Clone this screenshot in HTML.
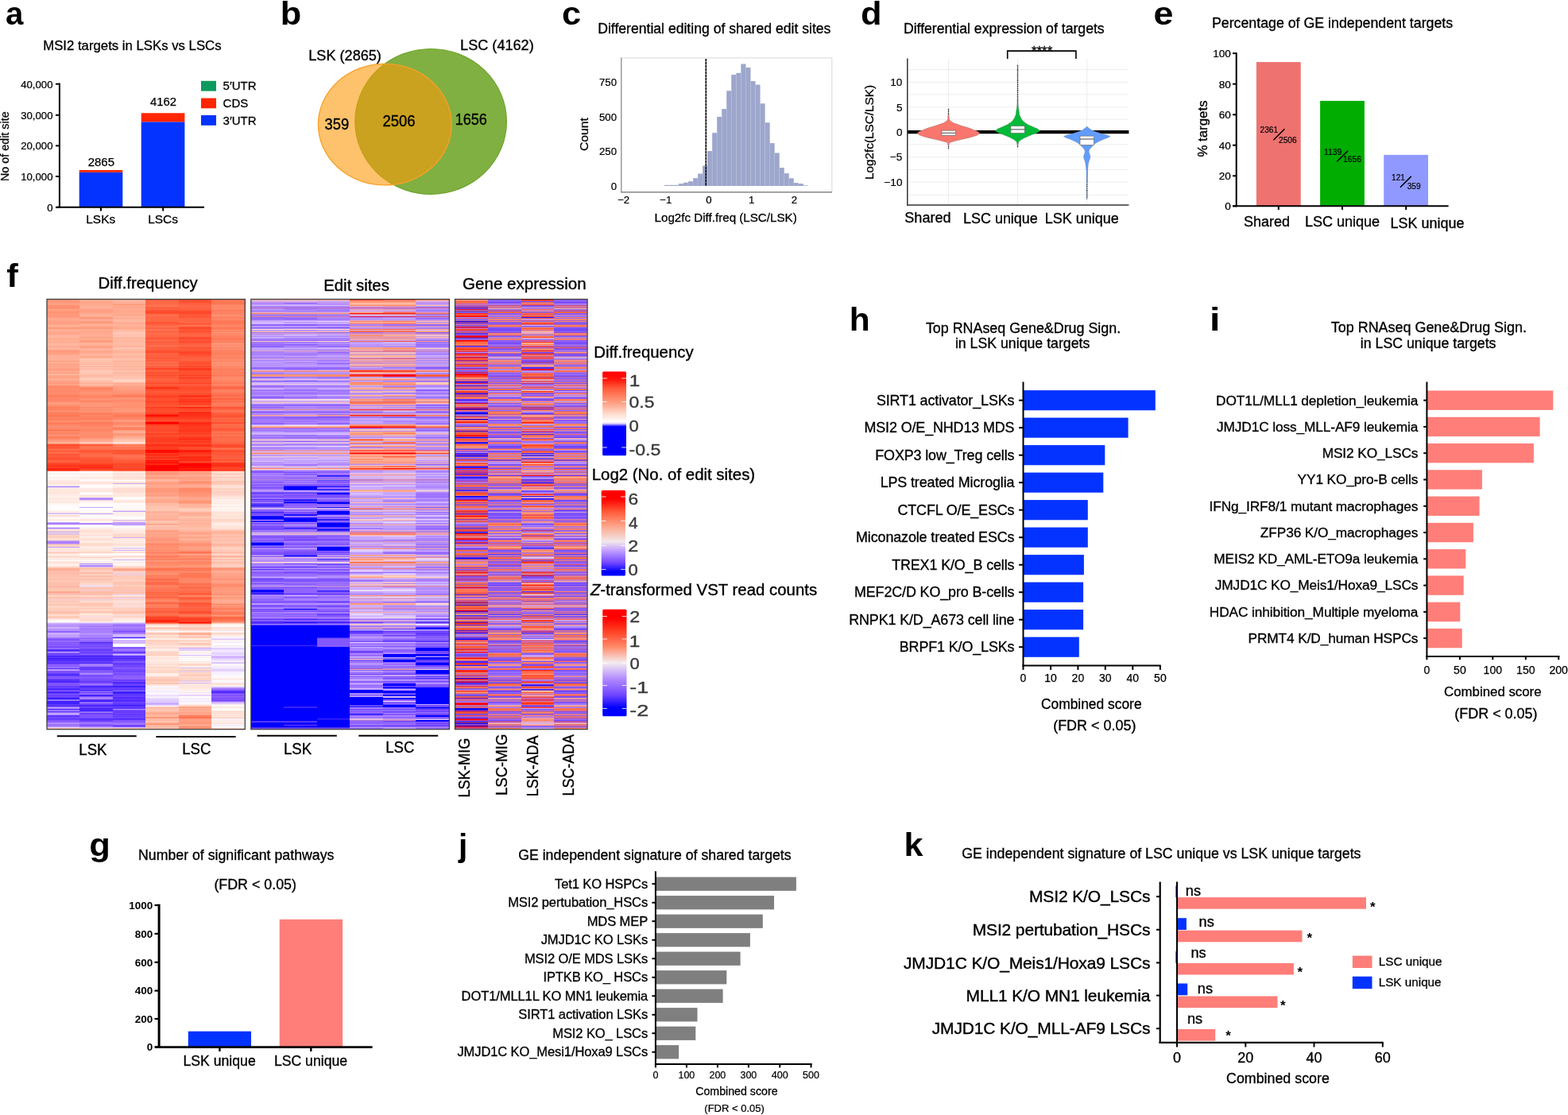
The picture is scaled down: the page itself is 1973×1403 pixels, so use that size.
<!DOCTYPE html>
<html lang="en"><head><meta charset="utf-8"><title>Figure</title>
<style>
html,body{margin:0;padding:0;background:#fff;}
body{width:1973px;height:1403px;position:relative;overflow:hidden;font-family:"Liberation Sans", sans-serif;}
svg{position:absolute;left:0;top:0;}
svg text{font-family:"Liberation Sans", sans-serif;}
.hm{position:absolute;top:377px;height:540px;}
.hm i{position:absolute;top:0;height:540px;display:block;}
#a0{left:58.90px;width:41.75px;background:linear-gradient(#ff987c 0 1px,#ff9c80 0 2px,#ff9474 0 3px,#ff9c80 0 5px,#ffa488 0 6px,#ff9c80 0 7px,#ff9474 0 8px,#ff9074 0 9px,#ff9070 0 10px,#ff8c70 0 11px,#ff9474 0 12px,#ffa488 0 13px,#ff9c7c 0 15px,#ff9474 0 17px,#ff9478 0 18px,#ff9878 0 19px,#ff9c80 0 20px,#ff9478 0 21px,#ff987c 0 22px,#ffa084 0 23px,#ffa488 0 24px,#ffa88c 0 26px,#ffa488 0 27px,#ffa084 0 29px,#ffa088 0 30px,#ffa084 0 31px,#ffa88c 0 32px,#ffac94 0 33px,#ffb49c 0 34px,#ffa488 0 35px,#ff9c7c 0 36px,#ff9c80 0 37px,#ffa488 0 38px,#ffbca4 0 39px,#ffa890 0 40px,#ffac90 0 41px,#ffa890 0 42px,#ffa488 0 43px,#ffa890 0 44px,#ffb098 0 45px,#ffb49c 0 48px,#ffb094 0 49px,#ffac94 0 50px,#ffb094 0 51px,#ffb098 0 54px,#ffac90 0 55px,#ffb8a4 0 56px,#ffb8a0 0 57px,#ffb098 0 59px,#ffac94 0 60px,#ffb098 0 61px,#ffb8a0 0 63px,#ffa084 0 64px,#ff9c80 0 67px,#ffa084 0 69px,#ffa890 0 70px,#ffb098 0 71px,#ffac94 0 72px,#ffb098 0 74px,#ffac94 0 75px,#ffb498 0 76px,#ffa890 0 77px,#ffa88c 0 79px,#ffb49c 0 80px,#ffac94 0 81px,#ff9c80 0 82px,#ffa88c 0 83px,#ffac90 0 84px,#ff9c80 0 85px,#ffb098 0 86px,#ffa488 0 87px,#ff9c7c 0 88px,#ff9c80 0 89px,#ffa890 0 91px,#ffa88c 0 92px,#ffa488 0 93px,#ffa88c 0 94px,#ffc0ac 0 95px,#ffa488 0 98px,#ffa084 0 99px,#ffac90 0 100px,#ffb094 0 101px,#ffac94 0 102px,#ff9c80 0 103px,#ffa488 0 104px,#ffa088 0 105px,#ff9474 0 106px,#ffa890 0 107px,#ff9c80 0 108px,#ff9074 0 109px,#ff8c6c 0 110px,#ff8868 0 112px,#ff9070 0 113px,#ff8c70 0 114px,#ff8868 0 115px,#ff886c 0 116px,#ff8c70 0 117px,#ff8c6c 0 120px,#ff7c5c 0 122px,#ff8060 0 123px,#ff8868 0 124px,#ff886c 0 125px,#ff8464 0 127px,#ff8868 0 128px,#ff9074 0 129px,#ff9478 0 130px,#ffa488 0 131px,#ff9878 0 132px,#ff9070 0 134px,#ff8868 0 135px,#ff8060 0 136px,#ff7c58 0 137px,#ff8464 0 139px,#ff8864 0 140px,#ff9474 0 141px,#ff8c6c 0 142px,#ff7858 0 143px,#ff8464 0 144px,#ff8060 0 145px,#ff7854 0 146px,#ff7450 0 147px,#ff8060 0 148px,#ff8464 0 149px,#ff805c 0 152px,#ff8864 0 153px,#ff9878 0 154px,#ff8060 0 155px,#ff7858 0 156px,#ff8060 0 157px,#ff8864 0 158px,#ff8868 0 159px,#ff9074 0 160px,#ff8c70 0 161px,#ff886c 0 162px,#ff8c70 0 163px,#ff7c5c 0 164px,#ff7858 0 165px,#ff7c5c 0 166px,#ff9474 0 167px,#ff8060 0 168px,#ff8464 0 169px,#ff886c 0 170px,#ff9474 0 171px,#ff8c70 0 172px,#ff8464 0 173px,#ff7858 0 174px,#ff8464 0 176px,#ff9c80 0 177px,#ff987c 0 178px,#ffa084 0 179px,#ffac90 0 180px,#ffb8a0 0 181px,#ff8468 0 182px,#ff5434 0 183px,#ff482c 0 184px,#ff5838 0 187px,#ff5c3c 0 188px,#ff7450 0 189px,#ff6040 0 192px,#ff6c48 0 193px,#ff6c4c 0 194px,#ff5838 0 195px,#ff5434 0 196px,#ff5c3c 0 198px,#ff5434 0 199px,#ff5030 0 201px,#ff5434 0 202px,#ff5c3c 0 203px,#ff6444 0 204px,#ff5c3c 0 205px,#ff4c30 0 206px,#ff4428 0 207px,#ff4024 0 208px,#ff3820 0 209px,#ff3418 0 210px,#ff381c 0 211px,#ff4424 0 212px,#ff2410 0 215px,#ff5c48 0 216px,#fff8f8 0 217px,#fff8f4 0 219px,#ffece4 0 220px,#fff8f4 0 221px,#fffcfc 0 223px,#fff0e8 0 225px,#fff8f4 0 226px,#fff4f4 0 227px,#ffece4 0 228px,#ffe8e0 0 230px,#ffe4dc 0 232px,#ffe8dc 0 233px,#fff4ec 0 234px,#e8dcf8 0 235px,#ac80ff 0 236px,#e8d8f4 0 237px,#ffece4 0 238px,#ffe8e0 0 242px,#ffe4dc 0 243px,#ffe4d8 0 244px,#ffe8e0 0 245px,#ffece4 0 246px,#ffece8 0 247px,#fff0e8 0 249px,#ffece8 0 250px,#ffe4dc 0 251px,#ffe8e0 0 252px,#fff0ec 0 253px,#ffece4 0 254px,#ffe4d8 0 255px,#ffece4 0 256px,#fff4f0 0 258px,#fffcfc 0 259px,#fff8f8 0 260px,#fffcfc 0 263px,#fffcf8 0 266px,#ffece4 0 267px,#ffece8 0 268px,#e8d4f0 0 269px,#d4b8f4 0 270px,#fff4f0 0 271px,#ffe0d4 0 272px,#ffe0d8 0 273px,#ffece8 0 274px,#fffcfc 0 275px,#fff8f4 0 276px,#ffece4 0 278px,#fff4ec 0 279px,#fffcf8 0 280px,#c0a0fc 0 281px,#ac80ff 0 283px,#e8d8f8 0 284px,#fffcf8 0 285px,#fffcfc 0 286px,#e8d8f4 0 287px,#ac80ff 0 288px,#d4b8f4 0 289px,#ffe8e0 0 290px,#ffe0d4 0 291px,#ffd8cc 0 292px,#c09cf8 0 293px,#ffece4 0 294px,#d4b0e8 0 295px,#e8c8dc 0 296px,#ffd4c8 0 297px,#ffd0c0 0 298px,#ffd0bc 0 300px,#ffe0d4 0 302px,#ffdcd0 0 303px,#d4a8e0 0 304px,#ac80ff 0 307px,#d4a4dc 0 308px,#ffccb8 0 309px,#ffd0bc 0 310px,#ffdccc 0 311px,#c098f4 0 312px,#ffe8e0 0 313px,#ffe4dc 0 315px,#ffe4d8 0 316px,#ffece4 0 317px,#ffd4c8 0 318px,#ffccbc 0 319px,#ffd8c8 0 320px,#fff0ec 0 322px,#ffdccc 0 323px,#ffdcd0 0 324px,#ffe0d8 0 325px,#ffece8 0 327px,#ffece4 0 328px,#fffcf8 0 329px,#ffe8e0 0 330px,#ffe0d4 0 331px,#ffe4dc 0 332px,#ffece8 0 333px,#fff0e8 0 335px,#ffe4d8 0 336px,#ffdcd0 0 337px,#ffc0ac 0 338px,#ffb098 0 341px,#ffb4a0 0 342px,#ffc4b4 0 343px,#ffbca8 0 344px,#ffb8a4 0 345px,#ffc0ac 0 349px,#ffc4b0 0 350px,#ffc8b4 0 351px,#ffbca8 0 352px,#ffc0ac 0 353px,#ffc8b4 0 354px,#ffccb8 0 355px,#ffc0ac 0 358px,#ffbca8 0 359px,#ffc8b4 0 360px,#ffb098 0 361px,#f8c0bc 0 362px,#ffbca4 0 363px,#ffc0ac 0 364px,#ffc8b4 0 367px,#ffa88c 0 369px,#f8b4ac 0 370px,#ffc0ac 0 371px,#ffc4b0 0 372px,#ffd0c0 0 373px,#ffd4c8 0 374px,#ffc0ac 0 376px,#ffccb8 0 377px,#f8c8c8 0 378px,#f8cccc 0 379px,#ffc8b4 0 381px,#ffd0c0 0 383px,#ffc4b0 0 384px,#ffc8b4 0 385px,#ffd4c8 0 387px,#ffd4c4 0 388px,#ffd0bc 0 389px,#ffccb8 0 391px,#f8cccc 0 392px,#ffc0ac 0 393px,#ffc0a8 0 395px,#ffccbc 0 396px,#ffd8c8 0 397px,#ffdcd0 0 398px,#ffccb8 0 399px,#ffc8b4 0 400px,#ffc8b8 0 401px,#ffe0d4 0 402px,#ffece4 0 403px,#fff0e8 0 404px,#fffcfc 0 406px,#e8d4fc 0 407px,#ccb0ff 0 408px,#c0a0ff 0 409px,#b894ff 0 412px,#ccacff 0 413px,#d0b4ff 0 414px,#b490ff 0 415px,#bc98ff 0 416px,#b48cff 0 417px,#9064ff 0 418px,#986cff 0 419px,#c0a0ff 0 420px,#d0b0ff 0 421px,#ccacff 0 422px,#b894ff 0 423px,#c4a4ff 0 424px,#c09cff 0 425px,#a478ff 0 426px,#9064ff 0 427px,#8054ff 0 428px,#7c50ff 0 429px,#9c70ff 0 430px,#9468ff 0 431px,#8058ff 0 432px,#8c5cff 0 433px,#8858ff 0 434px,#8458ff 0 435px,#8c60ff 0 436px,#7448ff 0 437px,#8858ff 0 438px,#7c50ff 0 439px,#a884ff 0 440px,#4824ff 0 441px,#502cff 0 442px,#6038ff 0 443px,#c4a4ff 0 444px,#906cff 0 445px,#7044ff 0 446px,#6c44ff 0 447px,#7448ff 0 448px,#3c20ff 0 449px,#542cff 0 450px,#5c34ff 0 451px,#4424ff 0 452px,#3c20ff 0 453px,#5c34ff 0 454px,#4c28ff 0 455px,#6c40ff 0 456px,#5c34ff 0 458px,#6c40ff 0 459px,#9064ff 0 460px,#8c60ff 0 461px,#7c50ff 0 462px,#b490ff 0 463px,#7448ff 0 465px,#b08cff 0 466px,#c4a4ff 0 467px,#8050ff 0 469px,#784cff 0 470px,#643cff 0 471px,#6038ff 0 472px,#3c20ff 0 473px,#7448ff 0 474px,#784cff 0 475px,#8458ff 0 477px,#7044ff 0 478px,#542cff 0 479px,#5c34ff 0 480px,#4424ff 0 481px,#4c28ff 0 482px,#7c50ff 0 483px,#8454ff 0 484px,#8054ff 0 486px,#6840ff 0 487px,#6038ff 0 488px,#7048ff 0 489px,#502cff 0 490px,#3c20ff 0 491px,#7448ff 0 492px,#8458ff 0 493px,#502cff 0 494px,#3c20ff 0 495px,#6438ff 0 496px,#8054ff 0 497px,#6c40ff 0 498px,#6c44ff 0 499px,#7448ff 0 500px,#6038ff 0 501px,#3c20ff 0 503px,#8868ff 0 504px,#a480ff 0 505px,#3c20ff 0 507px,#4424ff 0 508px,#3c20ff 0 509px,#6038ff 0 510px,#5c34ff 0 511px,#4c28ff 0 512px,#8c68ff 0 513px,#c4a4ff 0 514px,#9c74ff 0 515px,#7044ff 0 517px,#c4a4ff 0 518px,#4424ff 0 519px,#9470ff 0 520px,#c4a4ff 0 522px,#ac88ff 0 523px,#6034ff 0 524px,#6038ff 0 525px,#6c44ff 0 526px,#7448ff 0 527px,#6038ff 0 528px,#6c40ff 0 529px,#8054ff 0 530px,#8858ff 0 531px,#9060ff 0 532px,#ac88ff 0 533px,#b48cff 0 534px,#a47cff 0 535px,#986cff 0 536px,#a880ff 0 537px,#b48cff 0 538px,#e4d0fc 0 539px,#ffbca8 0)}
#a1{left:100.35px;width:41.75px;background:linear-gradient(#ffb094 0 1px,#ffac90 0 2px,#ffa88c 0 3px,#ffa488 0 4px,#ffa890 0 5px,#ffa488 0 6px,#ffac90 0 7px,#ffac94 0 9px,#ffb098 0 11px,#ffa890 0 12px,#ffa084 0 13px,#ff9c7c 0 14px,#ffa488 0 15px,#ff9c80 0 16px,#ffa88c 0 17px,#ffa890 0 18px,#ffac90 0 19px,#ffb098 0 20px,#ffb49c 0 21px,#ffa48c 0 22px,#ff9c7c 0 23px,#ff9c80 0 25px,#ffb49c 0 26px,#ffa88c 0 27px,#ffa084 0 28px,#ff987c 0 29px,#ff9478 0 30px,#ffb094 0 32px,#ffac94 0 33px,#ffa88c 0 34px,#ffa084 0 35px,#ff9c80 0 37px,#ffa488 0 38px,#ffb8a0 0 39px,#ffa488 0 40px,#ffa48c 0 41px,#ffac90 0 43px,#ffa88c 0 44px,#ffb098 0 45px,#ffac90 0 47px,#ffa488 0 49px,#ffb094 0 50px,#ffac94 0 51px,#ff9c7c 0 52px,#ff9c80 0 53px,#ffa084 0 54px,#ffa88c 0 55px,#ffb8a0 0 56px,#ffb098 0 58px,#ffa88c 0 59px,#ffa084 0 61px,#ffac94 0 62px,#ffbca4 0 63px,#ffb098 0 64px,#ffa88c 0 66px,#ffa890 0 67px,#ffac94 0 68px,#ffb094 0 69px,#ffb8a4 0 70px,#ffb49c 0 71px,#ffa88c 0 72px,#ffac90 0 73px,#ffb49c 0 74px,#ffc0a8 0 75px,#ffccb8 0 76px,#ffc4ac 0 77px,#ffc0ac 0 78px,#ffc0a8 0 79px,#ffc0ac 0 80px,#ffbca4 0 81px,#ffb49c 0 82px,#ffc4b4 0 83px,#ffc4b0 0 84px,#ffac94 0 85px,#ffc8b4 0 86px,#ffbca4 0 87px,#ffb8a4 0 88px,#ffc4b4 0 89px,#ffc8b8 0 91px,#ffccb8 0 92px,#ffc8b4 0 93px,#ffc0ac 0 94px,#ffc4b0 0 95px,#ffb49c 0 96px,#ffbca4 0 97px,#ffbca8 0 98px,#ffc8b4 0 99px,#ffccbc 0 100px,#ffd0c0 0 101px,#ffc4ac 0 102px,#ffbca8 0 103px,#ffc0ac 0 104px,#ffbca8 0 105px,#ffac94 0 106px,#ffb8a4 0 107px,#ffbca4 0 108px,#ffb094 0 109px,#ff9c80 0 110px,#ff9070 0 111px,#ff8060 0 112px,#ff8464 0 113px,#ff8868 0 114px,#ff8c6c 0 116px,#ff9474 0 119px,#ff9074 0 120px,#ff886c 0 121px,#ff8464 0 122px,#ff8868 0 124px,#ff886c 0 125px,#ff9878 0 126px,#ff8c70 0 127px,#ff8c6c 0 128px,#ff8060 0 129px,#ff8c70 0 130px,#ffa488 0 131px,#ff8c6c 0 132px,#ff9c7c 0 133px,#ff9c80 0 134px,#ff9878 0 135px,#ff886c 0 136px,#ff9070 0 137px,#ff9474 0 138px,#ff9070 0 139px,#ff8c6c 0 140px,#ff9878 0 141px,#ff9070 0 142px,#ff8868 0 143px,#ff7c5c 0 145px,#ff8864 0 147px,#ff8060 0 148px,#ff8464 0 149px,#ff8060 0 150px,#ff7854 0 151px,#ff8c6c 0 152px,#ff9070 0 153px,#ff8c6c 0 154px,#ff7858 0 155px,#ff7c58 0 156px,#ff8060 0 159px,#ff8868 0 160px,#ff9070 0 161px,#ff8868 0 164px,#ff8464 0 165px,#ff8868 0 166px,#ff9070 0 168px,#ff8c70 0 169px,#ff8c6c 0 170px,#ff9070 0 171px,#ff8868 0 172px,#ff9070 0 173px,#ff8c6c 0 174px,#ff9474 0 175px,#ffa080 0 176px,#ffa890 0 177px,#ffa88c 0 178px,#ffb098 0 179px,#ffc0ac 0 180px,#ffd0c4 0 181px,#ffa088 0 182px,#ff6444 0 183px,#ff5838 0 184px,#ff7050 0 185px,#ff7454 0 187px,#ff7050 0 189px,#ff5838 0 191px,#ff5434 0 192px,#ff6040 0 193px,#ff6844 0 195px,#ff6848 0 196px,#ff7050 0 197px,#ff6848 0 198px,#ff5c3c 0 199px,#ff5838 0 202px,#ff5030 0 203px,#ff5434 0 205px,#ff5030 0 206px,#ff4828 0 207px,#ff3c20 0 208px,#ff341c 0 209px,#ff2c14 0 210px,#ff3018 0 211px,#ff2c14 0 212px,#ff341c 0 213px,#ff3c20 0 214px,#ff5030 0 215px,#ff8068 0 216px,#fffcfc 0 217px,#fffcf8 0 218px,#fff4f0 0 219px,#fff0ec 0 220px,#fff4ec 0 221px,#fff4f0 0 222px,#fff8f8 0 223px,#ffe4d8 0 224px,#ffece8 0 226px,#fff8f4 0 227px,#fffcfc 0 228px,#fff0ec 0 229px,#ffe8e0 0 230px,#ffe4dc 0 232px,#ffece8 0 233px,#fff8f4 0 234px,#fff 0 235px,#fff8f8 0 236px,#fffcfc 0 237px,#ffece8 0 239px,#ffece4 0 240px,#ffe8e0 0 241px,#ffe4dc 0 242px,#fff4f0 0 243px,#fffffc 0 244px,#fffcfc 0 245px,#fff4f0 0 246px,#ffe4dc 0 247px,#ffe0d4 0 248px,#fff0e8 0 249px,#c4a0f8 0 250px,#b088ff 0 252px,#eccce4 0 253px,#fff0e8 0 254px,#fff4f0 0 256px,#fffcfc 0 258px,#fffcf8 0 260px,#fffcfc 0 261px,#c4a4ff 0 262px,#fffcfc 0 263px,#fffffc 0 265px,#fff8f4 0 266px,#fffcfc 0 268px,#ffece4 0 269px,#c4a0f8 0 270px,#fff0ec 0 271px,#fff 0 272px,#fffcfc 0 273px,#fff8f8 0 274px,#fff8f4 0 275px,#fff4f0 0 276px,#ffe8e0 0 278px,#ffece4 0 279px,#fff8f4 0 280px,#fffcfc 0 281px,#b088ff 0 283px,#ece0ff 0 284px,#fffcfc 0 286px,#fff4f4 0 287px,#ffece8 0 288px,#ffece4 0 289px,#ffe8e0 0 290px,#ffe4d8 0 291px,#ffd8cc 0 292px,#ffe4dc 0 293px,#ffe4d8 0 294px,#ffe8e0 0 295px,#ffece4 0 296px,#ffe0d8 0 298px,#fff4f0 0 299px,#ffe8e4 0 300px,#ffe8e0 0 301px,#ffdccc 0 302px,#ffe0d4 0 303px,#ffe8e0 0 304px,#ffece4 0 306px,#ffe4d8 0 307px,#ffd0c0 0 308px,#ffe0d4 0 309px,#ffdcd0 0 310px,#ffe8dc 0 311px,#fff0ec 0 312px,#ffece4 0 313px,#ffe8e0 0 315px,#ffe0d4 0 316px,#ffe8dc 0 317px,#ffd4c4 0 318px,#ffd4c8 0 319px,#fff0e8 0 320px,#fffffc 0 321px,#fff0e8 0 322px,#fff0ec 0 323px,#ffe4dc 0 324px,#ffd0c0 0 325px,#ffece4 0 328px,#fffcfc 0 329px,#fff0ec 0 330px,#ffe8e0 0 331px,#fff0ec 0 332px,#b088ff 0 333px,#ecdcf8 0 334px,#b088ff 0 336px,#d8b8ec 0 337px,#ffccb8 0 338px,#ffbca4 0 339px,#ffc8b4 0 340px,#ffccb8 0 341px,#ffd0c0 0 342px,#ffd8cc 0 343px,#ffb49c 0 344px,#ffc4b0 0 345px,#ffc8b8 0 346px,#ffd4c8 0 347px,#ffc0ac 0 348px,#ffbca8 0 349px,#ffc8b4 0 350px,#ffccb8 0 351px,#ffc0a8 0 352px,#f8c4c0 0 353px,#ffc4b0 0 354px,#ffd0c0 0 355px,#ffccb8 0 356px,#ffd0bc 0 357px,#ffd8cc 0 358px,#ffdccc 0 359px,#f0d8ec 0 360px,#f8e0e4 0 361px,#f8d4d4 0 362px,#f8c0bc 0 363px,#ffc4ac 0 364px,#ffc8b4 0 365px,#f8c8c8 0 366px,#f8c8c4 0 367px,#ffbca8 0 370px,#ffc0ac 0 371px,#ffc4b0 0 372px,#ffd4c4 0 373px,#ffd8cc 0 374px,#ffc8b4 0 375px,#ffc0ac 0 376px,#f8cccc 0 378px,#f8d4d8 0 379px,#ffdccc 0 380px,#ffdcd0 0 381px,#ffd0c0 0 382px,#ffc8b4 0 383px,#ffc0a8 0 384px,#ffc8b8 0 386px,#ffd0bc 0 387px,#ffd8c8 0 388px,#ffc8b8 0 389px,#ffccb8 0 390px,#ffdccc 0 391px,#ffd4c4 0 392px,#ffc4b4 0 393px,#ffc4b0 0 394px,#ffd4c4 0 395px,#ffe4dc 0 396px,#ffece4 0 397px,#ffdccc 0 398px,#f8e0e4 0 399px,#f8d8dc 0 400px,#ffdcd0 0 401px,#ffe0d4 0 402px,#ffd4c4 0 403px,#ffd8cc 0 404px,#ffe0d4 0 405px,#fff0ec 0 406px,#e8d4fc 0 407px,#ccacff 0 408px,#b890ff 0 409px,#b088ff 0 410px,#ac84ff 0 411px,#a074ff 0 412px,#b490ff 0 413px,#ac80ff 0 414px,#a074ff 0 415px,#a880ff 0 419px,#ac84ff 0 420px,#b894ff 0 421px,#b490ff 0 422px,#a880ff 0 426px,#8458ff 0 427px,#a880ff 0 428px,#986cff 0 430px,#885cff 0 431px,#5430ff 0 432px,#683cff 0 433px,#784cff 0 434px,#7448ff 0 435px,#8054ff 0 436px,#7044ff 0 437px,#8458ff 0 438px,#8054ff 0 439px,#784cff 0 440px,#643cff 0 441px,#683cff 0 442px,#744cff 0 443px,#7044ff 0 444px,#6840ff 0 445px,#7850ff 0 446px,#8860ff 0 447px,#6c40ff 0 448px,#4020ff 0 449px,#5430ff 0 450px,#5830ff 0 451px,#4c28ff 0 452px,#502cff 0 455px,#6c44ff 0 456px,#643cff 0 457px,#4828ff 0 458px,#9870ff 0 459px,#a880ff 0 461px,#9c70ff 0 462px,#6840ff 0 463px,#643cff 0 465px,#683cff 0 466px,#7448ff 0 467px,#9870ff 0 468px,#6c40ff 0 469px,#a078ff 0 470px,#a880ff 0 472px,#845cff 0 473px,#6c40ff 0 474px,#8458ff 0 475px,#885cff 0 476px,#8054ff 0 477px,#7c50ff 0 478px,#784cff 0 479px,#7448ff 0 480px,#6840ff 0 481px,#683cff 0 482px,#7448ff 0 483px,#9c70ff 0 485px,#8058ff 0 486px,#4c28ff 0 487px,#4424ff 0 488px,#643cff 0 489px,#6038ff 0 490px,#6840ff 0 491px,#5c34ff 0 492px,#5834ff 0 493px,#a880ff 0 494px,#5838ff 0 495px,#9068ff 0 496px,#9c74ff 0 497px,#4424ff 0 498px,#4420ff 0 499px,#744cff 0 500px,#a880ff 0 503px,#5c38ff 0 504px,#4824ff 0 505px,#4020ff 0 506px,#7c54ff 0 507px,#a880ff 0 508px,#7048ff 0 510px,#4824ff 0 511px,#4c28ff 0 512px,#6c44ff 0 513px,#6840ff 0 514px,#4824ff 0 515px,#4828ff 0 516px,#4c28ff 0 517px,#4424ff 0 518px,#7c58ff 0 519px,#a880ff 0 520px,#5c34ff 0 521px,#784cff 0 523px,#8458ff 0 524px,#7c50ff 0 525px,#8054ff 0 526px,#7448ff 0 527px,#5c34ff 0 528px,#5830ff 0 529px,#6038ff 0 530px,#7448ff 0 531px,#8458ff 0 532px,#a880ff 0 533px,#986cff 0 534px,#9468ff 0 535px,#7448ff 0 536px,#9064ff 0 537px,#a078ff 0 538px,#d0b4ff 0 539px,#ffccbc 0)}
#a2{left:141.80px;width:41.75px;background:linear-gradient(#ffb8a0 0 1px,#ffb49c 0 2px,#ffb4a0 0 3px,#ffb098 0 4px,#ffb49c 0 5px,#ff9c7c 0 7px,#ffa88c 0 8px,#ffa890 0 9px,#ffa88c 0 10px,#ffa48c 0 11px,#ffac90 0 12px,#ffac94 0 13px,#ffa88c 0 15px,#ffa890 0 16px,#ffa88c 0 17px,#ffac90 0 18px,#ffa88c 0 19px,#ffa890 0 20px,#ffac90 0 21px,#ffb49c 0 23px,#ffa890 0 24px,#ffb098 0 25px,#ffb8a4 0 27px,#ffb8a0 0 28px,#ffb49c 0 29px,#ffa890 0 30px,#ffb098 0 31px,#ffb094 0 32px,#ffb49c 0 33px,#ffb098 0 34px,#ffac90 0 36px,#ffa88c 0 37px,#ffb094 0 38px,#ffc4b0 0 39px,#ffb49c 0 40px,#ffc4b0 0 41px,#ffc8b4 0 42px,#ffc8b8 0 43px,#ffc4b4 0 44px,#ffc4b0 0 45px,#ffc0ac 0 46px,#ffc8b4 0 47px,#ffb8a4 0 48px,#ffb49c 0 49px,#ffb8a0 0 50px,#ffbca4 0 51px,#ffb8a0 0 54px,#ffb8a4 0 55px,#ffc0a8 0 56px,#ffb8a0 0 57px,#ffbca8 0 58px,#ffb49c 0 59px,#ffb4a0 0 60px,#ffc4b0 0 62px,#ffc0ac 0 63px,#ffb49c 0 64px,#ffbca4 0 65px,#ffb094 0 66px,#ffb49c 0 67px,#ffb8a0 0 68px,#ffbca8 0 69px,#ffc0a8 0 70px,#ffb8a0 0 71px,#ffb098 0 72px,#ffbca8 0 75px,#ffc4b0 0 76px,#ffbca4 0 77px,#ffb8a0 0 78px,#ffb49c 0 79px,#ffbca4 0 81px,#ffb49c 0 82px,#ffbca8 0 83px,#ffbca4 0 84px,#ffac94 0 85px,#ffc0a8 0 86px,#ffb8a0 0 87px,#ffb8a4 0 88px,#ffb4a0 0 89px,#ffc0ac 0 90px,#ffc4b0 0 91px,#ffbca4 0 92px,#ffb49c 0 93px,#ffb8a4 0 94px,#ffc4ac 0 95px,#ffb8a0 0 96px,#ffc4b0 0 97px,#ffc4ac 0 98px,#ffc0ac 0 99px,#ffccbc 0 101px,#ffd0bc 0 102px,#ffd8c8 0 103px,#ffd0c0 0 104px,#ffb8a4 0 105px,#ffa890 0 106px,#ffb094 0 107px,#ffac94 0 108px,#ffa88c 0 109px,#ffa084 0 110px,#ffa488 0 111px,#ff9c80 0 112px,#ffa084 0 113px,#ff9c80 0 115px,#ff9478 0 116px,#ff9474 0 118px,#ff9074 0 119px,#ff8868 0 120px,#ff7c5c 0 121px,#ff7858 0 122px,#ff805c 0 123px,#ff9474 0 125px,#ff9478 0 126px,#ff8868 0 128px,#ff9070 0 129px,#ff8c6c 0 130px,#ff987c 0 131px,#ff9070 0 132px,#ff9474 0 134px,#ff8c70 0 135px,#ff9070 0 136px,#ff9474 0 137px,#ff9878 0 138px,#ff987c 0 139px,#ff9878 0 140px,#ffa084 0 141px,#ff9478 0 142px,#ff8868 0 143px,#ff8464 0 144px,#ff8060 0 145px,#ff7c5c 0 146px,#ff7450 0 147px,#ff8060 0 148px,#ff8464 0 150px,#ff8868 0 151px,#ff9474 0 152px,#ffa084 0 153px,#ff987c 0 154px,#ff8868 0 156px,#ff8c6c 0 158px,#ff9878 0 159px,#ffa088 0 160px,#ff8c70 0 161px,#ff8060 0 163px,#ff805c 0 164px,#ffa084 0 165px,#ffa488 0 166px,#ffac90 0 167px,#ffac94 0 168px,#ff9878 0 169px,#ff9474 0 170px,#ff9c7c 0 171px,#ffa080 0 172px,#ffa890 0 174px,#ffb49c 0 175px,#ffb8a0 0 176px,#ffc4b0 0 178px,#ffccb8 0 179px,#ffd8c8 0 180px,#fff0e8 0 181px,#ffb8a4 0 182px,#ff8464 0 183px,#ff7c58 0 184px,#ff8464 0 185px,#ff7454 0 187px,#ff7858 0 188px,#ff7454 0 189px,#ff5434 0 194px,#ff6040 0 195px,#ff6848 0 196px,#ff7454 0 198px,#ff6c4c 0 199px,#ff6c48 0 200px,#ff6848 0 201px,#ff6444 0 202px,#ff5838 0 203px,#ff603c 0 204px,#ff5838 0 205px,#ff5434 0 206px,#ff482c 0 207px,#ff4428 0 208px,#ff4c2c 0 210px,#ff4c30 0 211px,#ff4c2c 0 212px,#ff4428 0 214px,#ff4424 0 215px,#ff7458 0 216px,#ffe8e0 0 219px,#ffdcd4 0 220px,#ffe4dc 0 221px,#ffe8e0 0 223px,#ffdcd0 0 224px,#ffe0d4 0 225px,#ffe4d8 0 226px,#ffe8e0 0 227px,#fffcfc 0 228px,#fff4f0 0 229px,#ffe8e0 0 230px,#ffdcd0 0 231px,#d0acf4 0 232px,#ffe8dc 0 233px,#fff4f0 0 234px,#fff8f4 0 235px,#ffe8e0 0 236px,#ffece4 0 237px,#ffdcd0 0 240px,#ffe0d4 0 241px,#ffdcd0 0 243px,#ffe8e0 0 244px,#ffece4 0 245px,#ffe8e0 0 247px,#ffe8dc 0 248px,#fff4f0 0 249px,#fffcfc 0 251px,#fff8f8 0 252px,#ffe8e0 0 256px,#fffcf8 0 257px,#fff 0 258px,#fff8f8 0 260px,#fffcfc 0 261px,#fff8f4 0 265px,#f0dcf0 0 266px,#c09cff 0 267px,#ffece4 0 268px,#fff0ec 0 272px,#fff8f4 0 273px,#fffcf8 0 275px,#fffcfc 0 276px,#fff4f0 0 277px,#e0c0ec 0 278px,#f0d0e0 0 279px,#ffece8 0 280px,#c09cff 0 284px,#f0e4fc 0 285px,#fffffc 0 286px,#fffcf8 0 287px,#fff4f4 0 288px,#fff0ec 0 289px,#fff0e8 0 290px,#ffece8 0 291px,#ffe4d8 0 292px,#ffece8 0 293px,#ffe8dc 0 294px,#ffe0d8 0 295px,#ffd8cc 0 298px,#ffd4c8 0 299px,#d0b0f8 0 300px,#ffe4dc 0 301px,#ffe8e0 0 302px,#fff0e8 0 303px,#ffe8dc 0 304px,#ffece4 0 305px,#ffece8 0 306px,#ffe8e0 0 307px,#ffe0d4 0 309px,#ffe4dc 0 310px,#ffece4 0 311px,#fff4f0 0 312px,#e0ccfc 0 313px,#f0dcf4 0 314px,#ffece4 0 315px,#d0b0f8 0 316px,#fff0ec 0 317px,#ffe0d4 0 318px,#ffdcd0 0 319px,#fffcf8 0 320px,#fff8f8 0 321px,#fffcf8 0 322px,#ffdcd0 0 323px,#ffe4dc 0 324px,#ffe0d4 0 325px,#fff8f4 0 326px,#fff0ec 0 327px,#d0b0f8 0 328px,#fff4f0 0 329px,#fff8f4 0 330px,#ffe8e0 0 331px,#fff0ec 0 332px,#fff8f4 0 333px,#fff4f0 0 335px,#ffdcd0 0 336px,#ffd8cc 0 337px,#ffccb8 0 338px,#ffb49c 0 339px,#ff9c80 0 340px,#ffa488 0 341px,#ffc0ac 0 342px,#ffd4c4 0 343px,#f8d0d0 0 344px,#f0ccdc 0 345px,#f8ccc8 0 346px,#f0ccdc 0 347px,#ffc8b4 0 349px,#ffccb8 0 350px,#ffd0bc 0 351px,#ffc4b4 0 352px,#ffd0c0 0 353px,#ffd4c4 0 354px,#ffccbc 0 355px,#ffc4ac 0 356px,#ffc4b0 0 358px,#ffc8b4 0 359px,#ffccb8 0 360px,#ffd0c0 0 361px,#ffc8b4 0 362px,#ffc0ac 0 363px,#ffc8b8 0 364px,#ffc4b0 0 365px,#ffc0a8 0 366px,#f8c4c0 0 367px,#ffc4b4 0 368px,#ffc0ac 0 370px,#f8cccc 0 371px,#f0d4e4 0 372px,#ffe8dc 0 373px,#ffe0d8 0 374px,#f8c8c4 0 375px,#eccce8 0 376px,#f8d4d4 0 377px,#ffd0c0 0 378px,#f8dcdc 0 379px,#ffe0d4 0 381px,#ffe0d8 0 382px,#ffd4c8 0 383px,#f8d8d8 0 384px,#ffe0d4 0 385px,#ffdcd0 0 386px,#f8d8dc 0 387px,#ffd8cc 0 388px,#ffd0c0 0 390px,#ffd0bc 0 391px,#ffccbc 0 392px,#ffc4b0 0 393px,#ffc0ac 0 395px,#ffd0c0 0 396px,#ffe0d4 0 397px,#f8d8dc 0 398px,#ffd0c0 0 399px,#ffd8cc 0 400px,#ffe0d4 0 401px,#ffe8dc 0 402px,#ffece8 0 403px,#ffece4 0 404px,#fff4f0 0 405px,#fff8f8 0 406px,#e0ccff 0 407px,#c8a8ff 0 408px,#ac84ff 0 409px,#9c70ff 0 411px,#a478ff 0 412px,#ac80ff 0 413px,#ac84ff 0 414px,#9468ff 0 415px,#a478ff 0 416px,#8c60ff 0 417px,#7c50ff 0 418px,#8c60ff 0 419px,#a074ff 0 420px,#ac80ff 0 421px,#d4b8ff 0 424px,#b094ff 0 425px,#3c20ff 0 426px,#d0c8ff 0 427px,#fff 0 428px,#d4b8ff 0 433px,#fff 0 437px,#8054ff 0 438px,#885cff 0 439px,#8c60ff 0 440px,#a884ff 0 441px,#9870ff 0 442px,#8c60ff 0 443px,#6840ff 0 444px,#6038ff 0 445px,#9874ff 0 446px,#d4b8ff 0 447px,#b898ff 0 448px,#502cff 0 449px,#6038ff 0 451px,#4824ff 0 452px,#6038ff 0 453px,#643cff 0 454px,#683cff 0 455px,#8458ff 0 457px,#643cff 0 459px,#683cff 0 460px,#784cff 0 461px,#683cff 0 462px,#8454ff 0 463px,#8054ff 0 465px,#744cff 0 466px,#7044ff 0 469px,#8458ff 0 470px,#7c50ff 0 471px,#7c4cff 0 472px,#8054ff 0 473px,#885cff 0 474px,#8c60ff 0 475px,#9060ff 0 478px,#683cff 0 479px,#6c40ff 0 480px,#784cff 0 481px,#542cff 0 482px,#4424ff 0 483px,#643cff 0 484px,#6c40ff 0 486px,#3c20ff 0 488px,#6c40ff 0 489px,#6438ff 0 490px,#6038ff 0 491px,#6c4cff 0 492px,#886cff 0 493px,#3c20ff 0 496px,#643cff 0 497px,#5c34ff 0 498px,#643cff 0 499px,#6c40ff 0 500px,#4c28ff 0 501px,#542cff 0 502px,#5c34ff 0 504px,#4824ff 0 505px,#5c34ff 0 506px,#643cff 0 507px,#7048ff 0 508px,#5834ff 0 509px,#6038ff 0 510px,#4020ff 0 511px,#4828ff 0 512px,#6c44ff 0 513px,#5830ff 0 514px,#5c34ff 0 515px,#b898ff 0 516px,#784cff 0 517px,#6c40ff 0 518px,#643cff 0 519px,#683cff 0 520px,#6c40ff 0 522px,#5c34ff 0 523px,#7448ff 0 524px,#5c34ff 0 525px,#7448ff 0 526px,#6c40ff 0 527px,#502cff 0 528px,#5834ff 0 529px,#8054ff 0 530px,#8458ff 0 531px,#885cff 0 532px,#9468ff 0 533px,#a078ff 0 534px,#a478ff 0 535px,#7448ff 0 536px,#6840ff 0 537px,#7c50ff 0 538px,#d0b8ff 0 539px,#ffbca8 0)}
#a3{left:183.25px;width:41.75px;background:linear-gradient(#ff6040 0 1px,#ff5c3c 0 2px,#ff7454 0 3px,#ff6440 0 4px,#ff6848 0 5px,#ff6c48 0 7px,#ff7454 0 8px,#ff7450 0 9px,#ff6844 0 10px,#ff5838 0 11px,#ff6444 0 13px,#ff5434 0 15px,#ff4428 0 16px,#ff4c2c 0 17px,#ff5434 0 18px,#ff6440 0 19px,#ff6c4c 0 20px,#ff7050 0 21px,#ff6440 0 22px,#ff6848 0 23px,#ff6844 0 25px,#ff6848 0 26px,#ff6844 0 27px,#ff6440 0 28px,#ff6040 0 29px,#ff4c2c 0 30px,#ff5c3c 0 31px,#ff6040 0 32px,#ff6444 0 33px,#ff7050 0 34px,#ff704c 0 35px,#ff6444 0 37px,#ff6c4c 0 38px,#ff805c 0 39px,#ff6440 0 40px,#ff6444 0 41px,#ff6848 0 42px,#ff6c48 0 43px,#ff704c 0 44px,#ff6848 0 45px,#ff6844 0 47px,#ff6040 0 48px,#ff5838 0 49px,#ff5c3c 0 50px,#ff603c 0 51px,#ff6c4c 0 52px,#ff6444 0 53px,#ff5c3c 0 54px,#ff6040 0 55px,#ff6848 0 56px,#ff6040 0 57px,#ff6c4c 0 58px,#ff7050 0 59px,#ff6848 0 60px,#ff5c3c 0 61px,#ff6040 0 62px,#ff6444 0 63px,#ff5838 0 64px,#ff5030 0 66px,#ff4828 0 67px,#ff6444 0 69px,#ff5838 0 70px,#ff6444 0 71px,#ff5c3c 0 72px,#ff6040 0 73px,#ff5c3c 0 74px,#ff5838 0 75px,#ff6440 0 76px,#ff5838 0 77px,#ff6444 0 78px,#ff6848 0 79px,#ff704c 0 80px,#ff6444 0 82px,#ff7050 0 83px,#ff6c4c 0 84px,#ff5838 0 85px,#ff6444 0 86px,#ff4428 0 87px,#ff4828 0 88px,#ff5838 0 89px,#ff6444 0 90px,#ff5c3c 0 91px,#ff5434 0 92px,#ff5030 0 93px,#ff5838 0 94px,#ff5c3c 0 95px,#ff482c 0 96px,#ff5838 0 99px,#ff603c 0 100px,#ff6444 0 101px,#ff6040 0 102px,#ff5c3c 0 103px,#ff5838 0 105px,#ff482c 0 106px,#ff5838 0 107px,#ff5c3c 0 108px,#ff5838 0 109px,#ff4c2c 0 110px,#ff381c 0 111px,#ff2c14 0 112px,#ff4024 0 113px,#ff5030 0 114px,#ff4c30 0 115px,#ff5c38 0 116px,#ff5838 0 117px,#ff5434 0 120px,#ff4428 0 121px,#ff4828 0 122px,#ff3c20 0 123px,#ff482c 0 124px,#ff5030 0 127px,#ff4c2c 0 128px,#ff4024 0 129px,#ff4828 0 130px,#ff5838 0 131px,#ff482c 0 132px,#ff5434 0 133px,#ff5838 0 134px,#ff5434 0 135px,#ff3c20 0 136px,#ff4428 0 137px,#ff4c2c 0 138px,#ff4c30 0 139px,#ff4c2c 0 140px,#ff5838 0 141px,#ff4c2c 0 142px,#ff4428 0 143px,#ff4424 0 144px,#ff3018 0 145px,#ff0c04 0 146px,#ff1408 0 147px,#ff2c14 0 148px,#ff381c 0 149px,#ff4424 0 150px,#ff4828 0 151px,#ff482c 0 152px,#ff5030 0 153px,#ff4024 0 154px,#f00 0 156px,#ff1408 0 157px,#ff4024 0 158px,#ff4428 0 159px,#ff4c2c 0 160px,#ff4828 0 161px,#ff5030 0 162px,#ff4c30 0 163px,#ff482c 0 166px,#ff5434 0 168px,#ff4024 0 170px,#ff5030 0 171px,#ff4c2c 0 172px,#ff5030 0 173px,#ff4024 0 175px,#ff381c 0 176px,#ff4428 0 177px,#ff3c20 0 178px,#ff3820 0 179px,#ff4428 0 180px,#ff4828 0 181px,#ff4024 0 182px,#ff381c 0 183px,#ff2410 0 184px,#ff3c20 0 189px,#ff0c04 0 193px,#ff4024 0 194px,#ff3018 0 195px,#ff2410 0 196px,#ff3c20 0 197px,#ff4024 0 198px,#ff3018 0 199px,#ff2c14 0 200px,#ff4428 0 201px,#ff3c20 0 202px,#ff0c08 0 203px,#ff2c18 0 204px,#ff0c04 0 205px,#ff1408 0 206px,#ff2810 0 207px,#ff2c14 0 208px,#ff0c04 0 209px,#f00 0 215px,#ff3024 0 216px,#ff9c80 0 217px,#ff9878 0 218px,#ff987c 0 219px,#ff9478 0 220px,#ffa084 0 221px,#ffa488 0 222px,#ffa890 0 223px,#ff9c80 0 225px,#ffa084 0 226px,#ffb4a0 0 227px,#ffbca8 0 228px,#ffac94 0 230px,#ff9c80 0 231px,#ffa080 0 232px,#ffa084 0 233px,#ffa890 0 234px,#ffac94 0 235px,#ffa084 0 236px,#ffac90 0 237px,#ff987c 0 238px,#ff9878 0 240px,#ff987c 0 243px,#ffa488 0 245px,#ff9c80 0 246px,#ffa080 0 247px,#ffa084 0 248px,#ffb49c 0 249px,#ffb8a0 0 250px,#ffac90 0 253px,#ffa88c 0 255px,#ffa890 0 256px,#ffbca4 0 259px,#ffc0ac 0 260px,#ffc4b0 0 264px,#ffccb8 0 265px,#ffc4b0 0 266px,#ffb8a0 0 267px,#ffac94 0 268px,#ffb4a0 0 269px,#ffb8a4 0 271px,#ffb8a0 0 272px,#ffb094 0 273px,#ffb49c 0 275px,#ffb4a0 0 276px,#ffac90 0 277px,#ffb49c 0 278px,#ffbca8 0 279px,#ffc8b4 0 280px,#ffc0a8 0 281px,#ffc4b0 0 282px,#ffa084 0 283px,#ffb098 0 284px,#ffc4b4 0 285px,#ffc4b0 0 286px,#ffbca8 0 289px,#ffb8a0 0 290px,#ffa88c 0 291px,#ff9c7c 0 292px,#ffa488 0 293px,#ffa48c 0 294px,#ffa890 0 295px,#ffa084 0 296px,#ffa488 0 297px,#ffa88c 0 298px,#ffa084 0 300px,#ff987c 0 303px,#ff9474 0 304px,#ffa084 0 306px,#ff9474 0 307px,#ff8868 0 309px,#ff9070 0 311px,#ff8c6c 0 312px,#ff9474 0 313px,#ff9074 0 314px,#ff9474 0 315px,#ff8464 0 316px,#ff9878 0 317px,#ff8464 0 320px,#ff9478 0 321px,#ff9070 0 322px,#ff7c5c 0 324px,#ff8060 0 325px,#ff8c6c 0 326px,#ff8460 0 327px,#ff8060 0 328px,#ff987c 0 329px,#ff9878 0 330px,#ff8464 0 332px,#ff8c6c 0 333px,#ff8868 0 334px,#ff9074 0 335px,#ff9474 0 336px,#ff9878 0 337px,#ff8460 0 338px,#ff7450 0 339px,#ff7050 0 340px,#ff7454 0 341px,#ff8464 0 342px,#ff9070 0 343px,#ff8868 0 344px,#ff9474 0 346px,#ff8464 0 347px,#ff805c 0 348px,#ff7c5c 0 349px,#ff8060 0 351px,#ff6c4c 0 352px,#ff6c48 0 353px,#ff7454 0 354px,#ff8060 0 355px,#ff6c4c 0 356px,#ff6848 0 358px,#ff6c4c 0 359px,#ff7858 0 360px,#ff8464 0 362px,#ff7454 0 363px,#ff8060 0 364px,#ff7454 0 365px,#ff7050 0 366px,#ff7858 0 367px,#ff7050 0 368px,#ff6844 0 370px,#ff704c 0 371px,#ff6440 0 372px,#ff7450 0 373px,#ff7454 0 374px,#ff5838 0 375px,#ff704c 0 376px,#ff7c5c 0 378px,#ff8864 0 379px,#ff886c 0 380px,#ff7c5c 0 381px,#ff6444 0 382px,#ff6848 0 383px,#ff7858 0 384px,#ff8060 0 386px,#ff7c5c 0 388px,#ff6444 0 389px,#ff6c48 0 390px,#ff6844 0 391px,#ff6848 0 392px,#ff5c3c 0 393px,#ff6040 0 394px,#ff6844 0 395px,#ff7050 0 396px,#ff704c 0 397px,#ff6848 0 398px,#ff5838 0 399px,#ff4828 0 400px,#ff4024 0 401px,#ff4428 0 402px,#ff4024 0 403px,#ff2814 0 404px,#ff200c 0 405px,#ff341c 0 406px,#ff482c 0 407px,#ff8464 0 408px,#ffc4b0 0 409px,#ffe0d8 0 410px,#ffe8e0 0 411px,#fff4f0 0 412px,#ffd8c8 0 413px,#ffb49c 0 414px,#ffe0d4 0 415px,#ffd8c8 0 416px,#fce8e4 0 417px,#fcfcff 0 418px,#ffece8 0 419px,#ffccbc 0 420px,#ffc0ac 0 421px,#ffccbc 0 422px,#ffe4d8 0 423px,#ffd8cc 0 424px,#ffdccc 0 425px,#ffdcd0 0 426px,#ffece4 0 428px,#ffd8c8 0 429px,#ffc8b4 0 430px,#ffd4c8 0 431px,#ffd8cc 0 432px,#ffd0c0 0 433px,#ffdccc 0 434px,#ffd8cc 0 435px,#ffdcd0 0 436px,#ffe8e0 0 437px,#ffd8cc 0 438px,#ffe0d4 0 439px,#ffe4dc 0 440px,#fff0ec 0 442px,#ffdccc 0 443px,#ffd4c8 0 446px,#ffd8c8 0 447px,#ffccbc 0 448px,#ffe8dc 0 449px,#ffece4 0 450px,#ffe0d8 0 451px,#ffe8e0 0 454px,#fcf0f0 0 455px,#ffe8e0 0 456px,#ffe4d8 0 457px,#ffece4 0 458px,#ffdcd0 0 459px,#ffe0d4 0 460px,#ffe4dc 0 461px,#ffe4d8 0 462px,#ffd4c4 0 463px,#ffd8c8 0 464px,#ffe0d4 0 466px,#ffd4c4 0 468px,#ffd8cc 0 469px,#ffd4c4 0 470px,#fff0e8 0 471px,#fff0ec 0 472px,#ffece8 0 473px,#ffece4 0 474px,#ffd8cc 0 475px,#ffc8b8 0 476px,#ffd4c4 0 477px,#ffc4b0 0 480px,#ffccb8 0 481px,#ffd4c4 0 482px,#ffccb8 0 483px,#ffbca8 0 484px,#ffe8e0 0 485px,#ffe4dc 0 486px,#fff4f0 0 487px,#f8f4ff 0 488px,#f8f0f4 0 489px,#fff0e8 0 490px,#f8f4ff 0 491px,#f8f0ff 0 492px,#f4f0ff 0 493px,#f4ecff 0 494px,#f8f4ff 0 495px,#fcf4fc 0 496px,#fcfcff 0 497px,#ecdcff 0 498px,#ece0ff 0 499px,#f4e8ff 0 500px,#f4f0ff 0 501px,#f0e8ff 0 502px,#e4d0ff 0 503px,#e0ccff 0 504px,#e4d0ff 0 505px,#e0ccff 0 506px,#d8c0ff 0 508px,#bc9cff 0 509px,#d0b8ff 0 510px,#e8d4ff 0 511px,#fcf4f8 0 512px,#ffccb8 0 513px,#ffb8a4 0 514px,#ffc4b4 0 516px,#ffc0a8 0 517px,#ffccb8 0 518px,#ffb8a0 0 519px,#ffb098 0 520px,#ffa890 0 521px,#ffa88c 0 522px,#ffb8a0 0 523px,#ffb49c 0 524px,#ffbca4 0 525px,#ff9478 0 526px,#ff9474 0 527px,#ffc4b4 0 528px,#ffb49c 0 529px,#ffb8a0 0 530px,#ffc8b4 0 531px,#ffc4b0 0 532px,#ffb098 0 533px,#ffa488 0 534px,#ff8c6c 0 535px,#ffb8a4 0 536px,#ffb4a0 0 537px,#ffbca4 0 539px,#ffc0ac 0)}
#a4{left:224.70px;width:41.75px;background:linear-gradient(#ff5434 0 1px,#ff482c 0 2px,#ff5838 0 3px,#ff5030 0 4px,#ff5c3c 0 5px,#ff6040 0 6px,#ff603c 0 7px,#ff6848 0 9px,#ff6444 0 11px,#ff6040 0 12px,#ff6440 0 13px,#ff5838 0 14px,#ff5030 0 15px,#ff482c 0 16px,#ff4828 0 17px,#ff4c2c 0 18px,#ff5030 0 19px,#ff5c3c 0 21px,#ff5030 0 22px,#ff5c3c 0 23px,#ff6444 0 27px,#ff6844 0 28px,#ff6444 0 30px,#ff5434 0 31px,#ff6040 0 32px,#ff7450 0 33px,#ff704c 0 34px,#ff5034 0 35px,#ff4c2c 0 38px,#ff6444 0 39px,#ff4c2c 0 40px,#ff5030 0 41px,#ff5c3c 0 42px,#ff6040 0 44px,#ff6848 0 45px,#ff6444 0 46px,#ff6040 0 47px,#ff5434 0 48px,#ff4024 0 49px,#ff5034 0 51px,#ff5838 0 52px,#ff4c2c 0 53px,#ff5030 0 55px,#ff6444 0 56px,#ff603c 0 57px,#ff6444 0 59px,#ff6040 0 60px,#ff5434 0 61px,#ff5030 0 62px,#ff6440 0 63px,#ff5838 0 64px,#ff5434 0 65px,#ff4c30 0 66px,#ff4428 0 67px,#ff4828 0 69px,#ff5030 0 70px,#ff5838 0 71px,#ff5434 0 72px,#ff6444 0 73px,#ff6040 0 74px,#ff5c3c 0 75px,#ff6844 0 76px,#ff6040 0 78px,#ff4c2c 0 79px,#ff5434 0 80px,#ff4c2c 0 81px,#ff5434 0 82px,#ff5838 0 83px,#ff5030 0 84px,#ff3c20 0 85px,#ff5838 0 86px,#ff3c20 0 87px,#ff3418 0 88px,#ff3c20 0 89px,#ff5030 0 95px,#ff381c 0 96px,#ff5838 0 97px,#ff4428 0 98px,#ff4024 0 99px,#ff4828 0 100px,#ff5030 0 101px,#ff5c3c 0 102px,#ff5030 0 103px,#ff5434 0 105px,#ff4024 0 106px,#ff5838 0 107px,#ff6040 0 108px,#ff5030 0 111px,#ff4828 0 112px,#ff4c2c 0 113px,#ff5030 0 116px,#ff6040 0 117px,#ff5030 0 118px,#ff4c2c 0 119px,#ff5030 0 120px,#ff3c20 0 121px,#ff2814 0 122px,#ff3820 0 123px,#ff5434 0 124px,#ff3c20 0 127px,#ff3820 0 128px,#ff3418 0 129px,#ff3820 0 130px,#ff4c2c 0 131px,#ff3c20 0 132px,#ff4828 0 133px,#ff6440 0 134px,#ff5c3c 0 135px,#ff2410 0 136px,#ff3418 0 137px,#ff4828 0 138px,#ff482c 0 140px,#ff5838 0 141px,#ff341c 0 142px,#ff2010 0 143px,#ff341c 0 144px,#ff3018 0 147px,#ff341c 0 148px,#ff4024 0 149px,#ff3820 0 150px,#ff4428 0 151px,#ff4c2c 0 152px,#ff4c30 0 154px,#ff3018 0 155px,#ff2814 0 156px,#ff3018 0 158px,#ff3418 0 159px,#ff3c20 0 160px,#ff381c 0 161px,#ff3c20 0 163px,#ff381c 0 165px,#ff3418 0 166px,#ff3c20 0 167px,#ff4428 0 168px,#ff3c20 0 169px,#ff4024 0 170px,#ff5030 0 171px,#ff4428 0 173px,#ff381c 0 174px,#ff341c 0 175px,#ff2814 0 176px,#ff381c 0 177px,#ff4024 0 178px,#ff3820 0 179px,#ff381c 0 180px,#ff4828 0 181px,#ff4428 0 182px,#ff381c 0 183px,#ff2810 0 184px,#ff341c 0 185px,#ff4c2c 0 188px,#ff482c 0 189px,#ff2c14 0 190px,#ff0c04 0 191px,#ff2414 0 192px,#ff3018 0 193px,#ff341c 0 194px,#ff381c 0 195px,#ff3c20 0 196px,#ff4428 0 197px,#ff3418 0 198px,#ff200c 0 199px,#ff3418 0 200px,#ff3018 0 201px,#ff2814 0 202px,#ff2c18 0 203px,#ff4024 0 204px,#ff4428 0 205px,#ff341c 0 206px,#f00 0 209px,#ff0804 0 211px,#ff1004 0 212px,#ff1c08 0 214px,#ff0804 0 215px,#ff3828 0 216px,#ffa48c 0 217px,#ffa084 0 219px,#ff9c80 0 220px,#ffa890 0 221px,#ffac94 0 223px,#ff9c7c 0 224px,#ff9c80 0 225px,#ffa084 0 227px,#ffac90 0 228px,#ff987c 0 229px,#ff9878 0 230px,#ff8868 0 231px,#ff9c80 0 232px,#ffa084 0 233px,#ffa890 0 234px,#ffb098 0 235px,#ffa890 0 236px,#ffa488 0 237px,#ff8c6c 0 238px,#ff8868 0 241px,#ff8c6c 0 243px,#ff9478 0 246px,#ff9878 0 248px,#ffa488 0 251px,#ffa88c 0 252px,#ffa080 0 253px,#ff9c7c 0 254px,#ff9474 0 256px,#ffa488 0 257px,#ffa88c 0 258px,#ffc0ac 0 259px,#ffac94 0 260px,#ffb8a0 0 262px,#ffc8b4 0 264px,#ffd0bc 0 266px,#ffc4b0 0 267px,#ffbca4 0 268px,#ffac90 0 269px,#ffac94 0 270px,#ffb098 0 272px,#ffb8a0 0 273px,#ffc4b0 0 274px,#ffc0a8 0 275px,#ffbca4 0 276px,#ffb8a0 0 277px,#ffb49c 0 279px,#ffbca8 0 280px,#ffb49c 0 282px,#ffb098 0 283px,#ffb8a4 0 284px,#ffb8a0 0 286px,#ffbca4 0 287px,#ffc0ac 0 289px,#ffbca8 0 290px,#ffb8a4 0 291px,#ffb098 0 293px,#ffa488 0 294px,#ffa084 0 295px,#ffac94 0 296px,#ffb098 0 298px,#ffa88c 0 301px,#ffb8a0 0 302px,#ffb098 0 303px,#ffa488 0 306px,#ff987c 0 307px,#ff9074 0 308px,#ff9070 0 309px,#ff9478 0 310px,#ff9878 0 311px,#ffa084 0 313px,#ffa488 0 314px,#ff9c80 0 315px,#ff987c 0 316px,#ff9074 0 317px,#ff7454 0 319px,#ff8468 0 320px,#ffa88c 0 321px,#ff9c80 0 322px,#ff8868 0 323px,#ff8c70 0 324px,#ff8c6c 0 325px,#ff8868 0 326px,#ff8060 0 327px,#ff8464 0 328px,#ff9478 0 329px,#ff8c6c 0 330px,#ff8464 0 332px,#ff8c6c 0 334px,#ff9878 0 336px,#ff987c 0 337px,#ff8060 0 338px,#ff7454 0 339px,#ff7c58 0 340px,#ff7858 0 341px,#ff8060 0 342px,#ff9074 0 343px,#ff8060 0 344px,#ff7c5c 0 345px,#ff7c58 0 346px,#ff7450 0 347px,#ff7854 0 349px,#ff7454 0 350px,#ff8464 0 352px,#ff8868 0 353px,#ff8464 0 354px,#ff8c6c 0 355px,#ff8868 0 356px,#ff8060 0 357px,#ff7050 0 359px,#ff7454 0 360px,#ff7c58 0 361px,#ff704c 0 362px,#ff6444 0 363px,#ff7050 0 364px,#ff7854 0 365px,#ff7454 0 366px,#ff7050 0 367px,#ff6848 0 368px,#ff6c4c 0 369px,#ff6040 0 370px,#ff5838 0 371px,#ff6848 0 372px,#ff8060 0 373px,#ff8464 0 374px,#ff6c4c 0 375px,#ff5434 0 376px,#ff6040 0 377px,#ff6444 0 378px,#ff7450 0 379px,#ff7858 0 380px,#ff7450 0 381px,#ff603c 0 382px,#ff5838 0 383px,#ff5034 0 384px,#ff6444 0 385px,#ff5c3c 0 386px,#ff6040 0 387px,#ff6848 0 388px,#ff6040 0 392px,#ff5030 0 393px,#ff4c30 0 395px,#ff6444 0 396px,#ff7858 0 397px,#ff7450 0 398px,#ff6848 0 399px,#ff6444 0 400px,#ff4024 0 401px,#ff4424 0 402px,#ff4428 0 403px,#ff4024 0 404px,#ff4c2c 0 405px,#ff3018 0 406px,#ff1408 0 407px,#ff5438 0 408px,#ffac94 0 409px,#ffd8c8 0 410px,#ffd4c8 0 411px,#ffdcd0 0 412px,#ffd0c0 0 413px,#ffbca4 0 414px,#ffd0c0 0 415px,#ffccbc 0 416px,#ffe4dc 0 417px,#fff4f0 0 418px,#ffe0d4 0 419px,#ffbca4 0 420px,#ffac90 0 421px,#ffa890 0 422px,#ffd8cc 0 423px,#ffccb8 0 424px,#ffc8b8 0 425px,#ffc8b4 0 426px,#ffe8e0 0 427px,#fff0e8 0 428px,#ffd8cc 0 429px,#ffd0c0 0 430px,#ffe0d4 0 432px,#ffc8b4 0 434px,#ffd0c4 0 435px,#ffe0d4 0 436px,#ffece4 0 437px,#ffdcd0 0 438px,#ccacff 0 439px,#e4d0fc 0 440px,#e0ccff 0 441px,#e4ccf0 0 442px,#fff4f0 0 443px,#fff8f8 0 444px,#ffe8e0 0 445px,#fcf8f8 0 446px,#fcf8ff 0 447px,#d8c0ff 0 448px,#f8f0ff 0 449px,#fcf4f4 0 450px,#fff0ec 0 451px,#fffcf8 0 452px,#fcf8f8 0 453px,#fcf8ff 0 454px,#fcfcff 0 455px,#ffe4dc 0 456px,#fff0e8 0 457px,#ffece4 0 458px,#ffd4c4 0 460px,#ffe0d4 0 461px,#ffece8 0 462px,#fff0e8 0 463px,#d8bcf4 0 464px,#ffe0d8 0 465px,#ffdccc 0 466px,#ffccb8 0 467px,#e4c8e8 0 468px,#f4d4e0 0 469px,#ffd4c4 0 470px,#ffd8cc 0 471px,#ffd0c0 0 472px,#ffd4c4 0 473px,#ffc0ac 0 474px,#ffe4dc 0 475px,#ffd4c4 0 478px,#ffd8c8 0 479px,#e4c4e4 0 480px,#f4d4e0 0 481px,#ffe8e0 0 482px,#d8b4f0 0 483px,#ffe8e0 0 484px,#ffe4dc 0 485px,#ffe8e0 0 486px,#ffe4d8 0 487px,#ffece4 0 488px,#ffe0d4 0 489px,#fff0e8 0 493px,#fff8f4 0 494px,#f0e0ff 0 495px,#fcf4f8 0 497px,#e8d4ff 0 499px,#fffcf8 0 500px,#fffcfc 0 501px,#f8f4ff 0 502px,#f0e8ff 0 503px,#fcf8ff 0 504px,#f4ecff 0 505px,#f4f0ff 0 506px,#f8f4ff 0 507px,#fcf4f4 0 508px,#fcfcff 0 509px,#ffe8e0 0 510px,#ffe0d8 0 511px,#ffccb8 0 512px,#ffa88c 0 513px,#ffa084 0 514px,#ffb498 0 515px,#ffb098 0 516px,#ffa488 0 517px,#ffb8a0 0 518px,#ffac90 0 519px,#ffa890 0 520px,#ffa88c 0 522px,#ffa48c 0 523px,#ff7858 0 524px,#ff8464 0 525px,#ff7050 0 526px,#ff7858 0 527px,#ff9474 0 528px,#ffa088 0 529px,#ffa084 0 531px,#ff9c80 0 532px,#ff9474 0 533px,#ff9c80 0 534px,#ffa084 0 535px,#ffb49c 0 536px,#ff9c80 0 537px,#ff9070 0 538px,#ff9474 0 539px,#ff9070 0)}
#a5{left:266.15px;width:41.75px;background:linear-gradient(#ff7858 0 1px,#ff7454 0 2px,#ff7858 0 3px,#ff7450 0 4px,#ff7854 0 5px,#ff7450 0 6px,#ff8464 0 7px,#ff8c6c 0 9px,#ff8868 0 11px,#ff8c6c 0 12px,#ff8868 0 13px,#ff7858 0 14px,#ff7c5c 0 15px,#ff8868 0 16px,#ff8060 0 17px,#ff8464 0 19px,#ff9070 0 20px,#ff9478 0 21px,#ff8464 0 22px,#ff8060 0 24px,#ff886c 0 25px,#ff8464 0 26px,#ff7c5c 0 27px,#ff7450 0 28px,#ff7858 0 29px,#ff7c58 0 30px,#ff7858 0 31px,#ff8060 0 32px,#ff8868 0 33px,#ff8464 0 34px,#ff8060 0 35px,#ff7854 0 36px,#ff7858 0 37px,#ff7c5c 0 38px,#ff9474 0 39px,#ff805c 0 40px,#ff886c 0 41px,#ff9474 0 42px,#ff8868 0 43px,#ff886c 0 44px,#ff8c6c 0 45px,#ff8060 0 48px,#ff7c5c 0 49px,#ff7454 0 50px,#ff7858 0 51px,#ff8c6c 0 52px,#ff7c5c 0 54px,#ff9070 0 55px,#ff9878 0 56px,#ff9070 0 58px,#ff9074 0 59px,#ff9070 0 60px,#ff886c 0 61px,#ff8868 0 62px,#ff9074 0 63px,#ff8c6c 0 64px,#ff7c5c 0 65px,#ff8464 0 66px,#ff805c 0 67px,#ff8060 0 68px,#ff7c5c 0 69px,#ff8464 0 70px,#ff8868 0 71px,#ff8464 0 75px,#ff9070 0 76px,#ff8c6c 0 77px,#ff8464 0 78px,#ff8c6c 0 79px,#ff987c 0 80px,#ff9070 0 81px,#ff8868 0 82px,#ff9474 0 84px,#ff7c5c 0 85px,#ff9070 0 86px,#ff8464 0 87px,#ff7c5c 0 88px,#ff8060 0 89px,#ff8464 0 91px,#ff8060 0 94px,#ff8464 0 95px,#ff7454 0 96px,#ff8060 0 97px,#ff8868 0 98px,#ff8c70 0 99px,#ff8868 0 100px,#ff8c6c 0 101px,#ff8868 0 102px,#ff8464 0 103px,#ff8060 0 105px,#ff7858 0 106px,#ff8464 0 107px,#ff8868 0 108px,#ff7c58 0 109px,#ff7050 0 110px,#ff6848 0 111px,#ff603c 0 112px,#ff7454 0 113px,#ff8060 0 117px,#ff7454 0 120px,#ff6848 0 121px,#ff6c4c 0 122px,#ff7858 0 123px,#ff7454 0 124px,#ff6444 0 125px,#ff6844 0 126px,#ff6c48 0 127px,#ff7854 0 128px,#ff6844 0 129px,#ff7050 0 130px,#ff8464 0 131px,#ff7454 0 132px,#ff7c5c 0 134px,#ff6c4c 0 135px,#ff5838 0 136px,#ff5c3c 0 138px,#ff6c48 0 140px,#ff7858 0 141px,#ff7050 0 142px,#ff6440 0 143px,#ff6040 0 144px,#ff5838 0 146px,#ff5030 0 147px,#ff5434 0 148px,#ff6040 0 149px,#ff6844 0 151px,#ff5c3c 0 152px,#ff6844 0 154px,#ff5030 0 156px,#ff6444 0 157px,#ff704c 0 158px,#ff6848 0 160px,#ff6444 0 161px,#ff6848 0 162px,#ff5c3c 0 163px,#ff5434 0 164px,#ff6040 0 165px,#ff6444 0 166px,#ff7454 0 167px,#ff7450 0 168px,#ff6c48 0 170px,#ff7854 0 171px,#ff7454 0 172px,#ff6848 0 174px,#ff7050 0 175px,#ff6c48 0 176px,#ff7050 0 177px,#ff704c 0 178px,#ff6848 0 180px,#ff6444 0 181px,#ff5c3c 0 182px,#ff5434 0 183px,#ff4c2c 0 184px,#ff482c 0 185px,#ff4c30 0 186px,#ff6040 0 187px,#ff7450 0 188px,#ff704c 0 189px,#ff5434 0 190px,#ff4c2c 0 191px,#ff5030 0 192px,#ff5838 0 196px,#ff6040 0 198px,#ff5838 0 199px,#ff6040 0 200px,#ff6440 0 201px,#ff5030 0 202px,#ff5838 0 203px,#ff6844 0 204px,#ff5c3c 0 205px,#ff3c20 0 206px,#ff3018 0 210px,#ff381c 0 211px,#ff4428 0 212px,#ff4828 0 214px,#ff3018 0 215px,#ff6048 0 216px,#ffdccc 0 217px,#ffe0d4 0 218px,#ffd4c4 0 219px,#ffccb8 0 220px,#ffd4c8 0 221px,#ffdcd0 0 223px,#ffc8b4 0 224px,#ffd0c0 0 225px,#ffe0d4 0 226px,#ffd0c0 0 227px,#ffdccc 0 228px,#ffc4b0 0 229px,#ffc8b4 0 230px,#ffc8b8 0 231px,#ffc8b4 0 232px,#ffccbc 0 233px,#ffd8cc 0 234px,#ffe4dc 0 235px,#ffe0d4 0 236px,#ffe0d8 0 237px,#ffd4c4 0 238px,#ffd0c0 0 239px,#ffd4c4 0 240px,#ffdcd0 0 241px,#ffd0c0 0 242px,#ffccbc 0 243px,#ffd4c8 0 246px,#ffdccc 0 247px,#ffdcd0 0 248px,#ffe8e0 0 250px,#ffe4dc 0 251px,#fff0ec 0 253px,#ffece8 0 254px,#fff0e8 0 256px,#ffe8e0 0 257px,#fff4f0 0 260px,#ffe8e0 0 261px,#fff8f4 0 262px,#fff4f0 0 266px,#ffece8 0 267px,#ffe4dc 0 268px,#ffe4d8 0 272px,#ffe0d8 0 273px,#ffe4d8 0 276px,#ffd8cc 0 277px,#ffd4c4 0 278px,#ffd8cc 0 279px,#ffe0d4 0 280px,#ffdcd0 0 281px,#fff0ec 0 282px,#ffece8 0 283px,#ffe8e0 0 285px,#ffe4dc 0 286px,#ffe4d8 0 287px,#ffe4dc 0 288px,#ffdcd0 0 289px,#ffd4c4 0 290px,#ffc8b4 0 291px,#ffb49c 0 292px,#ffb8a0 0 293px,#ffb498 0 294px,#ffb49c 0 295px,#ffc4b0 0 296px,#ffbca8 0 297px,#ffc4b4 0 298px,#ffb49c 0 299px,#ffc4b0 0 301px,#ffbca8 0 302px,#ffc4b0 0 303px,#ffbca8 0 304px,#ffc0ac 0 305px,#ffccbc 0 306px,#ffc4b4 0 307px,#ffb4a0 0 308px,#ffb49c 0 309px,#ffbca8 0 310px,#ffc0ac 0 311px,#ffc8b4 0 312px,#ffd4c4 0 313px,#ffd0bc 0 314px,#ffccbc 0 315px,#ffc8b8 0 316px,#ffd0c0 0 317px,#ffbca8 0 319px,#ffc8b4 0 320px,#ffd8c8 0 321px,#ffd0c0 0 322px,#ffbca8 0 323px,#ffac94 0 324px,#ffc0ac 0 325px,#ffd8c8 0 326px,#ffc4b4 0 327px,#ffbca8 0 328px,#ffd0c4 0 329px,#ffc8b8 0 330px,#ffc0ac 0 332px,#ffc8b4 0 333px,#ffc8b8 0 334px,#ffd4c4 0 335px,#ffd0c0 0 336px,#ffc8b8 0 337px,#ffa488 0 338px,#ff9474 0 339px,#ff9478 0 340px,#ffa084 0 341px,#ffa48c 0 342px,#ffb8a0 0 343px,#ffa890 0 344px,#ffa084 0 345px,#ffa488 0 348px,#ff9c80 0 349px,#ffa488 0 350px,#ff9c80 0 351px,#ff9474 0 352px,#ff9478 0 353px,#ff9c80 0 354px,#ffa890 0 355px,#ffa084 0 356px,#ff987c 0 358px,#ff8c70 0 359px,#ff8868 0 360px,#ff9070 0 362px,#ff9878 0 363px,#ff9c80 0 365px,#ff9474 0 366px,#ffa084 0 367px,#ff9c80 0 368px,#ff987c 0 369px,#ffa084 0 370px,#ff987c 0 371px,#ff8c6c 0 372px,#ffa488 0 373px,#ffac90 0 374px,#ff9878 0 375px,#ff987c 0 376px,#ffa88c 0 377px,#ffa488 0 378px,#ffac94 0 381px,#ffa88c 0 382px,#ffa084 0 383px,#ff8060 0 384px,#ffa084 0 385px,#ff9474 0 386px,#ff9074 0 387px,#ff8c70 0 388px,#ff8060 0 389px,#ff7c5c 0 390px,#ff8c6c 0 391px,#ff9070 0 392px,#ff8464 0 393px,#ff8060 0 394px,#ff7858 0 395px,#ff7c58 0 396px,#ff8060 0 397px,#ff987c 0 398px,#ff8868 0 399px,#ff6844 0 401px,#ff6848 0 402px,#ff704c 0 403px,#ff7050 0 404px,#ff8460 0 405px,#ff8868 0 406px,#ffa488 0 407px,#ffd0c0 0 408px,#ffece4 0 409px,#fff8f8 0 410px,#fff8f4 0 412px,#ffe4dc 0 413px,#ffd8c8 0 414px,#fff0e8 0 415px,#ffe4dc 0 416px,#f8e4e8 0 417px,#fcf8ff 0 418px,#fff4f0 0 419px,#ffdcd4 0 420px,#ffd0c0 0 421px,#ffe8e0 0 422px,#fcece8 0 423px,#fff0e8 0 424px,#fcf8f8 0 425px,#f8f0ff 0 426px,#ecdcff 0 427px,#dcc4ff 0 428px,#fcecec 0 429px,#fff8f8 0 430px,#f8f0fc 0 431px,#f4ecfc 0 432px,#fffcfc 0 433px,#fff 0 434px,#fff8f8 0 435px,#fcecf4 0 436px,#f4ecfc 0 437px,#fcf8fc 0 438px,#e4d0ff 0 439px,#e0ccff 0 440px,#ece0ff 0 441px,#f0e4ff 0 442px,#f8f0ff 0 443px,#e8d8ff 0 444px,#ece0ff 0 445px,#e4d0ff 0 446px,#e4d4ff 0 447px,#f0e4ff 0 448px,#dcc4ff 0 449px,#ccacff 0 450px,#d4b8ff 0 451px,#dcc4ff 0 452px,#e8d8ff 0 453px,#ecdcff 0 454px,#f0e8ff 0 455px,#f8f4ff 0 456px,#e0ccff 0 457px,#d8c0ff 0 458px,#f8f4ff 0 459px,#fcf8f8 0 460px,#fcf4f4 0 461px,#f8f0ff 0 462px,#f4ecff 0 463px,#f4e8ff 0 464px,#ece0ff 0 465px,#e4d0ff 0 466px,#e0c8ff 0 467px,#f0e4ff 0 468px,#ece0ff 0 469px,#fcf8ff 0 470px,#f8f0ff 0 472px,#fcf8ff 0 473px,#fcfcff 0 474px,#fff8f8 0 475px,#fff8f4 0 476px,#fff4f4 0 477px,#ffe4dc 0 478px,#fff4f0 0 479px,#fff8f8 0 481px,#f8f4fc 0 482px,#fcecec 0 483px,#ffd4c8 0 484px,#ffe8e0 0 485px,#fff0e8 0 486px,#f8f0fc 0 487px,#dcc8ff 0 488px,#c4a0ff 0 489px,#a074ff 0 491px,#8058ff 0 492px,#643cff 0 493px,#5830ff 0 494px,#4828ff 0 495px,#7044ff 0 496px,#9468ff 0 497px,#8050ff 0 498px,#8454ff 0 499px,#8c5cff 0 500px,#8c60ff 0 501px,#8050ff 0 502px,#8054ff 0 504px,#6c44ff 0 505px,#9c70ff 0 506px,#c09cff 0 507px,#e0ccff 0 508px,#dcc4ff 0 509px,#fff0ec 0 510px,#fffcfc 0 511px,#fff8f4 0 512px,#ffece4 0 513px,#ffe8e0 0 514px,#fffcf8 0 515px,#fffcfc 0 516px,#fff8f4 0 517px,#ffece4 0 518px,#ffd8cc 0 519px,#ffe0d8 0 520px,#ffe4dc 0 521px,#ffdcd0 0 522px,#ffe8dc 0 523px,#ffdcd0 0 524px,#ffece8 0 525px,#ffd8cc 0 526px,#ffd4c8 0 527px,#fff0e8 0 528px,#f8f0fc 0 529px,#fcecec 0 530px,#ffece8 0 531px,#fff0e8 0 532px,#ffe8e0 0 533px,#ffe0d8 0 534px,#fff4f0 0 535px,#f4e8fc 0 536px,#f4f0ff 0 537px,#fff 0 538px,#fff0ec 0 539px,#ffd0c0 0)}
#b0{left:315.80px;width:41.80px;background:linear-gradient(#ffb8a4 0 1px,#d4ace8 0 2px,#d8b0e8 0 3px,#c494e8 0 4px,#b084ff 0 5px,#b48cff 0 6px,#c09cff 0 7px,#d4b4ff 0 8px,#b08cff 0 9px,#986cff 0 10px,#d088bc 0 11px,#a074ff 0 12px,#c4a4ff 0 13px,#b490ff 0 14px,#986cff 0 15px,#cca0e8 0 16px,#e0a8c8 0 17px,#ff8868 0 18px,#b87cd8 0 19px,#b088ff 0 20px,#986cff 0 21px,#e48c98 0 22px,#9064ff 0 23px,#9c74ff 0 24px,#9468ff 0 25px,#a880ff 0 26px,#c09cff 0 27px,#d4b8ff 0 28px,#c8a4ff 0 29px,#e0ccff 0 30px,#c4a4ff 0 31px,#986cff 0 32px,#8c60ff 0 33px,#c8a8ff 0 34px,#b08cff 0 35px,#986cff 0 36px,#a47cf8 0 37px,#ffe4d8 0 38px,#b894ff 0 39px,#d0b4ff 0 40px,#ffa88c 0 41px,#a47cff 0 42px,#d0a0dc 0 43px,#b484ec 0 44px,#c8a8ff 0 45px,#c0a0ff 0 46px,#b08cff 0 47px,#d8bcff 0 48px,#b494ff 0 49px,#b490ff 0 50px,#9870ff 0 52px,#ffc4b0 0 53px,#a87cff 0 54px,#a478ff 0 55px,#a078ff 0 56px,#986cff 0 57px,#9468ff 0 58px,#a074ff 0 59px,#8054ff 0 60px,#bc98ff 0 61px,#c4a4ff 0 62px,#c8acff 0 63px,#b890ff 0 64px,#e0b0d4 0 65px,#b07ce8 0 66px,#ac80ff 0 67px,#b088ff 0 68px,#a47cff 0 69px,#ac88ff 0 70px,#b890ff 0 71px,#b490ff 0 72px,#b48cff 0 73px,#9c70ff 0 74px,#d8a8d8 0 75px,#c09cff 0 76px,#b894ff 0 77px,#a078ff 0 78px,#d4bcff 0 79px,#a880ff 0 80px,#bc98ff 0 81px,#c4a4ff 0 82px,#a074ff 0 83px,#d0b4ff 0 84px,#a880ff 0 85px,#a074ff 0 86px,#986cff 0 88px,#d0b4ff 0 89px,#f89c94 0 90px,#ec9098 0 91px,#b088ff 0 92px,#b48cff 0 93px,#9c70ff 0 94px,#ff9478 0 95px,#ff9074 0 96px,#ffac94 0 97px,#8054ff 0 98px,#a478ff 0 99px,#c09cff 0 100px,#e0bce8 0 101px,#cca8e8 0 102px,#9468ff 0 103px,#a47cff 0 104px,#d0b4ff 0 105px,#d4b8ff 0 106px,#e8c8e4 0 107px,#c8a0f0 0 108px,#a074ff 0 109px,#9868ff 0 110px,#ac80ff 0 111px,#c8a8ff 0 112px,#d0b0ff 0 113px,#ac84ff 0 114px,#9c70ff 0 115px,#b48cff 0 116px,#a880ff 0 117px,#a87cff 0 118px,#a47cff 0 119px,#ac80ff 0 120px,#b088ff 0 121px,#b894ff 0 122px,#7c4cff 0 123px,#9c74ff 0 124px,#9c70ff 0 125px,#ffe4dc 0 126px,#e0c4f8 0 127px,#d8bcff 0 128px,#d09cd8 0 129px,#f4c0c0 0 130px,#d8c0ff 0 131px,#b890ff 0 132px,#986cff 0 133px,#9468ff 0 134px,#ac84ff 0 135px,#8c60ff 0 136px,#a078ff 0 137px,#b088ff 0 138px,#e88c94 0 139px,#c8acff 0 140px,#a47cff 0 141px,#8c5cff 0 142px,#9868ff 0 143px,#b898ff 0 144px,#a47cff 0 145px,#ec989c 0 146px,#e8a4c0 0 147px,#9464ff 0 148px,#986cff 0 150px,#a074ff 0 151px,#a47cff 0 152px,#a478ff 0 153px,#a87cff 0 154px,#a074ff 0 155px,#9468ff 0 156px,#8c60ff 0 157px,#c4a4ff 0 158px,#e0ccff 0 159px,#ffbca4 0 160px,#ff9474 0 161px,#cc80b8 0 162px,#986cff 0 163px,#ac84ff 0 164px,#a880ff 0 165px,#986cff 0 166px,#ccb0ff 0 167px,#c09cff 0 168px,#d8c0ff 0 169px,#c4a4ff 0 170px,#ac84ff 0 171px,#9c70ff 0 172px,#b490ff 0 173px,#986cff 0 174px,#a880ff 0 175px,#bc98ff 0 176px,#ffccb8 0 177px,#c8a0f0 0 178px,#a478ff 0 179px,#c4a0ff 0 180px,#f0c8d4 0 181px,#c094f0 0 182px,#b48cff 0 183px,#ac80ff 0 184px,#dcc4ff 0 185px,#c8acff 0 186px,#a074ff 0 187px,#b48cff 0 189px,#dc8cb0 0 190px,#e494b0 0 191px,#d4bcff 0 192px,#eca4b4 0 193px,#ff8464 0 194px,#e8b0c4 0 195px,#c4a0ff 0 196px,#b890ff 0 197px,#ecc8d8 0 198px,#d4bcff 0 199px,#c4a0ff 0 200px,#c09cff 0 201px,#d0b0ff 0 202px,#c4a0ff 0 203px,#d8c0ff 0 204px,#c0a0ff 0 205px,#b088ff 0 206px,#c4a4ff 0 207px,#a880ff 0 208px,#c09cff 0 209px,#c8a8ff 0 210px,#ffd0c0 0 211px,#bc94ff 0 212px,#ff8868 0 213px,#ffccbc 0 214px,#d0a8ec 0 215px,#986cff 0 216px,#8458ff 0 217px,#8054ff 0 218px,#a87cff 0 219px,#a880ff 0 220px,#9c74ff 0 221px,#b890ff 0 222px,#a074ff 0 223px,#9468ff 0 224px,#ac80ff 0 225px,#9468ff 0 226px,#bc88d8 0 227px,#946cff 0 228px,#a078ff 0 229px,#8858ff 0 230px,#9064ff 0 231px,#a87cff 0 232px,#8c60ff 0 233px,#885cff 0 234px,#9468ff 0 235px,#986cff 0 236px,#784cff 0 237px,#8c60ff 0 238px,#9468ff 0 239px,#bc98ff 0 240px,#b894ff 0 241px,#b088ff 0 242px,#9064ff 0 243px,#442cff 0 244px,#8c60ff 0 245px,#8858ff 0 246px,#8c60ff 0 247px,#7c50ff 0 248px,#784cff 0 249px,#9468ff 0 250px,#a880ff 0 251px,#442cff 0 252px,#885cff 0 253px,#7c50ff 0 254px,#8458ff 0 255px,#b088ff 0 256px,#8054ff 0 257px,#2418ff 0 258px,#8458ff 0 259px,#00f 0 260px,#7c60ff 0 261px,#9468ff 0 262px,#c0a4f8 0 263px,#dcc4fc 0 264px,#7c50ff 0 265px,#986cff 0 266px,#7454ff 0 267px,#5c38ff 0 268px,#402cff 0 269px,#8c5cff 0 270px,#6c44ff 0 271px,#8c60ff 0 272px,#2820ff 0 273px,#00f 0 276px,#2820ff 0 277px,#a478ff 0 278px,#5838ff 0 279px,#00f 0 280px,#b084ff 0 281px,#7c50ff 0 282px,#744cff 0 283px,#a880ff 0 284px,#8458ff 0 285px,#784cff 0 286px,#8054ff 0 287px,#6c44ff 0 288px,#7448ff 0 289px,#7044ff 0 290px,#a480ff 0 291px,#9870ff 0 292px,#a078f8 0 293px,#e0c0e8 0 294px,#c09cec 0 295px,#e8c4dc 0 296px,#a880ff 0 297px,#885cff 0 298px,#8050ff 0 299px,#885cff 0 300px,#9060ff 0 301px,#9c70ff 0 302px,#9464ff 0 303px,#7c50ff 0 304px,#9870ff 0 305px,#5844ff 0 306px,#00f 0 309px,#5844ff 0 310px,#946cff 0 311px,#7448ff 0 312px,#845cff 0 313px,#c0a0ff 0 314px,#8c60ff 0 315px,#9064ff 0 316px,#9468ff 0 317px,#8454ff 0 318px,#8054ff 0 320px,#7448ff 0 321px,#b48cff 0 322px,#bc98ff 0 323px,#7c50ff 0 324px,#e4bcd8 0 325px,#c49cf0 0 326px,#c09cff 0 327px,#bc98ff 0 328px,#b088ff 0 329px,#b488f4 0 330px,#ffd4c8 0 331px,#dcbcf0 0 332px,#9068ff 0 333px,#ac88ff 0 334px,#b08cff 0 335px,#8c60ff 0 336px,#9060ff 0 337px,#7044ff 0 338px,#c0a0ff 0 339px,#442cff 0 340px,#a478ff 0 342px,#9c70ff 0 343px,#8050ff 0 344px,#9064ff 0 345px,#9468ff 0 346px,#9064ff 0 347px,#9c70ff 0 348px,#a880ff 0 349px,#ccacff 0 350px,#8c64ff 0 351px,#7048ff 0 352px,#7448ff 0 353px,#8458ff 0 354px,#8054ff 0 355px,#9468ff 0 356px,#a880ff 0 357px,#6c40ff 0 358px,#a47cff 0 359px,#a478ff 0 360px,#bc98e8 0 361px,#a478f4 0 362px,#8054ff 0 363px,#8458ff 0 364px,#9064ff 0 365px,#00f 0 368px,#5030ff 0 369px,#301cff 0 370px,#402cff 0 371px,#8458ff 0 372px,#c0a0ff 0 373px,#946cff 0 374px,#b088ff 0 375px,#9068ff 0 376px,#a480ff 0 377px,#8054ff 0 378px,#986cff 0 379px,#8c60ff 0 380px,#8050ff 0 381px,#845cff 0 382px,#b894ff 0 383px,#c09cff 0 384px,#8458ff 0 385px,#7448ff 0 386px,#885cff 0 387px,#9c74ff 0 388px,#b894ff 0 389px,#784cff 0 390px,#8454ff 0 391px,#885cff 0 392px,#7c50ff 0 393px,#a880ff 0 394px,#9c74ff 0 395px,#9468ff 0 396px,#986cff 0 397px,#9468ff 0 398px,#8c60ff 0 399px,#a47cff 0 401px,#8858ff 0 402px,#643cff 0 403px,#8860ff 0 404px,#8c64ff 0 405px,#4020ff 0 406px,#5834ff 0 407px,#502cff 0 408px,#a478ff 0 409px,#5844ff 0 410px,#00f 0 435px,#482cff 0 436px,#00f 0 530px,#3824ff 0 531px,#7044ff 0 532px,#00f 0 538px,#4028ff 0 539px,#8050ff 0)}
#b1{left:357.30px;width:41.80px;background:linear-gradient(#ffb49c 0 1px,#d8b0e4 0 2px,#dcb0e8 0 3px,#c898e8 0 4px,#9468ff 0 5px,#a880ff 0 6px,#c8a8ff 0 7px,#d0b4ff 0 8px,#bc94ff 0 9px,#9064ff 0 10px,#c884c4 0 11px,#9064ff 0 12px,#ac84ff 0 13px,#b48cff 0 14px,#a478ff 0 15px,#bc90f0 0 16px,#e4a8c8 0 17px,#ff987c 0 18px,#b47ce0 0 19px,#a87cff 0 20px,#986cff 0 21px,#e48c9c 0 22px,#986cff 0 24px,#9464ff 0 25px,#a074ff 0 26px,#c4a4ff 0 27px,#dcc4ff 0 28px,#b890ff 0 29px,#ccacff 0 30px,#c4a4ff 0 31px,#8c60ff 0 32px,#8858ff 0 33px,#c8a8ff 0 34px,#ac88ff 0 35px,#9064ff 0 36px,#b88cf0 0 37px,#ffe0d4 0 38px,#b088ff 0 39px,#c4a0ff 0 40px,#ffb8a0 0 41px,#9c70ff 0 42px,#d4a0d8 0 43px,#c498ec 0 44px,#d8bcff 0 45px,#ccacff 0 46px,#ac84ff 0 47px,#ccacff 0 48px,#a884ff 0 49px,#a87cff 0 51px,#8c60ff 0 52px,#ffd4c4 0 53px,#a074ff 0 54px,#a880ff 0 55px,#b490ff 0 56px,#9064ff 0 57px,#9468ff 0 58px,#b08cff 0 59px,#a074ff 0 60px,#c09cff 0 61px,#c8a8ff 0 62px,#bc98ff 0 63px,#b088ff 0 64px,#e0acd0 0 65px,#c08ce0 0 66px,#b48cff 0 67px,#b088ff 0 68px,#9c70ff 0 69px,#ac84ff 0 71px,#c09cff 0 72px,#bc98ff 0 73px,#9c70ff 0 74px,#d8a8d8 0 75px,#b48cff 0 77px,#b490ff 0 78px,#ccacff 0 79px,#986cff 0 80px,#bc9cff 0 81px,#c09cff 0 82px,#ac84ff 0 83px,#d4b8ff 0 84px,#a478ff 0 86px,#9868ff 0 87px,#8454ff 0 88px,#b894ff 0 89px,#f49c98 0 90px,#ec848c 0 91px,#bc94ff 0 92px,#c4a0ff 0 93px,#a47cff 0 94px,#ff9878 0 95px,#ff9474 0 96px,#ff9478 0 97px,#9c74ff 0 98px,#b088ff 0 99px,#c09cff 0 100px,#dcbcec 0 101px,#b89cf4 0 102px,#885cff 0 103px,#a880ff 0 104px,#d4b8ff 0 105px,#c4a4ff 0 106px,#eccce4 0 107px,#c8a4f4 0 108px,#a478ff 0 110px,#b890ff 0 111px,#b894ff 0 112px,#bc98ff 0 113px,#9870ff 0 114px,#9c70ff 0 115px,#b08cff 0 116px,#ac80ff 0 117px,#986cff 0 118px,#a078ff 0 119px,#b088ff 0 120px,#b48cff 0 121px,#c8a4ff 0 122px,#885cff 0 123px,#a880ff 0 124px,#a478ff 0 125px,#ffe0d8 0 126px,#e4c8f4 0 127px,#d8bcff 0 128px,#c898e0 0 129px,#f4c8c8 0 130px,#d4b4ff 0 131px,#ac88ff 0 132px,#986cff 0 133px,#8c60ff 0 134px,#b894ff 0 135px,#a074ff 0 136px,#b894ff 0 137px,#ac84ff 0 138px,#e8909c 0 139px,#bc98ff 0 140px,#a074ff 0 141px,#9c70ff 0 142px,#9464ff 0 143px,#c0a0ff 0 144px,#bc98ff 0 145px,#f49490 0 146px,#e8acc0 0 147px,#8c60ff 0 149px,#885cff 0 150px,#a074ff 0 151px,#9c70ff 0 152px,#b088ff 0 153px,#986cff 0 154px,#ac84ff 0 155px,#a87cff 0 156px,#9c70ff 0 157px,#d4b8ff 0 158px,#ece0ff 0 159px,#ffc0ac 0 160px,#ff8868 0 161px,#cc7cb4 0 162px,#8c60ff 0 163px,#b088ff 0 164px,#b084ff 0 165px,#9064ff 0 166px,#bc98ff 0 167px,#c09cff 0 168px,#d4b8ff 0 169px,#ccb0ff 0 170px,#b088ff 0 171px,#885cff 0 172px,#b890ff 0 173px,#8c60ff 0 174px,#a47cff 0 175px,#bc98ff 0 176px,#ffd8c8 0 177px,#c8a0f4 0 178px,#9468ff 0 179px,#c4a4ff 0 180px,#f0d0e0 0 181px,#b48cf4 0 182px,#a47cff 0 183px,#bc98ff 0 184px,#dcc8ff 0 185px,#c4a4ff 0 186px,#a880ff 0 187px,#ac84ff 0 188px,#c09cff 0 189px,#d894c0 0 190px,#e89cb4 0 191px,#ccb0ff 0 192px,#e8a4b8 0 193px,#ff8c6c 0 194px,#e4b4d4 0 195px,#c09cff 0 197px,#ecc8d8 0 198px,#ccacff 0 199px,#c8a4ff 0 200px,#d0b0ff 0 201px,#d4bcff 0 202px,#c09cff 0 203px,#c4a4ff 0 204px,#c8a8ff 0 205px,#c09cff 0 206px,#ccacff 0 207px,#9c70ff 0 208px,#b088ff 0 210px,#ffdcd0 0 211px,#c4a0ff 0 212px,#ff9474 0 213px,#ffd4c4 0 214px,#c49cf0 0 215px,#ac84ff 0 216px,#986cff 0 217px,#7c50ff 0 218px,#9c70ff 0 219px,#9068ff 0 220px,#8058ff 0 221px,#b890ff 0 222px,#a87cff 0 223px,#9468ff 0 224px,#a074ff 0 225px,#9064ff 0 226px,#b48ce4 0 227px,#8058ff 0 228px,#b08cff 0 229px,#9468ff 0 230px,#a074ff 0 231px,#a880ff 0 232px,#8c60ff 0 233px,#8458ff 0 234px,#4c38ff 0 235px,#00f 0 239px,#3024ff 0 240px,#c4a4ff 0 241px,#b490ff 0 242px,#9468ff 0 243px,#4830ff 0 244px,#986cff 0 245px,#7c50ff 0 247px,#8050ff 0 248px,#8c5cff 0 249px,#885cff 0 250px,#986cff 0 251px,#4c38ff 0 252px,#00f 0 253px,#784cff 0 254px,#2014ff 0 255px,#00f 0 256px,#6444ff 0 257px,#9060ff 0 258px,#8458ff 0 259px,#9064ff 0 260px,#9870ff 0 261px,#8c5cff 0 262px,#c09cec 0 263px,#dcc0f4 0 264px,#8054ff 0 265px,#9c70ff 0 266px,#a880ff 0 267px,#784cff 0 270px,#301cff 0 271px,#00f 0 272px,#b490ff 0 273px,#8858ff 0 274px,#4830ff 0 275px,#00f 0 279px,#241cff 0 280px,#a074ff 0 281px,#9064ff 0 282px,#885cff 0 283px,#c09cff 0 284px,#a074ff 0 285px,#9064ff 0 286px,#9c70ff 0 287px,#00f 0 288px,#8858ff 0 289px,#784cff 0 290px,#9c74ff 0 291px,#a47cff 0 292px,#a474f0 0 293px,#e4b8d0 0 294px,#cc9cdc 0 295px,#e8bcd0 0 296px,#a47cff 0 297px,#8c60ff 0 298px,#7c50ff 0 299px,#8050ff 0 300px,#8458ff 0 302px,#7044ff 0 303px,#8858ff 0 304px,#a880ff 0 305px,#9468ff 0 306px,#9064ff 0 307px,#784cff 0 308px,#8458ff 0 309px,#a47cff 0 310px,#9068ff 0 311px,#885cff 0 312px,#9c74ff 0 313px,#c8a8ff 0 314px,#9868ff 0 315px,#8c60ff 0 316px,#885cff 0 317px,#784cff 0 318px,#7c50ff 0 319px,#7044ff 0 320px,#7448ff 0 321px,#5844ff 0 322px,#00f 0 323px,#8458ff 0 324px,#e0c0e4 0 325px,#c09cf8 0 326px,#a87cff 0 327px,#b894ff 0 328px,#b48cff 0 329px,#b48cf4 0 330px,#ffdcd0 0 331px,#d0b0fc 0 332px,#7850ff 0 333px,#9c78ff 0 334px,#b494ff 0 335px,#9064ff 0 336px,#784cff 0 337px,#8054ff 0 338px,#c0a0ff 0 339px,#8054ff 0 340px,#986cff 0 341px,#a478ff 0 342px,#8c60ff 0 343px,#7044ff 0 344px,#885cff 0 345px,#a074ff 0 346px,#9468ff 0 347px,#a074ff 0 348px,#a47cff 0 349px,#d0b0ff 0 350px,#ac84ff 0 351px,#9468ff 0 352px,#7c50ff 0 353px,#784cff 0 354px,#8c60ff 0 355px,#8c5cff 0 356px,#ac80ff 0 357px,#8458ff 0 358px,#9064ff 0 359px,#986cff 0 360px,#c098e8 0 361px,#9c74f4 0 362px,#8050ff 0 363px,#9064ff 0 365px,#9468ff 0 366px,#8c60ff 0 367px,#9064ff 0 368px,#986cff 0 369px,#7448ff 0 370px,#7044ff 0 371px,#8c60ff 0 372px,#d4b8ff 0 373px,#a074ff 0 374px,#9064ff 0 375px,#8458ff 0 376px,#b08cff 0 377px,#a47cff 0 378px,#a078ff 0 379px,#8c60ff 0 380px,#784cff 0 381px,#8c64ff 0 382px,#b088ff 0 383px,#b490ff 0 384px,#8c64ff 0 385px,#885cff 0 386px,#8458ff 0 387px,#9c74ff 0 388px,#a07cff 0 389px,#00f 0 390px,#8458ff 0 391px,#8858ff 0 392px,#8054ff 0 393px,#b088ff 0 394px,#ac80ff 0 395px,#8458ff 0 396px,#9468ff 0 397px,#986cff 0 398px,#8c5cff 0 399px,#a074ff 0 400px,#ac80ff 0 401px,#784cff 0 402px,#502cff 0 403px,#8054ff 0 404px,#9068ff 0 405px,#4824ff 0 406px,#2818ff 0 407px,#683cff 0 408px,#a47cff 0 409px,#5440ff 0 410px,#00f 0 435px,#482cff 0 436px,#00f 0 512px,#3824ff 0 514px,#00f 0 530px,#3824ff 0 531px,#7044ff 0 532px,#00f 0 535px,#7044ff 0 536px,#00f 0 538px,#4028ff 0 539px,#8050ff 0)}
#b2{left:398.80px;width:41.80px;background:linear-gradient(#ffb098 0 1px,#d4a8e8 0 2px,#d4ace8 0 3px,#c494e8 0 4px,#bc98ff 0 5px,#b890ff 0 7px,#d8bcff 0 8px,#b48cff 0 9px,#986cff 0 10px,#d084b4 0 11px,#9c70ff 0 12px,#b088ff 0 13px,#a87cff 0 14px,#9c70ff 0 15px,#c498ec 0 16px,#e0a8cc 0 17px,#ff987c 0 18px,#b47ce0 0 19px,#b48cff 0 20px,#9464ff 0 21px,#e08ca0 0 22px,#a87cff 0 23px,#b088ff 0 24px,#a078ff 0 25px,#ac80ff 0 26px,#bc9cff 0 27px,#e8d4ff 0 28px,#c09cff 0 29px,#d0b4ff 0 30px,#c0a0ff 0 31px,#a074ff 0 32px,#9468ff 0 33px,#c4a8ff 0 34px,#a47cff 0 35px,#8458ff 0 36px,#b088f4 0 37px,#ffdcd0 0 38px,#bc98ff 0 39px,#ccacff 0 40px,#ffb49c 0 41px,#9468ff 0 42px,#c898dc 0 43px,#c49cec 0 44px,#c8a8ff 0 45px,#bc98ff 0 46px,#ac84ff 0 47px,#ccacff 0 48px,#a884ff 0 49px,#ac84ff 0 50px,#a87cff 0 51px,#9468ff 0 52px,#ffd8c8 0 53px,#ac84ff 0 54px,#b48cff 0 55px,#b890ff 0 56px,#a078ff 0 57px,#a47cff 0 58px,#a074ff 0 59px,#9064ff 0 60px,#c8a8ff 0 61px,#d0b4ff 0 62px,#c4a4ff 0 63px,#986cff 0 64px,#e0acd4 0 65px,#ac7cec 0 66px,#986cff 0 67px,#a87cff 0 68px,#a880ff 0 69px,#b490ff 0 70px,#c09cff 0 72px,#c4a4ff 0 73px,#a078ff 0 74px,#d8a8d8 0 75px,#b088ff 0 76px,#ac84ff 0 77px,#9c70ff 0 78px,#ccacff 0 79px,#9c70ff 0 80px,#986cff 0 81px,#b890ff 0 82px,#a478ff 0 83px,#d4b8ff 0 84px,#a880ff 0 85px,#9c70ff 0 86px,#986cff 0 87px,#885cff 0 88px,#c4a4ff 0 89px,#f49c94 0 90px,#e894a0 0 91px,#b890ff 0 92px,#c0a0ff 0 93px,#ac80ff 0 94px,#ff9478 0 95px,#ff8868 0 96px,#ff9478 0 97px,#986cff 0 98px,#a478ff 0 99px,#b088ff 0 100px,#dcbcec 0 101px,#d0ace8 0 102px,#a074ff 0 103px,#a47cff 0 104px,#d0b0ff 0 105px,#c8a8ff 0 106px,#e8c8e8 0 107px,#c8a4f8 0 108px,#a87cff 0 109px,#a074ff 0 110px,#b894ff 0 111px,#c09cff 0 112px,#d4b8ff 0 113px,#ac84ff 0 114px,#9c74ff 0 115px,#a47cff 0 116px,#ac80ff 0 117px,#a87cff 0 118px,#a074ff 0 119px,#b490ff 0 120px,#ccacff 0 121px,#c8a8ff 0 122px,#9468ff 0 123px,#b48cff 0 124px,#a078ff 0 125px,#ffe8e0 0 126px,#e0c4f8 0 127px,#d8bcff 0 128px,#d09cd8 0 129px,#f8bcb8 0 130px,#dcc4ff 0 131px,#b490ff 0 132px,#885cff 0 133px,#9468ff 0 134px,#b48cff 0 135px,#9c74ff 0 136px,#ac88ff 0 137px,#ac84ff 0 138px,#e494a8 0 139px,#bc98ff 0 140px,#9c70ff 0 141px,#986cff 0 142px,#9468ff 0 143px,#c0a0ff 0 144px,#9c70ff 0 145px,#ec9094 0 146px,#dc98c0 0 147px,#8050ff 0 148px,#885cff 0 149px,#9468ff 0 150px,#a074ff 0 151px,#986cff 0 152px,#ac84ff 0 153px,#b088ff 0 154px,#ac80ff 0 155px,#986cff 0 156px,#8c5cff 0 157px,#ccacff 0 158px,#e4d0ff 0 159px,#ffbca4 0 160px,#ff8868 0 161px,#d07cb0 0 162px,#9c70ff 0 163px,#ac80ff 0 164px,#a87cff 0 165px,#8c60ff 0 166px,#c4a0ff 0 168px,#d8bcff 0 169px,#d0b4ff 0 170px,#c4a0ff 0 171px,#9064ff 0 172px,#b088ff 0 173px,#9060ff 0 174px,#a478ff 0 175px,#b48cff 0 176px,#ffccb8 0 177px,#c8a0ec 0 178px,#a478ff 0 179px,#c8a8ff 0 180px,#f4c8cc 0 181px,#c094f0 0 182px,#a47cff 0 183px,#b088ff 0 184px,#e8d8ff 0 185px,#d0b4ff 0 186px,#b088ff 0 187px,#bc98ff 0 188px,#b894ff 0 189px,#e08cac 0 190px,#e498b4 0 191px,#d4b8ff 0 192px,#eca4b4 0 193px,#ff9474 0 194px,#dca8d4 0 195px,#ccacff 0 196px,#b890ff 0 197px,#ecbccc 0 198px,#d4b8ff 0 199px,#ccacff 0 200px,#d4b8ff 0 201px,#ccacff 0 202px,#b490ff 0 203px,#d0b4ff 0 204px,#c8acff 0 205px,#b088ff 0 206px,#c09cff 0 207px,#a47cff 0 208px,#c8a8ff 0 209px,#c09cff 0 210px,#ffe4d8 0 211px,#b48cff 0 212px,#ff8c6c 0 213px,#ffd4c4 0 214px,#cca4f0 0 215px,#a478ff 0 216px,#8c60ff 0 217px,#885cff 0 218px,#a47cff 0 219px,#a87cff 0 220px,#9468ff 0 221px,#3024ff 0 222px,#4834ff 0 223px,#9064ff 0 224px,#a880ff 0 225px,#8c60ff 0 226px,#bc90e0 0 227px,#503cff 0 228px,#946cff 0 229px,#7448ff 0 230px,#9868ff 0 231px,#9c70ff 0 232px,#8054ff 0 233px,#885cff 0 234px,#603cff 0 235px,#2418ff 0 236px,#986cff 0 237px,#9468ff 0 238px,#784cff 0 239px,#00f 0 240px,#bc98ff 0 241px,#b088ff 0 242px,#9468ff 0 243px,#00f 0 245px,#603cff 0 246px,#8054ff 0 247px,#7c50ff 0 249px,#946cff 0 250px,#b088ff 0 251px,#9064ff 0 252px,#8858ff 0 253px,#8054ff 0 254px,#5c38ff 0 255px,#00f 0 257px,#885cff 0 258px,#9064ff 0 259px,#a074ff 0 260px,#a880ff 0 261px,#2014ff 0 262px,#bc98e8 0 263px,#e0c4f4 0 264px,#8458ff 0 265px,#a074ff 0 266px,#00f 0 270px,#3c28ff 0 271px,#a880ff 0 272px,#bc98ff 0 273px,#8054ff 0 274px,#8458ff 0 275px,#9468ff 0 276px,#281cff 0 277px,#2c24ff 0 278px,#885cff 0 279px,#9464ff 0 280px,#5038ff 0 281px,#00f 0 286px,#6444ff 0 287px,#7c50ff 0 288px,#5838ff 0 289px,#00f 0 290px,#3028ff 0 291px,#7c58ff 0 292px,#9c70f4 0 293px,#e0bcdc 0 294px,#c498e8 0 295px,#e8bcd4 0 296px,#9c74ff 0 297px,#8858ff 0 298px,#8c60ff 0 299px,#9464ff 0 300px,#986cff 0 301px,#7c50ff 0 302px,#784cff 0 303px,#9464ff 0 304px,#9c78ff 0 305px,#8c64ff 0 306px,#8c60ff 0 308px,#8054ff 0 309px,#b088ff 0 310px,#9c74ff 0 311px,#00f 0 316px,#9064ff 0 317px,#6c44ff 0 318px,#7c54ff 0 319px,#9468ff 0 320px,#8050ff 0 321px,#b088ff 0 322px,#c09cff 0 323px,#9464ff 0 324px,#e4bcd8 0 325px,#c8a0f0 0 326px,#5844ff 0 327px,#7c5cff 0 328px,#a074ff 0 329px,#a880f8 0 330px,#ffdcd0 0 331px,#dcbcf0 0 332px,#946cff 0 333px,#5440ff 0 334px,#a884ff 0 335px,#9468ff 0 336px,#986cff 0 337px,#8458ff 0 338px,#c4a4ff 0 339px,#784cff 0 340px,#8c60ff 0 341px,#a87cff 0 342px,#986cff 0 343px,#7044ff 0 344px,#7c54ff 0 345px,#9064ff 0 346px,#9468ff 0 347px,#b088ff 0 349px,#b894ff 0 350px,#9c70ff 0 351px,#885cff 0 352px,#784cff 0 353px,#8054ff 0 354px,#885cff 0 355px,#9064ff 0 356px,#a47cff 0 357px,#8c60ff 0 358px,#a478ff 0 359px,#9468ff 0 360px,#b480d8 0 361px,#b488ec 0 362px,#8c60ff 0 363px,#986cff 0 366px,#2c20ff 0 367px,#603cff 0 368px,#885cff 0 369px,#8054ff 0 370px,#7448ff 0 371px,#7048ff 0 372px,#c09cff 0 373px,#986cff 0 374px,#9c70ff 0 375px,#986cff 0 376px,#ac88ff 0 377px,#a478ff 0 378px,#b088ff 0 379px,#7c50ff 0 380px,#6c44ff 0 381px,#8058ff 0 382px,#bc98ff 0 383px,#b490ff 0 384px,#885cff 0 385px,#8054ff 0 386px,#7044ff 0 387px,#9c74ff 0 388px,#ac88ff 0 389px,#885cff 0 390px,#986cff 0 391px,#8458ff 0 392px,#7448ff 0 393px,#ac84ff 0 394px,#9c70ff 0 395px,#8458ff 0 396px,#5c34ff 0 397px,#8458ff 0 399px,#986cff 0 400px,#a880ff 0 401px,#9064ff 0 402px,#5834ff 0 403px,#8860ff 0 404px,#9870ff 0 405px,#4020ff 0 406px,#4c2cff 0 407px,#7448ff 0 408px,#a87cff 0 409px,#5844ff 0 410px,#00f 0 425px,#3824ff 0 426px,#7c50ff 0 427px,#8458ff 0 437px,#00f 0 527px,#3824ff 0 528px,#1c10ff 0 529px,#00f 0 538px,#4028ff 0 539px,#8050ff 0)}
#b3{left:440.30px;width:41.80px;background:linear-gradient(#ff381c 0 1px,#ff9078 0 2px,#ff9074 0 3px,#ff9884 0 4px,#ffc0a8 0 5px,#ffb098 0 6px,#ffac94 0 7px,#ff9478 0 8px,#f0a4ac 0 9px,#bc98ff 0 10px,#e05080 0 11px,#bc98ff 0 12px,#ec9ca0 0 13px,#dcacdc 0 14px,#c4a4ff 0 15px,#f4b0b0 0 16px,#ffa088 0 17px,#ff1008 0 18px,#d07cb8 0 19px,#ffc8b4 0 20px,#b890ff 0 21px,#f02440 0 22px,#9c74ff 0 23px,#c8a8ff 0 24px,#a47cff 0 25px,#ccacff 0 26px,#e498b0 0 27px,#ff8c6c 0 28px,#ffb49c 0 29px,#ff987c 0 30px,#e48894 0 31px,#b088ff 0 32px,#a87cff 0 33px,#e8949c 0 34px,#d09ce0 0 35px,#bc98ff 0 36px,#c084d8 0 37px,#ff7c5c 0 38px,#e098b8 0 39px,#ff9478 0 40px,#ff4c2c 0 41px,#ac84ff 0 42px,#dc7ca4 0 43px,#d898cc 0 44px,#ff9c80 0 45px,#ff8c6c 0 46px,#dc98bc 0 47px,#ff9c80 0 48px,#d490c4 0 49px,#ffa88c 0 50px,#e4a4c4 0 51px,#c09cff 0 52px,#ff7050 0 53px,#b890ff 0 54px,#c8a8ff 0 55px,#c4a0ff 0 56px,#c09cff 0 57px,#b088ff 0 58px,#d0a0d8 0 59px,#ac84ff 0 60px,#ffac90 0 61px,#ffa084 0 62px,#ffa488 0 63px,#e4b0d0 0 64px,#ff9074 0 65px,#cc80cc 0 66px,#ecb8c4 0 67px,#ffc0a8 0 68px,#d8a0cc 0 69px,#d894c0 0 70px,#ffb098 0 71px,#ffb8a0 0 72px,#ffc0a8 0 73px,#bc88e4 0 74px,#f4746c 0 75px,#e8b0c8 0 76px,#f0a8ac 0 77px,#d498d4 0 78px,#ff987c 0 79px,#c090e8 0 80px,#d890c0 0 81px,#ffb49c 0 82px,#dcb4e0 0 83px,#ff9478 0 84px,#c090e8 0 85px,#c8a4ff 0 86px,#b890ff 0 87px,#a87cff 0 88px,#f08484 0 89px,#ff3c28 0 90px,#ff3028 0 91px,#ffb098 0 92px,#ffa084 0 93px,#dcb0e4 0 94px,#ff1008 0 95px,#ff4428 0 96px,#ff4024 0 97px,#c0a0ff 0 98px,#ccacff 0 99px,#ffb098 0 100px,#ffa084 0 101px,#e094b4 0 102px,#b490ff 0 103px,#dca4d4 0 104px,#ff8464 0 105px,#ff9474 0 106px,#ff8c6c 0 107px,#ffa890 0 108px,#c4a0ff 0 109px,#c09cff 0 110px,#ecacb8 0 111px,#ffb098 0 112px,#ffa890 0 113px,#c894e0 0 114px,#b490ff 0 115px,#ecacb4 0 116px,#ffc8b8 0 117px,#b48cff 0 119px,#cc9ce4 0 120px,#ffb098 0 121px,#ffb49c 0 122px,#a87cff 0 123px,#cc98d4 0 124px,#cca0e8 0 125px,#ff8868 0 126px,#ffac94 0 127px,#ff8868 0 128px,#dc7ca0 0 129px,#ff7454 0 130px,#ff7854 0 131px,#ff9478 0 132px,#d8a4d4 0 133px,#b088ff 0 134px,#eca8b4 0 135px,#d0b0ff 0 136px,#c890e0 0 137px,#d8a4d8 0 138px,#f42c40 0 139px,#e08cac 0 140px,#b894ff 0 141px,#9c70ff 0 142px,#a078ff 0 143px,#e498b8 0 144px,#d49cd8 0 145px,#ff241c 0 146px,#ff6854 0 147px,#a478ff 0 148px,#ac80ff 0 149px,#bc98ff 0 150px,#d0b4ff 0 151px,#bc94ff 0 152px,#bc98ff 0 153px,#c8a8ff 0 154px,#c8a4ff 0 155px,#c4a4ff 0 156px,#bc98ff 0 157px,#ff9c80 0 158px,#ff8464 0 159px,#ff5030 0 160px,#f00 0 161px,#d44080 0 162px,#ac80ff 0 163px,#ffc8b4 0 164px,#ffc4b0 0 165px,#b08cff 0 166px,#ffa88c 0 167px,#ffac90 0 168px,#ff987c 0 169px,#ff9074 0 170px,#ffac90 0 171px,#b890ff 0 172px,#e8b0c0 0 173px,#a880ff 0 174px,#d0b4ff 0 175px,#ff987c 0 176px,#ff4828 0 177px,#ff9c84 0 178px,#c498e8 0 179px,#ffc0ac 0 180px,#ff7458 0 181px,#cc8cd4 0 182px,#cca0e8 0 183px,#ffc8b8 0 184px,#ff8c70 0 185px,#d484b8 0 186px,#a478ff 0 187px,#e8b8cc 0 188px,#ffb098 0 189px,#ff6860 0 190px,#ff5040 0 191px,#ffac90 0 192px,#ff5448 0 193px,#f00 0 194px,#ff8064 0 195px,#ffa084 0 196px,#ffb098 0 197px,#ff9070 0 198px,#ffb098 0 199px,#ffb49c 0 200px,#ff987c 0 201px,#ff8c70 0 202px,#ffb49c 0 203px,#ff987c 0 205px,#ffb098 0 206px,#e8909c 0 207px,#b894ff 0 208px,#eca8b4 0 209px,#ffc0a8 0 210px,#ff7050 0 211px,#ffc0a8 0 212px,#ff301c 0 213px,#ff6c48 0 214px,#ec9098 0 215px,#b490ff 0 216px,#c09cff 0 218px,#d8c0ff 0 219px,#f0b4b8 0 220px,#d8a4e0 0 221px,#f8a49c 0 222px,#d8c0ff 0 223px,#ccacff 0 224px,#e4b4d0 0 225px,#c8acff 0 226px,#c878b4 0 227px,#c088e0 0 228px,#dc94c0 0 229px,#c0a0ff 0 230px,#d4acf0 0 231px,#f0c4cc 0 232px,#c4a4ff 0 233px,#b890ff 0 234px,#dcc4ff 0 235px,#d8bcff 0 236px,#c4a0ff 0 237px,#d8bcff 0 238px,#bc94ff 0 239px,#ffc0a8 0 240px,#ffa084 0 241px,#ffbca8 0 242px,#d0b0ff 0 243px,#ccacff 0 244px,#e0d0ff 0 245px,#c8a8ff 0 246px,#ccacff 0 247px,#c4a4ff 0 248px,#b088ff 0 249px,#dca0c8 0 250px,#f0a8b0 0 251px,#c4a4ff 0 252px,#d0b4ff 0 253px,#c09cff 0 254px,#d4a4e4 0 255px,#ffbca8 0 256px,#c09cff 0 258px,#bc94ff 0 259px,#d8c0ff 0 260px,#e898ac 0 261px,#ccacff 0 262px,#dc80a0 0 263px,#ff7450 0 264px,#b48cff 0 265px,#dcc4ff 0 266px,#ecb0c0 0 267px,#b894ff 0 268px,#bc98ff 0 269px,#c09cff 0 270px,#ac84ff 0 271px,#e8acc4 0 272px,#ffa084 0 273px,#d4b8ff 0 274px,#bc9cff 0 275px,#b894ff 0 276px,#f0d4e8 0 277px,#ffac90 0 278px,#d8c0ff 0 279px,#d0b0ff 0 280px,#d8c0ff 0 281px,#ac84ff 0 282px,#c894e0 0 283px,#f0a4ac 0 284px,#bc98ff 0 286px,#d4bcff 0 287px,#a074ff 0 288px,#a880ff 0 289px,#c8a4ff 0 290px,#e8b0d4 0 291px,#c484d4 0 292px,#d090d0 0 293px,#f4746c 0 294px,#e8889c 0 295px,#ff785c 0 296px,#ffbca8 0 297px,#e0b8e8 0 298px,#ccb0ff 0 299px,#c4a0ff 0 300px,#c8a8ff 0 302px,#bc94ff 0 303px,#a880ff 0 304px,#c894d8 0 305px,#dca8dc 0 306px,#ccb0ff 0 307px,#ccacff 0 308px,#bc98ff 0 309px,#d8a4dc 0 310px,#bc88e0 0 311px,#b890ff 0 312px,#d8a4d8 0 313px,#f89488 0 314px,#e0c8ff 0 316px,#e8dcff 0 317px,#c8a8ff 0 318px,#c8a4ff 0 319px,#bc98ff 0 320px,#c09cff 0 321px,#ffa890 0 322px,#f49c9c 0 323px,#d0b4ff 0 324px,#ec8c94 0 325px,#ffb098 0 326px,#ff9c80 0 328px,#fcc0b4 0 329px,#f0b8c8 0 330px,#ff6444 0 331px,#ff8c70 0 332px,#dca8d8 0 333px,#ec98a4 0 334px,#e490ac 0 335px,#ccacff 0 336px,#c4a4ff 0 337px,#b890ff 0 338px,#f08888 0 339px,#c8a8ff 0 340px,#e0c8ff 0 341px,#e4d0ff 0 342px,#ccb0ff 0 343px,#9c70ff 0 344px,#bc98ff 0 345px,#ccacff 0 346px,#e4c8f4 0 347px,#ffc8b4 0 348px,#ffbca4 0 349px,#ff9c80 0 350px,#e4b4d8 0 351px,#ccacff 0 352px,#b894ff 0 353px,#986cff 0 354px,#a87cff 0 355px,#d0b4ff 0 356px,#f4c0c0 0 357px,#c8a4ff 0 358px,#ffbca8 0 359px,#e8c4e0 0 360px,#d484b0 0 361px,#e0acd8 0 362px,#c8a8ff 0 363px,#d0b0ff 0 364px,#ccacff 0 365px,#e0ccfc 0 366px,#f8ecf8 0 367px,#c0a0ff 0 368px,#c4a4ff 0 369px,#c4a0ff 0 370px,#a47cff 0 371px,#c0a0ff 0 372px,#ff9074 0 373px,#e4b4d8 0 374px,#e4d0ff 0 375px,#dcb0dc 0 376px,#d898c4 0 377px,#c8a8ff 0 378px,#e0b0d4 0 379px,#c4a0ff 0 380px,#b48cff 0 381px,#c48ce0 0 382px,#ff9478 0 383px,#ffa084 0 384px,#d4a4e0 0 385px,#d0b4ff 0 386px,#ccacff 0 387px,#dca4d4 0 388px,#e490ac 0 389px,#c4a0ff 0 390px,#d0b4ff 0 391px,#dcc0ff 0 392px,#c4a0ff 0 393px,#f4acb0 0 394px,#e4c0e8 0 395px,#e4d0ff 0 396px,#e8d8ff 0 397px,#d8c0ff 0 398px,#d0b0ff 0 399px,#dcc4ff 0 400px,#ecd0f0 0 401px,#bc98ff 0 402px,#a47cff 0 403px,#cc98d8 0 404px,#e0acc8 0 405px,#8c60ff 0 406px,#7448ff 0 407px,#b48cff 0 408px,#ffd0c0 0 409px,#e8b4d0 0 410px,#b48cff 0 411px,#9c70ff 0 412px,#d09cd8 0 413px,#e0a8c0 0 414px,#946cff 0 415px,#c8a8ff 0 416px,#8c6cff 0 417px,#4828ff 0 418px,#683cff 0 419px,#5c34ff 0 420px,#7c54ff 0 421px,#a47cff 0 422px,#a078ff 0 423px,#9468ff 0 424px,#d0b0ff 0 425px,#ac80ff 0 426px,#b490ff 0 427px,#986cff 0 428px,#a884ff 0 429px,#845cff 0 430px,#8058ff 0 431px,#e0c8ff 0 432px,#ac84ff 0 433px,#a074ff 0 434px,#a478ff 0 435px,#b08cff 0 436px,#8058ff 0 437px,#bc9cff 0 438px,#c4a4ff 0 439px,#9468ff 0 440px,#b894ff 0 441px,#986cff 0 442px,#784cff 0 443px,#643cff 0 444px,#8054ff 0 445px,#b084ff 0 446px,#b088ff 0 447px,#8454ff 0 448px,#b084ff 0 449px,#bc9cff 0 450px,#c4acff 0 451px,#9064ec 0 452px,#ffc8b4 0 453px,#9064ff 0 454px,#885cff 0 455px,#a074ff 0 456px,#9468ff 0 457px,#bc9cff 0 458px,#b08cff 0 459px,#bc98ff 0 460px,#9c70ff 0 461px,#9468ff 0 462px,#a07cff 0 463px,#8864ff 0 464px,#ac6cc8 0 465px,#e0a0bc 0 466px,#8c64ff 0 467px,#bc98ff 0 468px,#c09cff 0 469px,#9068ff 0 470px,#a074ff 0 471px,#885cff 0 472px,#8c64ff 0 473px,#e8ccec 0 474px,#5c34ff 0 475px,#c09cff 0 476px,#a074ff 0 477px,#b088ff 0 478px,#ccb0ff 0 479px,#b490ff 0 480px,#8c60ff 0 481px,#9468ff 0 482px,#a880ff 0 483px,#d4bcff 0 484px,#a880ff 0 485px,#9c70ff 0 486px,#9068ff 0 487px,#b088ff 0 488px,#9870ff 0 489px,#d8bcff 0 490px,#bc98ff 0 491px,#00f 0 495px,#b48cff 0 496px,#9c78ff 0 497px,#9c7cff 0 498px,#8860ff 0 499px,#d4bcff 0 500px,#00f 0 510px,#4834ff 0 511px,#8c60ff 0 512px,#00f 0 513px,#b89cff 0 514px,#9468ff 0 515px,#885cff 0 516px,#6c44ff 0 517px,#ac84ff 0 518px,#7048ff 0 519px,#a074ff 0 520px,#8054ff 0 521px,#402cff 0 522px,#4028ff 0 523px,#9c74ff 0 524px,#ac84ff 0 525px,#a074ff 0 526px,#a47cff 0 527px,#d4b8ff 0 528px,#e8b8d0 0 529px,#b080d8 0 530px,#7c54ff 0 531px,#a87cff 0 532px,#7c50ff 0 533px,#9068ff 0 534px,#b084ff 0 535px,#885cff 0 536px,#7448ff 0 537px,#906cff 0 538px,#b08cff 0 539px,#9468ff 0)}
#b4{left:481.80px;width:41.80px;background:linear-gradient(#ff5434 0 1px,#ff9478 0 2px,#ff886c 0 3px,#ffa088 0 4px,#ffc0ac 0 5px,#ffb098 0 6px,#ffac94 0 7px,#ff8868 0 8px,#ec989c 0 9px,#bc94ff 0 10px,#d8608c 0 11px,#ac84ff 0 12px,#ec9498 0 13px,#dcacdc 0 14px,#bc98ff 0 15px,#f4908c 0 16px,#ff6450 0 17px,#ff2418 0 18px,#d078b4 0 19px,#ffbca8 0 20px,#b890ff 0 21px,#ec3444 0 22px,#a078ff 0 23px,#d0b0ff 0 24px,#b890ff 0 25px,#c09cff 0 26px,#dc94b8 0 27px,#ff8464 0 28px,#ffa48c 0 29px,#ff9878 0 30px,#e87480 0 31px,#a078ff 0 32px,#986cff 0 33px,#ec8488 0 34px,#cc90d8 0 35px,#bc98ff 0 36px,#c884d0 0 37px,#ff7050 0 38px,#e898b0 0 39px,#ff9474 0 40px,#ff5434 0 41px,#c09cff 0 42px,#e07ca0 0 43px,#e4a8d0 0 44px,#ff9c80 0 45px,#ffbca8 0 46px,#d894c0 0 47px,#ffa084 0 48px,#d48cbc 0 49px,#ffa488 0 50px,#e8a4b8 0 51px,#c4a4ff 0 52px,#ff5838 0 53px,#c4a0ff 0 54px,#dcc8ff 0 55px,#bc98ff 0 56px,#c09cff 0 57px,#c8a8ff 0 58px,#cc9cdc 0 59px,#a478ff 0 60px,#ffa890 0 61px,#ff9070 0 62px,#ff9478 0 63px,#e8a8bc 0 64px,#ff684c 0 65px,#d080c4 0 66px,#ecb4c0 0 67px,#ffc4b4 0 68px,#d49cd0 0 69px,#d098cc 0 70px,#ffb8a0 0 71px,#ffb098 0 72px,#ffbca4 0 73px,#bc80d8 0 74px,#f86460 0 75px,#e8a8c4 0 76px,#eca0a4 0 77px,#c890dc 0 78px,#ff9c80 0 79px,#c094ec 0 80px,#dc98bc 0 81px,#ffac94 0 82px,#d8a8d8 0 83px,#ff987c 0 84px,#c090e4 0 85px,#a078ff 0 86px,#b48cff 0 87px,#b894ff 0 88px,#f08888 0 89px,#ff5034 0 90px,#ff382c 0 91px,#ffa48c 0 92px,#ffa084 0 93px,#d4ace8 0 94px,#f00 0 96px,#ff0804 0 97px,#a880ff 0 98px,#c4a0ff 0 99px,#ffc4b0 0 100px,#ff886c 0 101px,#e490ac 0 102px,#b48cff 0 103px,#b480e4 0 104px,#ff9c80 0 106px,#ff886c 0 107px,#ff987c 0 108px,#b088ff 0 109px,#a87cff 0 110px,#e88894 0 111px,#ff9478 0 112px,#ffb8a0 0 113px,#bc8ce8 0 114px,#bc98ff 0 115px,#eca8b0 0 116px,#ffd0c4 0 117px,#8c60ff 0 118px,#bc98ff 0 119px,#d8b0e8 0 120px,#ffac94 0 121px,#ff9070 0 122px,#a880ff 0 123px,#d8a4d4 0 124px,#b488f0 0 125px,#ff7c5c 0 126px,#ff9074 0 127px,#ff8464 0 128px,#e47898 0 129px,#ff6444 0 130px,#ff8464 0 131px,#ffa088 0 132px,#d898c4 0 133px,#b088ff 0 134px,#ecacb8 0 135px,#b894ff 0 136px,#cc94dc 0 137px,#d49cdc 0 138px,#f43040 0 139px,#e098b4 0 140px,#d0b4ff 0 141px,#c4a0ff 0 142px,#a87cff 0 143px,#dc98c0 0 144px,#cca0e8 0 145px,#ff2824 0 146px,#ff5040 0 147px,#986cff 0 148px,#9064ff 0 149px,#c09cff 0 150px,#d0b4ff 0 151px,#c09cff 0 152px,#b894ff 0 153px,#ac80ff 0 154px,#bc98ff 0 155px,#b088ff 0 156px,#c4a0ff 0 157px,#ff9474 0 158px,#ff8c6c 0 159px,#ff5030 0 160px,#ff200c 0 161px,#e05884 0 162px,#c09cff 0 163px,#ffc0a8 0 164px,#ffc8b4 0 165px,#b48cff 0 166px,#ffa088 0 167px,#ff9c80 0 168px,#ff8060 0 169px,#ffa084 0 170px,#ffbca4 0 171px,#c4a0ff 0 172px,#f0a8a8 0 173px,#b088ff 0 174px,#dcc8ff 0 175px,#ffc4b4 0 176px,#ff8c6c 0 177px,#ffb8a4 0 178px,#c090e8 0 179px,#ff8c6c 0 180px,#ff5438 0 181px,#d488c8 0 182px,#d4a8ec 0 183px,#ffc0ac 0 184px,#ff9878 0 185px,#e088a8 0 186px,#b890ff 0 187px,#f09c98 0 188px,#ffa488 0 189px,#ff5c50 0 190px,#ff5c54 0 191px,#ffa488 0 192px,#ff584c 0 193px,#f00 0 194px,#ff6048 0 195px,#ffb098 0 196px,#ffa088 0 197px,#ff6044 0 198px,#ff8868 0 199px,#ff9c80 0 200px,#ffb8a0 0 201px,#ffa088 0 202px,#ffb098 0 203px,#ffa48c 0 204px,#ff9c80 0 205px,#ff9478 0 206px,#f0a4a8 0 207px,#bc98ff 0 208px,#eca4ac 0 209px,#ff9878 0 210px,#ff482c 0 211px,#ffc4ac 0 212px,#f00 0 213px,#ff6c4c 0 214px,#f09094 0 215px,#c4a4ff 0 216px,#c8a8ff 0 217px,#c4a4ff 0 218px,#e8d4ff 0 219px,#f0acb0 0 220px,#d4a4e0 0 221px,#f4acac 0 222px,#d8bcff 0 224px,#ecb8cc 0 225px,#d0b4ff 0 226px,#e084a4 0 227px,#d09ce0 0 228px,#dc94bc 0 229px,#ccacff 0 230px,#d0acf4 0 231px,#f0c0cc 0 232px,#c09cff 0 233px,#ccacff 0 234px,#dcc4ff 0 235px,#ccacff 0 236px,#b890ff 0 237px,#d0b0ff 0 238px,#b890ff 0 239px,#ffb4a0 0 240px,#ff987c 0 241px,#ffa88c 0 242px,#d4b8ff 0 243px,#b890ff 0 244px,#d0b4ff 0 245px,#c4a0ff 0 246px,#d0b4ff 0 247px,#c09cff 0 248px,#ac84ff 0 249px,#d8b4e8 0 250px,#f4b8bc 0 251px,#b894ff 0 252px,#b48cff 0 253px,#a87cff 0 254px,#bc88e8 0 255px,#ffb4a0 0 256px,#c4a0ff 0 257px,#b894ff 0 258px,#b890ff 0 259px,#dcc4ff 0 260px,#d478a4 0 261px,#ccacff 0 262px,#e494b0 0 263px,#ff9074 0 264px,#c09cff 0 265px,#dcc4ff 0 266px,#e4acc8 0 267px,#bc98ff 0 268px,#ccacff 0 269px,#d0b4ff 0 270px,#ac84ff 0 271px,#d8acd8 0 272px,#ffb49c 0 273px,#bc98ff 0 274px,#ccacff 0 275px,#e0c8ff 0 276px,#f4d4e4 0 277px,#ffb098 0 278px,#c4a4ff 0 279px,#d8c0ff 0 280px,#e8dcff 0 281px,#c8a8ff 0 282px,#d0a0e4 0 283px,#f0a8ac 0 284px,#c8a8ff 0 285px,#b894ff 0 286px,#ccacff 0 287px,#b48cff 0 288px,#c0a0ff 0 289px,#b894ff 0 290px,#e0b0d8 0 291px,#d49cd8 0 292px,#c488d8 0 293px,#f4706c 0 294px,#ec8c9c 0 295px,#ff7054 0 296px,#ffc8b4 0 297px,#d8b0ec 0 298px,#e4d0ff 0 299px,#c8a8ff 0 300px,#d0b0ff 0 301px,#c8a8ff 0 302px,#a87cff 0 303px,#ac84ff 0 304px,#d894c0 0 305px,#d4a0dc 0 306px,#c8a8ff 0 307px,#c8a4ff 0 308px,#d8c0ff 0 309px,#e4b4dc 0 310px,#c488dc 0 311px,#ac84ff 0 312px,#d89cd0 0 313px,#f48880 0 314px,#d0b4ff 0 315px,#e0ccff 0 316px,#c8a8ff 0 317px,#b890ff 0 318px,#9468ff 0 319px,#986cff 0 320px,#c8a8ff 0 321px,#ffb098 0 322px,#f49c94 0 323px,#d8c0ff 0 324px,#f08080 0 325px,#ffa488 0 326px,#ffb49c 0 327px,#ffc0ac 0 328px,#f0ccdc 0 329px,#d49cd4 0 330px,#ff7854 0 331px,#ff8464 0 332px,#dca0d4 0 333px,#e8a0b4 0 334px,#e498b4 0 335px,#d8c0ff 0 336px,#d0b4ff 0 337px,#c09cff 0 338px,#f47c78 0 339px,#b894ff 0 340px,#ccacff 0 341px,#d4b8ff 0 342px,#c8acff 0 343px,#9468ff 0 344px,#d4c0ff 0 345px,#e0d0ff 0 346px,#e4c0e4 0 347px,#ffc8b4 0 348px,#ffd8c8 0 349px,#ffb8a4 0 350px,#e4b8d8 0 351px,#c8a8ff 0 352px,#bc94ff 0 353px,#b48cff 0 354px,#b088ff 0 355px,#d8c4ff 0 356px,#fcb8a8 0 357px,#b088ff 0 358px,#ffc8b8 0 359px,#f0c0d0 0 360px,#e07494 0 361px,#d088c8 0 362px,#bc98ff 0 363px,#d8c0ff 0 364px,#d8bcff 0 365px,#f0e4fc 0 366px,#e0ccff 0 367px,#d0b4ff 0 369px,#c09cff 0 370px,#bc98ff 0 371px,#c09cff 0 372px,#ff8460 0 373px,#e8b8d4 0 374px,#e8d8ff 0 375px,#e4b4d8 0 376px,#d890bc 0 377px,#dcc4ff 0 378px,#e4acc8 0 379px,#c8acff 0 380px,#986cff 0 381px,#b888e4 0 382px,#ffac94 0 383px,#ffa88c 0 384px,#cc9ce4 0 385px,#b490ff 0 386px,#ac84ff 0 387px,#cc94dc 0 388px,#d888b8 0 389px,#a87cff 0 390px,#bc98ff 0 391px,#c4a0ff 0 392px,#d0b0ff 0 393px,#eca4ac 0 394px,#dcb4e8 0 395px,#c8acff 0 396px,#c4a0ff 0 397px,#dcc4ff 0 398px,#d8bcff 0 399px,#e8d8ff 0 400px,#eccce4 0 401px,#b894ff 0 402px,#a078ff 0 403px,#c8a0e8 0 404px,#e4b0cc 0 405px,#9064ff 0 406px,#a47cff 0 407px,#c0a0ff 0 408px,#ffdccc 0 409px,#dcacd8 0 410px,#a880ff 0 411px,#b48cff 0 412px,#d09cd8 0 413px,#d4a0c8 0 414px,#683cff 0 415px,#c4a4ff 0 416px,#b898ff 0 417px,#6038ff 0 418px,#784cff 0 419px,#8054ff 0 420px,#9468ff 0 421px,#9c70ff 0 422px,#784cff 0 423px,#7448ff 0 424px,#c4a4ff 0 425px,#a47cff 0 426px,#ac84ff 0 427px,#885cff 0 428px,#8c60ff 0 429px,#5c38ff 0 430px,#7450ff 0 431px,#ccacff 0 432px,#ac88ff 0 433px,#9468ff 0 434px,#b088ff 0 435px,#a47cff 0 436px,#8860ff 0 437px,#946cff 0 438px,#d0b0ff 0 439px,#9c70ff 0 440px,#9c74ff 0 441px,#845cff 0 442px,#885cff 0 443px,#9c70ff 0 444px,#a880ff 0 445px,#b890ff 0 446px,#00f 0 450px,#c4acff 0 451px,#7c58f4 0 452px,#8070e8 0 453px,#00f 0 456px,#9064ff 0 457px,#a478ff 0 458px,#a074ff 0 459px,#9464ff 0 460px,#b894ff 0 461px,#9064ff 0 462px,#8c68ff 0 463px,#a07cff 0 464px,#b884d8 0 465px,#e494a8 0 466px,#8058ff 0 467px,#a478ff 0 468px,#b088ff 0 469px,#8860ff 0 470px,#8054ff 0 471px,#8458ff 0 472px,#a07cff 0 473px,#f8d4d8 0 474px,#6038ff 0 475px,#a47cff 0 476px,#784cff 0 477px,#8c60ff 0 478px,#b894ff 0 479px,#b08cff 0 480px,#7c50ff 0 481px,#8054ff 0 482px,#9468ff 0 483px,#00f 0 486px,#6c44ff 0 487px,#4028ff 0 488px,#00f 0 489px,#6858ff 0 490px,#c4a0ff 0 491px,#b894ff 0 492px,#00f 0 495px,#503cff 0 496px,#946cff 0 497px,#00f 0 499px,#d0b4ff 0 500px,#e4bcdc 0 501px,#00f 0 503px,#885cff 0 504px,#8458ff 0 505px,#f0e8ff 0 506px,#7c50ff 0 507px,#9468ff 0 508px,#8050ff 0 509px,#6054ff 0 510px,#00f 0 513px,#9070ff 0 514px,#885cff 0 515px,#9064ff 0 516px,#6c40ff 0 517px,#b490ff 0 518px,#5434ff 0 519px,#7c54ff 0 520px,#ac84ff 0 521px,#8054ff 0 522px,#885cff 0 523px,#a880ff 0 524px,#ac84ff 0 525px,#885cff 0 526px,#9c70ff 0 527px,#b48cff 0 528px,#d898c8 0 529px,#c884c8 0 530px,#643cff 0 531px,#9064ff 0 532px,#8c60ff 0 533px,#9064ff 0 534px,#a478ff 0 535px,#784cff 0 536px,#7448ff 0 537px,#845cff 0 538px,#c09cff 0 539px,#b894ff 0)}
#b5{left:523.30px;width:41.80px;background:linear-gradient(#ff8864 0 1px,#e4b4d8 0 2px,#e0acd8 0 3px,#cc90d8 0 4px,#bc94ff 0 5px,#b48cff 0 6px,#d4ace8 0 7px,#ffbca4 0 8px,#bc9cff 0 9px,#9464ff 0 10px,#dc7094 0 11px,#b088ff 0 12px,#bc98ff 0 13px,#a074ff 0 14px,#a880ff 0 15px,#c490e0 0 16px,#e494b0 0 17px,#ff7450 0 18px,#a460d4 0 19px,#b894ff 0 20px,#a87cff 0 21px,#e86068 0 22px,#ac84ff 0 23px,#9064ff 0 24px,#a074ff 0 25px,#b48cff 0 26px,#d89ccc 0 27px,#ffc0ac 0 28px,#b490ff 0 29px,#f4acb0 0 30px,#e49cac 0 31px,#a074ff 0 32px,#8858ff 0 33px,#e09cb4 0 34px,#c490e4 0 35px,#b088ff 0 36px,#a870e4 0 37px,#ffac94 0 38px,#d4a0d4 0 39px,#ffd0c0 0 40px,#ff8460 0 41px,#9064ff 0 42px,#cc80bc 0 43px,#c084dc 0 44px,#ffccbc 0 45px,#e4b8dc 0 46px,#d0a0d8 0 47px,#ffc0ac 0 48px,#d098d4 0 49px,#c4a4ff 0 50px,#b088ff 0 51px,#9468ff 0 52px,#ff987c 0 53px,#a478ff 0 55px,#ac84ff 0 56px,#9c70ff 0 57px,#9468ff 0 58px,#ac84ff 0 59px,#9064ff 0 60px,#d0b4ff 0 61px,#f4c0c4 0 62px,#d8a4d4 0 63px,#b08cff 0 64px,#d894bc 0 65px,#b47cdc 0 66px,#b890ff 0 68px,#a078ff 0 69px,#b490ff 0 70px,#ccacff 0 71px,#c09cff 0 72px,#ccacff 0 73px,#a47cff 0 74px,#dc98bc 0 75px,#c09cff 0 76px,#bc98ff 0 77px,#a880f4 0 78px,#ecc0d0 0 79px,#a074ff 0 80px,#bc9cff 0 81px,#d0b0ff 0 82px,#a880ff 0 83px,#f0c0cc 0 84px,#9468ff 0 85px,#9064ff 0 87px,#986cff 0 88px,#e0acc8 0 89px,#ff8c70 0 90px,#f07878 0 91px,#ccb0ff 0 92px,#b894ff 0 93px,#a478ff 0 94px,#ff7c5c 0 95px,#ff5438 0 96px,#ff6040 0 97px,#946cff 0 98px,#ac80ff 0 99px,#bc94ff 0 100px,#e4a4c0 0 101px,#d890bc 0 102px,#a078ff 0 103px,#b080ec 0 104px,#ffc8b8 0 105px,#ffd0c0 0 106px,#ffb8a4 0 107px,#d0a0e4 0 108px,#ac80ff 0 109px,#b088ff 0 110px,#bc9cff 0 111px,#dcc4ff 0 112px,#c4a0ff 0 113px,#9c70ff 0 114px,#885cff 0 115px,#b08cff 0 116px,#b894ff 0 117px,#a478ff 0 118px,#a078ff 0 119px,#b490ff 0 120px,#c09cff 0 121px,#ccb0ff 0 122px,#885cff 0 123px,#ac88ff 0 124px,#ac80ff 0 125px,#ffa084 0 126px,#ffb098 0 127px,#ffb094 0 128px,#d884b0 0 129px,#ff8c70 0 130px,#ffbca8 0 131px,#d0a8ec 0 132px,#986cff 0 133px,#8c60ff 0 134px,#c4a4ff 0 135px,#8c60ff 0 136px,#ac7cec 0 137px,#b084ec 0 138px,#e47480 0 139px,#dca0cc 0 140px,#a074ff 0 141px,#9468ff 0 142px,#9464ff 0 143px,#e0b0d4 0 144px,#c8a8ff 0 145px,#f86c64 0 146px,#ffa48c 0 147px,#8c60ff 0 148px,#9468ff 0 149px,#9c70ff 0 150px,#b48cff 0 151px,#b894ff 0 152px,#c09cff 0 153px,#ac84ff 0 154px,#b088ff 0 155px,#a47cff 0 156px,#9064ff 0 157px,#d0a4e8 0 158px,#ffbca8 0 159px,#ff9074 0 160px,#ff6040 0 161px,#c870ac 0 162px,#a074ff 0 163px,#b088ff 0 164px,#885cff 0 165px,#a078ff 0 166px,#ccb0ff 0 167px,#d4b8ff 0 168px,#f0b8bc 0 169px,#d8a4d4 0 170px,#c09cff 0 171px,#a880ff 0 172px,#c09cff 0 173px,#8c60ff 0 174px,#b088ff 0 175px,#c09cff 0 176px,#ff9478 0 177px,#d49cdc 0 178px,#a87cff 0 179px,#d0b0ff 0 180px,#f49890 0 181px,#c088d8 0 182px,#b084ff 0 183px,#b890ff 0 184px,#ffb49c 0 185px,#d098d4 0 186px,#ac84ff 0 187px,#b48cff 0 188px,#b088ff 0 189px,#dc6890 0 190px,#e8708c 0 191px,#ffc4b0 0 192px,#ff9c84 0 193px,#ff4424 0 194px,#e094b0 0 195px,#c8acff 0 196px,#bc98ff 0 197px,#ec98a0 0 198px,#ecc4d8 0 199px,#c8a8ff 0 200px,#ecc0d8 0 201px,#d8b4f0 0 202px,#bc98ff 0 203px,#e0a8d0 0 204px,#d0a0dc 0 205px,#c494e8 0 206px,#e0acc4 0 207px,#8c60ff 0 208px,#b894ff 0 209px,#d0b4ff 0 210px,#ffa488 0 211px,#b490ff 0 212px,#ff4428 0 213px,#ff8868 0 214px,#d8a4dc 0 215px,#ac84ff 0 216px,#a47cff 0 217px,#b48cff 0 218px,#ccb0ff 0 219px,#ccacff 0 220px,#ac88ff 0 221px,#dcc4ff 0 222px,#bc94ff 0 223px,#b088ff 0 224px,#ccb0ff 0 225px,#bc98ff 0 226px,#c87cb8 0 227px,#b084f0 0 228px,#cc9cdc 0 229px,#a87cff 0 230px,#b088ff 0 231px,#c8a4ff 0 232px,#bc98ff 0 233px,#b894ff 0 234px,#b48cff 0 235px,#b088ff 0 236px,#ac80ff 0 237px,#c8a4ff 0 238px,#b08cff 0 239px,#e4d0ff 0 240px,#f4c8d0 0 241px,#d8b4ec 0 242px,#b894ff 0 243px,#9c70ff 0 244px,#ac84ff 0 245px,#9468ff 0 246px,#a47cff 0 247px,#9c74ff 0 248px,#9c70ff 0 249px,#a880ff 0 250px,#c09cff 0 251px,#a87cff 0 252px,#a47cff 0 253px,#b48cff 0 254px,#c4a4ff 0 255px,#d8bcff 0 256px,#b088ff 0 257px,#ac84ff 0 258px,#b088ff 0 259px,#ccacff 0 260px,#cc8cc8 0 261px,#986cff 0 262px,#c480c4 0 263px,#ffac90 0 264px,#9c70ff 0 265px,#c4a4ff 0 266px,#e0b4dc 0 267px,#a074ff 0 268px,#a880ff 0 269px,#bc98ff 0 270px,#a478ff 0 271px,#d0b4ff 0 272px,#e8d8ff 0 273px,#a478ff 0 274px,#ac84ff 0 275px,#b894ff 0 276px,#d8bcff 0 277px,#dcc4ff 0 278px,#986cff 0 279px,#ccb0ff 0 280px,#d0b0ff 0 281px,#a87cff 0 282px,#bc90ec 0 283px,#e8bcd0 0 284px,#a87cff 0 285px,#9c70ff 0 286px,#a880ff 0 287px,#9468ff 0 288px,#986cff 0 289px,#a074ff 0 290px,#cc9ce4 0 291px,#bc88e4 0 292px,#b078e4 0 293px,#f0a4ac 0 294px,#e09cc0 0 295px,#f4a0a0 0 296px,#ccb0ff 0 297px,#b894ff 0 298px,#b088ff 0 299px,#c09cff 0 300px,#b088ff 0 301px,#a47cff 0 302px,#ac84ff 0 303px,#b084ff 0 304px,#d4a0d8 0 305px,#b88cf0 0 306px,#b48cff 0 307px,#a880ff 0 308px,#a078ff 0 309px,#c498ec 0 310px,#a878ec 0 311px,#a074ff 0 312px,#b884e4 0 313px,#e8a8b8 0 314px,#a47cff 0 315px,#bc94ff 0 316px,#c4a0ff 0 317px,#b088ff 0 318px,#8c60ff 0 319px,#986cff 0 320px,#a87cff 0 321px,#d8ace8 0 322px,#f0b4b8 0 323px,#b490ff 0 324px,#e88c98 0 325px,#f4ccd8 0 326px,#e4d4ff 0 327px,#e4d0ff 0 328px,#d8c0ff 0 329px,#cc98e0 0 330px,#ffa088 0 331px,#ffb49c 0 332px,#b484e8 0 333px,#d498c8 0 334px,#d494c8 0 335px,#b490ff 0 336px,#ac84ff 0 337px,#9468ff 0 338px,#e8a8b4 0 339px,#9c70ff 0 340px,#b48cff 0 341px,#c8a8ff 0 343px,#a074ff 0 344px,#b48cff 0 345px,#c8acff 0 346px,#c4a4ff 0 347px,#d4b8ff 0 348px,#e0c8ff 0 349px,#ffccbc 0 350px,#d8ace4 0 351px,#b088ff 0 352px,#a478ff 0 353px,#a87cff 0 354px,#b088ff 0 355px,#ccb0ff 0 356px,#ccacff 0 357px,#b894ff 0 358px,#d8c0ff 0 359px,#d0b0ff 0 360px,#d484b4 0 361px,#cc94dc 0 362px,#b088ff 0 363px,#b490ff 0 364px,#b088ff 0 365px,#bc94ff 0 366px,#c4a4ff 0 367px,#ac84ff 0 368px,#b490ff 0 369px,#b088ff 0 370px,#a478ff 0 371px,#a078ff 0 372px,#ffac94 0 373px,#dcb0e0 0 374px,#dcc4ff 0 375px,#c8b0ff 0 376px,#cc9cd8 0 377px,#c4a0ff 0 378px,#c8acff 0 379px,#a478ff 0 380px,#986cff 0 381px,#b888f0 0 382px,#ffe0d8 0 383px,#ffd4c8 0 384px,#d8b8f0 0 385px,#b898ff 0 386px,#ac84ff 0 387px,#d09cdc 0 388px,#d890bc 0 389px,#b088ff 0 390px,#b894ff 0 391px,#c09cff 0 392px,#b08cff 0 393px,#e4a8c0 0 394px,#d4b0f0 0 395px,#c4a4ff 0 396px,#bc98ff 0 397px,#b894ff 0 398px,#986cff 0 399px,#ccacff 0 400px,#d4b8ff 0 401px,#9468ff 0 402px,#6c44ff 0 403px,#b494f0 0 404px,#ccbcf4 0 405px,#4828ff 0 406px,#7048ff 0 407px,#9064ff 0 408px,#fcf4f8 0 409px,#d8c4fc 0 410px,#a880ff 0 411px,#9060ff 0 412px,#4830ff 0 413px,#00f 0 415px,#c4a4ff 0 416px,#9874ff 0 417px,#7044ff 0 418px,#784cff 0 419px,#643cff 0 420px,#5834ff 0 421px,#7044ff 0 422px,#784cff 0 423px,#7044ff 0 424px,#a074ff 0 425px,#7448ff 0 426px,#9c74ff 0 427px,#8054ff 0 428px,#8c64ff 0 429px,#5c38ff 0 430px,#5c3cff 0 431px,#b48cff 0 432px,#986cff 0 433px,#8458ff 0 434px,#9464ff 0 435px,#946cff 0 436px,#744cff 0 437px,#845cff 0 438px,#00f 0 442px,#6840ff 0 443px,#784cff 0 444px,#683cff 0 445px,#8c5cff 0 446px,#00f 0 448px,#4c38ff 0 449px,#bc9cff 0 450px,#00f 0 453px,#6c44ff 0 454px,#5430ff 0 455px,#8454ff 0 456px,#442cff 0 457px,#00f 0 460px,#7c50ff 0 461px,#7044ff 0 462px,#a47cff 0 463px,#8c64ff 0 464px,#ac8cf4 0 465px,#d8bce8 0 466px,#00f 0 471px,#8458ff 0 472px,#8058ff 0 473px,#c8acff 0 474px,#381cff 0 475px,#a47cff 0 476px,#5c34ff 0 477px,#784cff 0 478px,#b48cff 0 479px,#9c74ff 0 480px,#7448ff 0 481px,#986cff 0 482px,#b08cff 0 483px,#b894ff 0 484px,#7c50ff 0 485px,#885cff 0 486px,#7850ff 0 487px,#784cff 0 488px,#00f 0 509px,#c4a4ff 0 510px,#704cff 0 511px,#7c4cff 0 512px,#5440ff 0 513px,#00f 0 514px,#402cff 0 515px,#7448ff 0 516px,#643cff 0 517px,#9068ff 0 518px,#5830ff 0 519px,#9870ff 0 520px,#9064ff 0 521px,#643cff 0 522px,#784cff 0 523px,#00f 0 525px,#8c60ff 0 526px,#744cff 0 527px,#b894ff 0 528px,#d4b8f4 0 529px,#00f 0 531px,#9060ff 0 532px,#7448ff 0 533px,#7044ff 0 534px,#8c60ff 0 535px,#683cff 0 536px,#7048ff 0 537px,#986cff 0 538px,#a880ff 0 539px,#9468ff 0)}
#c0{left:572.60px;width:41.85px;background:linear-gradient(#ff9478 0 1px,#ff9074 0 2px,#ff5434 0 3px,#ff7854 0 4px,#ff6040 0 5px,#a078ff 0 6px,#e86c78 0 7px,#a058d0 0 8px,#c05ca4 0 9px,#7038d0 0 10px,#a43890 0 11px,#5830ff 0 12px,#ff2410 0 13px,#9854d4 0 14px,#c0547c 0 15px,#503cff 0 16px,#986cff 0 17px,#ff1810 0 18px,#ff543c 0 19px,#ff6040 0 20px,#ff0800 0 21px,#ff1c0c 0 22px,#a478ff 0 23px,#e46874 0 24px,#ac64d0 0 25px,#9064ff 0 26px,#c06890 0 27px,#00f 0 28px,#c04c74 0 29px,#4420ff 0 30px,#d06c88 0 31px,#bc68b0 0 32px,#7c4cff 0 33px,#c05c84 0 34px,#b01c80 0 35px,#ec2440 0 36px,#c878c4 0 37px,#ff4024 0 38px,#ff4428 0 39px,#a450c8 0 40px,#c864a0 0 41px,#cc5070 0 42px,#5430ff 0 43px,#784cff 0 44px,#8050ff 0 45px,#e82040 0 46px,#f00 0 47px,#c00040 0 48px,#6844dc 0 49px,#985cdc 0 50px,#a060d8 0 51px,#ff0400 0 52px,#ff2814 0 53px,#ff6844 0 55px,#ff7050 0 56px,#ff8c6c 0 57px,#ff5840 0 58px,#6038dc 0 59px,#7c4cff 0 60px,#ff5434 0 61px,#ff6040 0 62px,#ff2810 0 63px,#ff583c 0 64px,#e45868 0 65px,#e43448 0 66px,#ac84ff 0 67px,#b050c0 0 68px,#f00 0 69px,#ec5c64 0 70px,#ff4024 0 71px,#d874a0 0 72px,#b03890 0 73px,#f00 0 74px,#ff8464 0 75px,#ff3c20 0 76px,#ac3890 0 77px,#ac3898 0 78px,#ff7c5c 0 79px,#e46874 0 80px,#c86cac 0 81px,#c02c80 0 82px,#ff5c40 0 83px,#ff4428 0 84px,#cc5890 0 85px,#986cff 0 86px,#6840ff 0 87px,#ec2040 0 88px,#ac84ff 0 89px,#7c50ff 0 90px,#8c60ff 0 91px,#dc2c4c 0 92px,#943cc0 0 93px,#e82040 0 94px,#f00 0 95px,#ff3424 0 96px,#ff301c 0 97px,#ff5c44 0 98px,#ff8868 0 99px,#ff9070 0 100px,#b058ac 0 101px,#ff8060 0 102px,#a040a0 0 103px,#6c20c4 0 104px,#3c20ff 0 105px,#ff241c 0 106px,#c474b8 0 107px,#a464d8 0 108px,#581cc8 0 109px,#c85c80 0 110px,#c868a4 0 111px,#ff603c 0 112px,#784cff 0 114px,#ff987c 0 115px,#ff381c 0 116px,#ff4428 0 117px,#8c2c94 0 118px,#3018ff 0 119px,#b8388c 0 120px,#dc5468 0 121px,#9848c8 0 122px,#ff583c 0 123px,#ff8c6c 0 124px,#ff7050 0 125px,#6038ff 0 126px,#4c28ff 0 127px,#6c48ff 0 128px,#b084ff 0 129px,#6840ff 0 130px,#d40c40 0 131px,#d45478 0 132px,#ff8c6c 0 133px,#ff6444 0 134px,#dc809c 0 135px,#b84490 0 136px,#dc1440 0 137px,#401cd4 0 138px,#800080 0 139px,#ff6c54 0 140px,#b868b8 0 141px,#784cff 0 142px,#00f 0 144px,#804cbc 0 145px,#c47cbc 0 146px,#7c54ff 0 147px,#ff3c20 0 148px,#e4808c 0 149px,#ff886c 0 150px,#1c0cff 0 151px,#c02860 0 152px,#ff9c7c 0 153px,#ff381c 0 154px,#ff0c08 0 155px,#ff8868 0 156px,#9064ff 0 157px,#a87cff 0 158px,#8058ff 0 159px,#7c40d4 0 160px,#ff7454 0 161px,#ffa084 0 162px,#c484d8 0 163px,#ff6444 0 164px,#b454a8 0 165px,#8c2490 0 166px,#8c3ca8 0 167px,#ff704c 0 168px,#ff4428 0 169px,#ff6040 0 170px,#ff1c14 0 171px,#ff1008 0 172px,#c8345c 0 173px,#1c08ff 0 174px,#9048cc 0 175px,#ff5c3c 0 176px,#ff5034 0 177px,#e85864 0 178px,#ff7c5c 0 179px,#4820d8 0 180px,#1408ff 0 181px,#a850a8 0 182px,#ff5c3c 0 183px,#ff7858 0 184px,#ff9474 0 185px,#ff8868 0 186px,#ff9478 0 187px,#b470c0 0 188px,#6038ff 0 189px,#d87c98 0 190px,#c054a0 0 191px,#8c60ff 0 192px,#b088ff 0 193px,#502cff 0 194px,#5414c4 0 195px,#8440b0 0 196px,#1408ff 0 197px,#5430ff 0 198px,#e86c74 0 199px,#986cff 0 200px,#8458ff 0 201px,#e03450 0 202px,#e45464 0 203px,#b070d4 0 204px,#b08cff 0 205px,#ff7454 0 206px,#ff3c20 0 207px,#ff9070 0 208px,#ff5838 0 209px,#bc60a8 0 210px,#00f 0 211px,#5030ff 0 212px,#f00 0 213px,#7850ff 0 214px,#9450cc 0 215px,#ff4428 0 216px,#a448c0 0 217px,#c42c80 0 218px,#b43888 0 219px,#502cff 0 220px,#a4288c 0 221px,#ff5838 0 222px,#8050ff 0 223px,#4028ff 0 224px,#2014ff 0 225px,#8054ff 0 226px,#885cff 0 227px,#8458ff 0 228px,#c83c84 0 229px,#a074ff 0 230px,#c06cc8 0 231px,#bc5ca4 0 232px,#b054a4 0 233px,#ff7858 0 234px,#ff5838 0 235px,#e86c78 0 236px,#784cff 0 237px,#9c44a8 0 238px,#d86c84 0 239px,#4020ff 0 240px,#5030ff 0 241px,#c068ac 0 242px,#cc5474 0 243px,#ff5434 0 244px,#ff482c 0 245px,#ff5c3c 0 246px,#ff7c5c 0 247px,#140cff 0 248px,#2c18ff 0 249px,#7c50ff 0 250px,#6840ff 0 251px,#8034c8 0 252px,#f00 0 253px,#ff5c48 0 254px,#ff7458 0 255px,#a03cc0 0 256px,#ff7050 0 257px,#ac58ac 0 258px,#9050d8 0 259px,#d86078 0 260px,#ff6848 0 261px,#ff6c4c 0 262px,#e88088 0 263px,#9c70ff 0 264px,#dc788c 0 265px,#ff4434 0 266px,#ff3420 0 267px,#bc4494 0 268px,#ff4c2c 0 269px,#6c28cc 0 270px,#a044a4 0 271px,#ff5840 0 272px,#f00 0 273px,#ff5030 0 274px,#ff8060 0 275px,#ff6848 0 276px,#ac4098 0 277px,#ac60b4 0 278px,#ff7050 0 279px,#d04868 0 280px,#c884c0 0 281px,#c088e0 0 282px,#a87cff 0 283px,#8458ff 0 284px,#9064ff 0 285px,#e4606c 0 286px,#ac50a8 0 287px,#8c44b0 0 288px,#7038d4 0 289px,#ff5434 0 290px,#ff5034 0 291px,#c0345c 0 292px,#5844ff 0 293px,#381cff 0 294px,#f00 0 295px,#ff5438 0 296px,#ff5034 0 297px,#cc64a0 0 298px,#ff8464 0 299px,#dc7084 0 300px,#ff2c14 0 301px,#ff0c04 0 302px,#9434c0 0 303px,#7044ff 0 304px,#a064dc 0 305px,#ff2810 0 306px,#802cc4 0 307px,#a850a8 0 308px,#d088bc 0 309px,#ff6c50 0 310px,#c478c8 0 311px,#b088ff 0 312px,#9c70ff 0 313px,#5c38ff 0 314px,#9c50cc 0 315px,#ff6440 0 316px,#ff7858 0 317px,#8c5cff 0 318px,#c47cc0 0 319px,#ff684c 0 320px,#ff6040 0 321px,#ff6444 0 322px,#8844d0 0 323px,#dc6478 0 324px,#4828ff 0 325px,#1c10ff 0 326px,#582cd4 0 327px,#ff7858 0 328px,#ac84ff 0 329px,#ec787c 0 330px,#ff8464 0 331px,#ff9474 0 332px,#e88890 0 333px,#a880ff 0 334px,#ec888c 0 335px,#ff7c5c 0 336px,#d86078 0 337px,#9048d0 0 338px,#ff6444 0 339px,#8c60ff 0 340px,#9844c4 0 341px,#ff5034 0 342px,#b460b0 0 343px,#ff1404 0 344px,#e45060 0 345px,#ff9474 0 346px,#cc68a4 0 347px,#e02c48 0 348px,#784cff 0 349px,#9450d0 0 350px,#a460d4 0 351px,#b83c94 0 352px,#a040c0 0 353px,#c04c94 0 354px,#a078ff 0 355px,#d87ca8 0 356px,#ff7050 0 357px,#d86478 0 358px,#b458a8 0 359px,#ff6844 0 360px,#ff6048 0 361px,#b05cb0 0 362px,#f00 0 363px,#c054a0 0 364px,#ff8c6c 0 365px,#ff5c3c 0 366px,#ff8c6c 0 367px,#ff6844 0 368px,#ff6848 0 369px,#d05474 0 370px,#ff5c38 0 371px,#3c20ff 0 372px,#ff7c5c 0 373px,#ff886c 0 374px,#7044ff 0 375px,#d078ac 0 376px,#c48cdc 0 377px,#ff7c5c 0 378px,#d85c74 0 379px,#a054cc 0 380px,#ff442c 0 381px,#800c84 0 382px,#c06084 0 383px,#c0547c 0 384px,#401cd4 0 385px,#ff5838 0 386px,#ff7454 0 387px,#ff5c40 0 388px,#ff482c 0 389px,#ff704c 0 390px,#c0547c 0 391px,#f00 0 392px,#4000c0 0 393px,#c06c94 0 394px,#7c44dc 0 395px,#ff9074 0 396px,#ff987c 0 397px,#503cff 0 398px,#6c38d8 0 399px,#ff7c5c 0 400px,#7428c4 0 401px,#e44050 0 402px,#986cff 0 403px,#ff8c6c 0 404px,#ff7454 0 405px,#8038a8 0 406px,#801c94 0 407px,#ff2418 0 408px,#ff5030 0 409px,#4c28ff 0 410px,#ff6044 0 411px,#ff9478 0 412px,#c878b8 0 413px,#ff6444 0 414px,#ff5434 0 415px,#ff4c30 0 416px,#6020c8 0 417px,#b458a8 0 418px,#b42080 0 419px,#4c2cff 0 420px,#784cff 0 421px,#dc88a0 0 422px,#9c74ff 0 423px,#b08cff 0 424px,#a4409c 0 425px,#6840ff 0 426px,#5434ff 0 427px,#0c04ff 0 428px,#d44080 0 429px,#ff6048 0 430px,#cc7094 0 431px,#ff9474 0 432px,#ff745c 0 433px,#ff3018 0 434px,#c074c8 0 435px,#ec6c74 0 436px,#ff6848 0 437px,#ff5438 0 438px,#ff6c4c 0 439px,#a83c98 0 440px,#ff2814 0 441px,#ff6040 0 442px,#bc7cd4 0 443px,#ff1c14 0 444px,#d44080 0 445px,#986cff 0 446px,#7048ff 0 447px,#7c50ff 0 448px,#9044c8 0 449px,#a86cd8 0 450px,#e83c58 0 451px,#ff140c 0 452px,#ff6444 0 453px,#ff9c80 0 454px,#c44c90 0 455px,#4424ff 0 456px,#4828ff 0 457px,#d03c5c 0 458px,#ff2410 0 459px,#bc4894 0 460px,#2014ff 0 461px,#ff9074 0 462px,#ff9070 0 463px,#e46874 0 464px,#a074ff 0 465px,#9468ff 0 466px,#ff381c 0 467px,#ff0c08 0 468px,#ff4434 0 469px,#ff7454 0 470px,#bc68b0 0 471px,#e07c8c 0 472px,#e04458 0 473px,#c04890 0 474px,#a058d4 0 475px,#ff7050 0 476px,#1808ff 0 477px,#c00040 0 478px,#e0506c 0 479px,#d86880 0 480px,#b01c80 0 481px,#d40840 0 482px,#4c28ff 0 483px,#5834ff 0 484px,#8c40c8 0 485px,#bc70c8 0 486px,#d44080 0 487px,#ff4838 0 488px,#ff8c6c 0 489px,#9848ac 0 490px,#8c64ff 0 491px,#d488b8 0 492px,#ff442c 0 493px,#ff6048 0 494px,#ff9474 0 495px,#ff8868 0 496px,#7c38cc 0 497px,#ac84ff 0 498px,#4024dc 0 499px,#ff7050 0 500px,#cc5070 0 501px,#981c88 0 502px,#a448c4 0 503px,#e06c80 0 504px,#c468a8 0 505px,#986cff 0 506px,#a880ff 0 507px,#ec2040 0 508px,#f00 0 510px,#c060c0 0 511px,#d4748c 0 512px,#ac50a4 0 513px,#ff6c4c 0 514px,#0c04ff 0 515px,#00f 0 516px,#4c2cff 0 517px,#ac1c80 0 518px,#c83c60 0 519px,#ff4c2c 0 520px,#ff5838 0 521px,#683cff 0 522px,#9858b8 0 523px,#e44858 0 524px,#b050c0 0 525px,#9c64dc 0 526px,#4020ff 0 527px,#d41c48 0 528px,#f00 0 529px,#c83080 0 530px,#704cff 0 531px,#4014cc 0 532px,#c03860 0 533px,#00f 0 534px,#784cff 0 535px,#c43860 0 536px,#1408ff 0 537px,#f00 0 538px,#c43480 0 539px,#cc5c94 0)}
#c1{left:614.15px;width:41.85px;background:linear-gradient(#9468ff 0 1px,#885cff 0 3px,#8054ff 0 4px,#683cff 0 5px,#d49cd8 0 6px,#885cff 0 7px,#dc6078 0 8px,#cc6ca4 0 9px,#e4808c 0 10px,#b45cac 0 11px,#ffc4b0 0 12px,#8458ff 0 13px,#d8647c 0 14px,#8c4cd8 0 15px,#ff6c4c 0 16px,#ff603c 0 17px,#885cff 0 18px,#9464ff 0 19px,#bc64ac 0 20px,#b490ff 0 21px,#8058ff 0 22px,#ff8464 0 23px,#a468dc 0 24px,#e08498 0 25px,#ff8060 0 26px,#a060dc 0 27px,#ff8868 0 28px,#9c58d4 0 29px,#885cff 0 30px,#7c50ff 0 31px,#bc60ac 0 32px,#ff8060 0 33px,#ff7450 0 34px,#c470b4 0 35px,#8054ff 0 36px,#784cff 0 37px,#7c50ff 0 38px,#6c44ff 0 39px,#8054ff 0 40px,#8c64ff 0 41px,#9048d0 0 42px,#ff8060 0 43px,#e088a0 0 44px,#ff6c4c 0 45px,#9c58d4 0 46px,#885cff 0 47px,#b07ce8 0 48px,#d888a4 0 49px,#d8708c 0 50px,#ff8868 0 51px,#8454ff 0 52px,#8c60ff 0 53px,#9064ff 0 54px,#683cff 0 55px,#8458ff 0 56px,#9464ff 0 57px,#9468ff 0 58px,#c06cac 0 59px,#784cff 0 60px,#ff6444 0 61px,#944cd0 0 62px,#7c50ff 0 63px,#9468ff 0 64px,#b074dc 0 65px,#a46ce4 0 66px,#ff9c80 0 67px,#dc7084 0 68px,#7448ff 0 69px,#985cdc 0 70px,#7044ff 0 71px,#b47cd0 0 72px,#d490bc 0 73px,#d4b4ff 0 74px,#986cff 0 75px,#c078bc 0 76px,#ff9474 0 77px,#e07c90 0 78px,#ff8868 0 79px,#b878d8 0 80px,#ff7858 0 81px,#cc74ac 0 82px,#9064ff 0 83px,#9464ff 0 84px,#c078bc 0 85px,#ff7c5c 0 87px,#a478ff 0 88px,#c4a0ff 0 89px,#ff6c48 0 90px,#ff7454 0 91px,#b474d8 0 92px,#a060d8 0 93px,#8c60ff 0 94px,#9c70ff 0 95px,#8458ff 0 96px,#784cff 0 97px,#bc5ca0 0 98px,#9468ff 0 99px,#8458ff 0 100px,#cc6ca8 0 101px,#885cff 0 102px,#c078c0 0 103px,#7c50ff 0 104px,#ff805c 0 105px,#784cff 0 106px,#c47cbc 0 107px,#dc8098 0 108px,#dc5c74 0 109px,#d898d0 0 110px,#d87ca8 0 111px,#9468ff 0 112px,#ff6c48 0 113px,#ff7050 0 114px,#7c4cff 0 115px,#c4a4ff 0 116px,#a074ff 0 117px,#c864a0 0 118px,#ff7c60 0 119px,#c898dc 0 120px,#b870d0 0 121px,#e4acc4 0 122px,#9064ff 0 124px,#8050ff 0 125px,#ff7c58 0 127px,#e48898 0 128px,#c0a0ff 0 129px,#ff8464 0 130px,#8058ff 0 131px,#b47cdc 0 132px,#9c70ff 0 133px,#9064ff 0 134px,#8848d4 0 135px,#c470b0 0 136px,#b870d0 0 137px,#e46c78 0 138px,#cc6ca4 0 139px,#9468ff 0 140px,#c864a0 0 141px,#ff7858 0 142px,#ff8864 0 143px,#ff6c4c 0 144px,#c864a0 0 145px,#c87cb8 0 146px,#ff9070 0 147px,#8054ff 0 148px,#a860d0 0 149px,#8454ff 0 150px,#e8a4bc 0 151px,#985cdc 0 152px,#8054ff 0 153px,#9c70ff 0 154px,#a074ff 0 155px,#8458ff 0 156px,#ff9474 0 157px,#ff7454 0 158px,#ff9074 0 159px,#d898b8 0 160px,#683cff 0 161px,#ff7858 0 162px,#dc687c 0 163px,#8c5cff 0 164px,#e47888 0 165px,#c088d0 0 166px,#784cff 0 167px,#9458dc 0 168px,#9468ff 0 169px,#e46878 0 170px,#a860d0 0 171px,#8858ff 0 172px,#8458ff 0 173px,#683cff 0 174px,#f49890 0 175px,#d0b0ff 0 176px,#b490ff 0 177px,#b474d8 0 178px,#784cff 0 179px,#dc7488 0 180px,#ff7858 0 181px,#c470b0 0 182px,#9064ff 0 183px,#986cff 0 184px,#6c40ff 0 185px,#784cff 0 187px,#bc5ca4 0 188px,#ff7c5c 0 189px,#d094d4 0 190px,#8058ff 0 191px,#7448ff 0 192px,#986cff 0 193px,#ff6848 0 194px,#e48490 0 195px,#c474b4 0 196px,#e48090 0 197px,#ff7050 0 198px,#b478dc 0 199px,#ff8c6c 0 200px,#ff8060 0 201px,#944cd0 0 202px,#8c48d0 0 203px,#d474a4 0 204px,#c4a4ff 0 205px,#a87cff 0 206px,#c09cff 0 207px,#7448ff 0 208px,#885cff 0 209px,#c464a8 0 210px,#ff9074 0 211px,#9458dc 0 212px,#784cff 0 213px,#ff6444 0 214px,#cc6ca4 0 215px,#b08cff 0 216px,#e06878 0 217px,#c464a4 0 218px,#b87cdc 0 219px,#f4a4a0 0 220px,#b860ac 0 221px,#7044ff 0 222px,#ff7050 0 223px,#ffac90 0 224px,#ffa084 0 225px,#ff7454 0 226px,#f08480 0 227px,#ff8464 0 228px,#c474b8 0 229px,#ff886c 0 230px,#e06070 0 231px,#b46cbc 0 232px,#b45cac 0 233px,#8458ff 0 234px,#bc70b8 0 235px,#e07c8c 0 236px,#8458ff 0 237px,#9854d4 0 238px,#ac7cec 0 239px,#ffa488 0 240px,#ff8c70 0 241px,#cc88c0 0 242px,#e87c88 0 243px,#b864b0 0 244px,#6c44ff 0 245px,#7448ff 0 246px,#885cff 0 247px,#ff6444 0 248px,#ff8c70 0 249px,#ff7050 0 250px,#ff9074 0 251px,#e47884 0 252px,#6c44ff 0 253px,#8054ff 0 254px,#9064ff 0 255px,#e87078 0 256px,#9064ff 0 257px,#bc74bc 0 258px,#d87c94 0 259px,#9054dc 0 260px,#8458ff 0 261px,#a074ff 0 262px,#b87cdc 0 263px,#ff8868 0 264px,#9454d8 0 265px,#6c44ff 0 266px,#885cff 0 267px,#c494dc 0 268px,#9468ff 0 269px,#7448ff 0 270px,#7c50ff 0 271px,#8458ff 0 273px,#9064ff 0 274px,#7048ff 0 275px,#8458ff 0 276px,#cc78b0 0 277px,#c46cb0 0 278px,#8858ff 0 279px,#a464d4 0 280px,#bc68b0 0 281px,#ff8c6c 0 282px,#ff6844 0 283px,#ff704c 0 284px,#ff9474 0 285px,#a86cdc 0 286px,#c87cb4 0 287px,#d078b0 0 288px,#e47884 0 289px,#ff8060 0 290px,#8c60ff 0 291px,#a468e0 0 292px,#ff987c 0 293px,#ff9474 0 294px,#8050ff 0 295px,#b894ff 0 296px,#e4a0bc 0 297px,#c05ca0 0 298px,#9c74ff 0 299px,#d4a4e0 0 300px,#9064ff 0 301px,#6c44ff 0 302px,#d86c84 0 303px,#ff805c 0 304px,#ff7c5c 0 305px,#9060ff 0 306px,#e46878 0 307px,#b858a4 0 308px,#d080b8 0 309px,#d068a0 0 310px,#ff7c5c 0 311px,#ffa890 0 312px,#ff9478 0 313px,#ff7454 0 314px,#c05c9c 0 315px,#8458ff 0 316px,#744cff 0 317px,#9c6cec 0 318px,#bc5ca4 0 319px,#dc6c80 0 320px,#7044ff 0 321px,#885cff 0 322px,#e08090 0 323px,#9050d8 0 324px,#ff6c4c 0 325px,#ff6440 0 326px,#e06c80 0 327px,#8458ff 0 328px,#ff8060 0 329px,#9858d8 0 330px,#8054ff 0 331px,#9468ff 0 332px,#ac64d0 0 333px,#dc546c 0 334px,#7448ff 0 335px,#8c5cff 0 336px,#a064dc 0 337px,#e48898 0 338px,#9060ff 0 339px,#ff6444 0 340px,#ff8868 0 341px,#b464b4 0 342px,#cc7cb0 0 343px,#6c44ff 0 344px,#c890dc 0 345px,#8050ff 0 346px,#cc6ca4 0 347px,#9c60e0 0 348px,#ff9070 0 349px,#e06878 0 350px,#ff7050 0 351px,#dc6078 0 352px,#dc88a0 0 353px,#bc74c0 0 354px,#ffac98 0 355px,#b484d8 0 356px,#7448ff 0 357px,#8054ff 0 358px,#8458ff 0 359px,#7448ff 0 360px,#885cff 0 361px,#c880c0 0 362px,#7448ff 0 363px,#a45cd4 0 364px,#9064ff 0 365px,#7c50ff 0 366px,#9c74ff 0 367px,#ff7c5c 0 368px,#9454d8 0 369px,#9c5cd8 0 370px,#8c60ff 0 371px,#dc7488 0 372px,#9468ff 0 373px,#744cff 0 374px,#ff7c5c 0 375px,#b884d8 0 376px,#ff6848 0 377px,#c46cac 0 378px,#9064ff 0 379px,#e490a0 0 380px,#986cff 0 381px,#c070b4 0 382px,#a060dc 0 383px,#a864d4 0 384px,#ff8868 0 385px,#d4a4e8 0 386px,#e08ca8 0 387px,#cc70a8 0 388px,#885cff 0 389px,#8054ff 0 390px,#a460d8 0 391px,#8458ff 0 392px,#e0788c 0 393px,#9c5cd8 0 394px,#e07484 0 395px,#8054ff 0 396px,#683cff 0 397px,#dc8ca8 0 398px,#9060e8 0 399px,#6c40ff 0 400px,#e48494 0 401px,#b468d0 0 402px,#ff6040 0 403px,#d4b8ff 0 404px,#a880ff 0 405px,#cc7cb8 0 406px,#cc84bc 0 407px,#8c60ff 0 408px,#885cff 0 409px,#ff8c6c 0 410px,#c4a4ff 0 411px,#b48cff 0 412px,#b08cff 0 413px,#885cff 0 414px,#784cff 0 415px,#7044ff 0 416px,#dc7890 0 417px,#b864b0 0 418px,#cc7cb8 0 419px,#ff8868 0 420px,#ff9c7c 0 421px,#985ce0 0 422px,#ff6844 0 423px,#ff7c58 0 424px,#bc60ac 0 425px,#ff8868 0 426px,#ff9478 0 427px,#ff8464 0 428px,#c868a4 0 429px,#784cff 0 431px,#a45cd0 0 432px,#885cff 0 433px,#bc98ff 0 434px,#e06070 0 435px,#944cd0 0 436px,#a86cdc 0 437px,#a870dc 0 438px,#9060ff 0 439px,#c064a4 0 440px,#8054ff 0 441px,#9c70ff 0 442px,#7c50ff 0 443px,#8458ff 0 444px,#c474b4 0 445px,#ff7c5c 0 446px,#ff6440 0 447px,#ff7c5c 0 448px,#d86880 0 449px,#e0788c 0 450px,#985cdc 0 451px,#8054ff 0 452px,#9064ff 0 453px,#6038ff 0 454px,#b864b4 0 455px,#ff6c4c 0 456px,#8c5cff 0 457px,#9064ff 0 458px,#e48c9c 0 459px,#e4889c 0 460px,#ff9878 0 461px,#986cff 0 462px,#8054ff 0 463px,#b068d0 0 464px,#ff7858 0 465px,#ff7450 0 466px,#7448ff 0 467px,#8c60ff 0 468px,#9064ff 0 469px,#a074ff 0 470px,#8458ff 0 471px,#9468ff 0 473px,#cc80bc 0 474px,#e48898 0 475px,#986cff 0 476px,#ac64d0 0 477px,#a85cd0 0 478px,#9858d8 0 479px,#8c48d0 0 480px,#cc6ca4 0 481px,#8c60ff 0 482px,#6c40ff 0 483px,#ff6040 0 484px,#ff6848 0 485px,#ff7858 0 486px,#cc70a8 0 487px,#885cff 0 488px,#8054ff 0 489px,#cc74ac 0 490px,#ff8868 0 491px,#b86cb8 0 492px,#6840ff 0 493px,#784cff 0 494px,#9064ff 0 495px,#8054ff 0 496px,#e46c78 0 497px,#ff7858 0 498px,#d85870 0 499px,#7c50ff 0 500px,#8c50dc 0 501px,#e49cb8 0 502px,#f0908c 0 503px,#a060d8 0 504px,#c070b4 0 505px,#c470b4 0 506px,#8454ff 0 507px,#8050ff 0 508px,#a078ff 0 510px,#e0accc 0 511px,#ff8c70 0 512px,#d88cb8 0 513px,#986cff 0 514px,#ff7c5c 0 515px,#ff6848 0 516px,#ff7854 0 517px,#c868a4 0 518px,#944cd0 0 519px,#9c70ff 0 520px,#6c40ff 0 521px,#ff9478 0 522px,#bc60ac 0 523px,#b06cd4 0 524px,#e07080 0 525px,#e0687c 0 526px,#c05ca0 0 527px,#a860d0 0 528px,#9468ff 0 529px,#7c50ff 0 530px,#9448d0 0 531px,#e4606c 0 532px,#b484ec 0 533px,#ffc4b0 0 534px,#ff7450 0 535px,#a864d8 0 536px,#ff7c5c 0 537px,#6c44ff 0 538px,#cc7cb0 0 539px,#ff7858 0)}
#c2{left:655.70px;width:41.85px;background:linear-gradient(#ff1408 0 1px,#ff644c 0 2px,#683cff 0 3px,#e06878 0 4px,#ff8868 0 5px,#dc6478 0 6px,#ff6040 0 7px,#803cd0 0 8px,#8058ff 0 9px,#b088ff 0 10px,#cc74ac 0 11px,#a074ff 0 12px,#ff6c4c 0 13px,#c080d8 0 14px,#ec848c 0 15px,#8c64ff 0 16px,#b450a0 0 17px,#ff7c60 0 18px,#ff301c 0 19px,#e090b0 0 20px,#ff4024 0 21px,#ff6040 0 22px,#2410ff 0 23px,#e45464 0 24px,#e894a8 0 25px,#b08cff 0 26px,#dc5870 0 27px,#8c6cff 0 28px,#fc7864 0 29px,#ff4c30 0 30px,#ff4828 0 31px,#c85c94 0 32px,#d0b4ff 0 33px,#885cff 0 34px,#ac68c4 0 35px,#ff886c 0 36px,#ff5438 0 37px,#ff7458 0 38px,#dc749c 0 39px,#ec9498 0 40px,#ffb098 0 41px,#e8b8d0 0 42px,#d090c4 0 43px,#ff9c80 0 44px,#8054ff 0 45px,#ff9c80 0 46px,#ff6850 0 47px,#ff5038 0 48px,#e8a4b4 0 49px,#cca0ec 0 50px,#9064ff 0 51px,#e86068 0 52px,#bc64c0 0 53px,#ff3824 0 54px,#ff9478 0 55px,#ffb098 0 56px,#ff7c5c 0 57px,#ff9c80 0 58px,#c85494 0 59px,#ff3c20 0 60px,#9468ff 0 61px,#e46874 0 62px,#ff9c80 0 63px,#ff5c40 0 64px,#cc4064 0 65px,#ff6040 0 66px,#7448ff 0 67px,#8c40c4 0 68px,#ff3018 0 69px,#d4607c 0 70px,#ff8464 0 71px,#c84888 0 72px,#e07ca0 0 73px,#ff200c 0 74px,#e07498 0 75px,#a85cb8 0 76px,#744cff 0 77px,#a458cc 0 78px,#502cff 0 79px,#dc5468 0 80px,#885cff 0 81px,#c074b8 0 82px,#ffa890 0 83px,#ff9070 0 84px,#dc8cb4 0 85px,#402cff 0 86px,#4c2cff 0 87px,#ff2010 0 88px,#f00 0 89px,#ac84ff 0 90px,#c09cff 0 91px,#9c68e0 0 92px,#e88c9c 0 93px,#ff4028 0 94px,#ff6c4c 0 95px,#ff6848 0 96px,#ff5c3c 0 97px,#b050a0 0 98px,#ff3c20 0 99px,#ff482c 0 100px,#d898c4 0 101px,#ffa080 0 102px,#bc68b0 0 103px,#ff5434 0 104px,#b894ff 0 105px,#d83050 0 106px,#8058ff 0 107px,#bc78d4 0 108px,#a478ff 0 109px,#e86c74 0 110px,#c8609c 0 111px,#ff5030 0 112px,#b894ff 0 113px,#986cff 0 114px,#ffd8c8 0 115px,#ff341c 0 116px,#ff6c4c 0 117px,#b05cac 0 118px,#7448ff 0 119px,#b870d0 0 120px,#8054ff 0 121px,#bc70cc 0 122px,#ff7458 0 123px,#e0bcdc 0 124px,#8458ff 0 125px,#9458d8 0 126px,#6440ff 0 127px,#c874c4 0 128px,#ff8464 0 129px,#ac84ff 0 130px,#ff9878 0 131px,#ff745c 0 132px,#ff805c 0 133px,#ac70dc 0 134px,#c8749c 0 135px,#8c40b0 0 136px,#ec3c4c 0 137px,#8848d8 0 138px,#b04094 0 139px,#ff7c5c 0 140px,#e8a0b4 0 141px,#a47cff 0 142px,#a074ff 0 143px,#5434ff 0 144px,#a858b4 0 145px,#ff9478 0 146px,#f0a0a8 0 147px,#ff8868 0 148px,#e05868 0 149px,#c45898 0 150px,#dc5c88 0 151px,#ec6870 0 152px,#ff9474 0 153px,#ff6844 0 154px,#ff3c24 0 155px,#ff2814 0 156px,#e4b0cc 0 157px,#b088ff 0 158px,#c870ac 0 159px,#ff7c58 0 160px,#ff7450 0 161px,#986cff 0 162px,#c88cd8 0 163px,#ff442c 0 164px,#ec9498 0 165px,#d84c80 0 166px,#c03480 0 167px,#9064ff 0 168px,#ff8064 0 169px,#5430e0 0 170px,#c85478 0 171px,#ff7454 0 172px,#ff7858 0 173px,#ff8c6c 0 174px,#8054ff 0 175px,#e45c68 0 176px,#ff5838 0 177px,#f08888 0 178px,#986cff 0 179px,#9c70ff 0 180px,#b08cff 0 181px,#dc8cb4 0 182px,#ff6848 0 183px,#ff381c 0 184px,#ff6850 0 185px,#ff482c 0 186px,#ff8868 0 187px,#b064bc 0 188px,#9064ff 0 189px,#885cff 0 190px,#e05468 0 191px,#ff4c30 0 192px,#ff7c58 0 193px,#3c20ff 0 194px,#9874ff 0 195px,#8448b4 0 196px,#482ce0 0 197px,#b088ff 0 198px,#f49890 0 199px,#7858ff 0 200px,#7044ff 0 201px,#d45470 0 202px,#e0889c 0 203px,#c060a8 0 204px,#ff3c20 0 205px,#ff5440 0 206px,#ffccb8 0 207px,#ff4024 0 208px,#ff7c58 0 209px,#d470a0 0 210px,#a074ff 0 211px,#e87c88 0 212px,#ff8868 0 213px,#8870ff 0 214px,#f0a8b0 0 215px,#ff8c6c 0 216px,#e0acd4 0 217px,#ec8498 0 218px,#d8546c 0 219px,#d494d0 0 220px,#d46090 0 221px,#ff1808 0 222px,#7448ff 0 223px,#a080ff 0 224px,#a084ff 0 225px,#bc98ff 0 226px,#5c2cd8 0 227px,#6c44ff 0 228px,#bc5098 0 229px,#7048ff 0 230px,#4428ff 0 231px,#a43494 0 232px,#ff8064 0 233px,#ff2810 0 234px,#d86494 0 235px,#d878a8 0 236px,#ff9478 0 237px,#ec8084 0 238px,#ff9074 0 239px,#e4b0d0 0 240px,#785cff 0 241px,#6444ff 0 242px,#a47cff 0 243px,#ac84ff 0 244px,#e05080 0 245px,#ff2820 0 246px,#ff987c 0 247px,#3c20ff 0 248px,#c8749c 0 249px,#d4bcff 0 250px,#3018ff 0 251px,#4024ff 0 252px,#ff6444 0 253px,#ff5438 0 254px,#ff7c58 0 255px,#d88cc8 0 256px,#ff7450 0 257px,#8048d4 0 258px,#b894ff 0 259px,#ec4850 0 260px,#ff583c 0 261px,#ff8868 0 262px,#ec98a0 0 263px,#a47cff 0 264px,#e08ca0 0 265px,#ff8064 0 266px,#ac64d0 0 267px,#e48ca0 0 268px,#ff9478 0 269px,#ff9474 0 270px,#ff6044 0 271px,#dc546c 0 272px,#ff7c58 0 273px,#ff6c4c 0 274px,#ff5438 0 275px,#ff6c50 0 276px,#cc80bc 0 277px,#9468ff 0 278px,#c874b0 0 279px,#f4908c 0 280px,#e088a4 0 281px,#c09cff 0 282px,#542cff 0 283px,#a884ff 0 284px,#9468ff 0 285px,#9c70ff 0 286px,#c890d8 0 287px,#e89cb4 0 288px,#c46cc0 0 289px,#9068ff 0 290px,#a83494 0 291px,#dc687c 0 292px,#946cff 0 293px,#c09cff 0 294px,#ff9478 0 295px,#ff6c4c 0 296px,#b854a0 0 297px,#b44ca0 0 298px,#ff6048 0 299px,#dc8ca8 0 300px,#ff8060 0 301px,#ff9c80 0 302px,#d0a0e4 0 303px,#b490ff 0 304px,#9068ff 0 305px,#ffa084 0 306px,#a068e0 0 307px,#c060a4 0 308px,#d46c9c 0 309px,#c0549c 0 310px,#9064ff 0 311px,#a47cff 0 312px,#2c24ff 0 313px,#7c58ff 0 314px,#d87ca8 0 315px,#ff8060 0 316px,#ffa080 0 317px,#ff9074 0 318px,#bc78c4 0 319px,#b474d4 0 320px,#ff7c58 0 321px,#ff6c4c 0 322px,#ac68d0 0 323px,#e494a4 0 324px,#d8c8ff 0 325px,#dcc4ff 0 326px,#a864d0 0 327px,#ff6444 0 328px,#643cff 0 329px,#d84c68 0 330px,#ff2410 0 331px,#ff5c40 0 332px,#ec8084 0 333px,#c890e0 0 334px,#c87cb8 0 335px,#ff8868 0 336px,#e894a0 0 337px,#bc7cd8 0 338px,#ff8464 0 339px,#b084ff 0 340px,#b088ff 0 341px,#d488b8 0 342px,#b44ca0 0 343px,#ff381c 0 344px,#dc6078 0 345px,#ff8868 0 346px,#a04cac 0 347px,#dc1c44 0 348px,#784cff 0 349px,#8c4cd4 0 350px,#7850ff 0 351px,#a880ff 0 352px,#a074ff 0 353px,#d0588c 0 354px,#9068ff 0 355px,#bc3c88 0 356px,#ff8070 0 357px,#ffb8a8 0 358px,#ff6848 0 359px,#ff3020 0 360px,#ff6448 0 361px,#dc88ac 0 362px,#ff5434 0 363px,#e46878 0 364px,#ff4024 0 365px,#ff5030 0 366px,#ff9070 0 367px,#4c28ff 0 368px,#d44868 0 369px,#d4506c 0 370px,#ff7858 0 371px,#f4d0e0 0 372px,#b470d4 0 373px,#e45c68 0 374px,#603cff 0 375px,#ff8868 0 376px,#ec7074 0 377px,#d87098 0 378px,#ff7458 0 379px,#7c44dc 0 380px,#e48894 0 381px,#d084c8 0 382px,#d488b8 0 383px,#f45c5c 0 384px,#c0a0ff 0 385px,#e48c9c 0 386px,#e8a4bc 0 387px,#e890a8 0 388px,#ff6444 0 389px,#ac489c 0 390px,#8454e4 0 391px,#ff9070 0 392px,#b478dc 0 393px,#9464ff 0 394px,#a074ff 0 395px,#9054dc 0 396px,#ff8c6c 0 397px,#8448d8 0 398px,#d44060 0 399px,#ff7c5c 0 400px,#9c54d0 0 401px,#f47870 0 402px,#d0b0ff 0 403px,#ff3018 0 404px,#ff4428 0 405px,#d06098 0 406px,#a058b8 0 407px,#f09494 0 408px,#ff8460 0 409px,#a47cff 0 410px,#ff8060 0 411px,#ff4c30 0 412px,#ff6850 0 413px,#ff6444 0 414px,#ffac94 0 415px,#ff7464 0 416px,#c470c4 0 417px,#c44890 0 418px,#ac2c88 0 419px,#8860ff 0 420px,#6038ff 0 421px,#d8809c 0 422px,#b894ff 0 423px,#9c70ff 0 424px,#bc78c4 0 425px,#a880ff 0 426px,#7c5cff 0 427px,#e8d4ff 0 428px,#cc80bc 0 429px,#ec5460 0 430px,#c478c8 0 431px,#d46090 0 432px,#ff5438 0 433px,#cc70ac 0 434px,#ff6848 0 435px,#ff7858 0 436px,#f07c7c 0 437px,#f06c6c 0 438px,#ff6c4c 0 439px,#c874b0 0 440px,#ff8464 0 441px,#ff5838 0 442px,#ff9074 0 443px,#ff8464 0 444px,#c06cb0 0 445px,#8858ff 0 446px,#9064ff 0 447px,#bc98ff 0 448px,#d4a4e0 0 449px,#d098d8 0 450px,#f06064 0 451px,#ff6848 0 452px,#ff987c 0 454px,#e8a4bc 0 455px,#6c40ff 0 456px,#ff9070 0 457px,#ff6848 0 458px,#b468d0 0 459px,#8444d4 0 460px,#7c54ff 0 461px,#ff5838 0 462px,#ff4424 0 463px,#f46864 0 464px,#a07cff 0 465px,#8c60ff 0 466px,#ff2410 0 467px,#ff583c 0 468px,#ff7050 0 469px,#ff6c4c 0 470px,#ff7454 0 471px,#ff9478 0 472px,#ff583c 0 473px,#ff5030 0 474px,#ff5c3c 0 475px,#ff6440 0 476px,#f04048 0 477px,#f07470 0 478px,#bc78d0 0 479px,#a078ff 0 480px,#e04c80 0 481px,#ff2018 0 482px,#ff8464 0 483px,#9870ff 0 484px,#603cff 0 485px,#2410ff 0 486px,#984cb0 0 487px,#ff5c40 0 488px,#ff4c30 0 489px,#d888b4 0 490px,#3828ff 0 491px,#803cac 0 492px,#ffc8b4 0 493px,#ff9c88 0 494px,#ff5c3c 0 495px,#ff987c 0 496px,#ac54c4 0 497px,#ffac94 0 498px,#dc8cc0 0 499px,#ff7454 0 500px,#e45c68 0 501px,#c84888 0 502px,#cc78c4 0 503px,#ec2440 0 504px,#d44080 0 505px,#d478a8 0 506px,#ff5c3c 0 507px,#ff3c20 0 508px,#ff2c14 0 509px,#ff5c44 0 510px,#9c60e0 0 511px,#5834ff 0 512px,#c84c8c 0 513px,#ff3018 0 514px,#d4b8ff 0 515px,#7448ff 0 516px,#a078ff 0 517px,#b05cac 0 518px,#c87098 0 519px,#ff8060 0 520px,#ff8c6c 0 521px,#6c40ff 0 522px,#c870a8 0 523px,#e8787c 0 524px,#c088e4 0 525px,#ac70dc 0 526px,#e8a4bc 0 527px,#f4908c 0 528px,#ff9474 0 529px,#ff886c 0 530px,#f4908c 0 531px,#d8ace4 0 532px,#f4a8a8 0 533px,#ccacff 0 534px,#ffccb8 0 535px,#ec7070 0 536px,#b894ff 0 537px,#6c40ff 0 538px,#bc8ce0 0 539px,#c4a0ff 0)}
#c3{left:697.25px;width:41.85px;background:linear-gradient(#9468ff 0 1px,#885cff 0 3px,#8054ff 0 4px,#683cff 0 5px,#d49cd8 0 6px,#885cff 0 7px,#dc6078 0 8px,#cc6ca4 0 9px,#e4808c 0 10px,#b45cac 0 11px,#ffc4b0 0 12px,#8458ff 0 13px,#d8647c 0 14px,#8c4cd8 0 15px,#ff6c4c 0 16px,#ff603c 0 17px,#885cff 0 18px,#9464ff 0 19px,#bc64ac 0 20px,#b490ff 0 21px,#8058ff 0 22px,#ff8464 0 23px,#a468dc 0 24px,#e08498 0 25px,#ff8060 0 26px,#a060dc 0 27px,#ff8868 0 28px,#9c58d4 0 29px,#885cff 0 30px,#7c50ff 0 31px,#bc60ac 0 32px,#ff8060 0 33px,#ff7450 0 34px,#c470b4 0 35px,#8054ff 0 36px,#784cff 0 37px,#7c50ff 0 38px,#6c44ff 0 39px,#8054ff 0 40px,#8c64ff 0 41px,#9048d0 0 42px,#ff8060 0 43px,#e088a0 0 44px,#ff6c4c 0 45px,#9c58d4 0 46px,#885cff 0 47px,#b07ce8 0 48px,#d888a4 0 49px,#d8708c 0 50px,#ff8868 0 51px,#8454ff 0 52px,#8c60ff 0 53px,#9064ff 0 54px,#683cff 0 55px,#8458ff 0 56px,#9464ff 0 57px,#9468ff 0 58px,#c06cac 0 59px,#784cff 0 60px,#ff6444 0 61px,#944cd0 0 62px,#7c50ff 0 63px,#9468ff 0 64px,#b074dc 0 65px,#a46ce4 0 66px,#ff9c80 0 67px,#dc7084 0 68px,#7448ff 0 69px,#985cdc 0 70px,#7044ff 0 71px,#b47cd0 0 72px,#d490bc 0 73px,#d4b4ff 0 74px,#986cff 0 75px,#c078bc 0 76px,#ff9474 0 77px,#e07c90 0 78px,#ff8868 0 79px,#b878d8 0 80px,#ff7858 0 81px,#cc74ac 0 82px,#9064ff 0 83px,#9464ff 0 84px,#c078bc 0 85px,#ff7c5c 0 87px,#a478ff 0 88px,#c4a0ff 0 89px,#ff6c48 0 90px,#ff7454 0 91px,#b474d8 0 92px,#a060d8 0 93px,#8c60ff 0 94px,#9c70ff 0 95px,#8458ff 0 96px,#784cff 0 97px,#bc5ca0 0 98px,#9468ff 0 99px,#8458ff 0 100px,#cc6ca8 0 101px,#885cff 0 102px,#c078c0 0 103px,#7c50ff 0 104px,#ff805c 0 105px,#784cff 0 106px,#c47cbc 0 107px,#dc8098 0 108px,#dc5c74 0 109px,#d898d0 0 110px,#d87ca8 0 111px,#9468ff 0 112px,#ff6c48 0 113px,#ff7050 0 114px,#7c4cff 0 115px,#c4a4ff 0 116px,#a074ff 0 117px,#c864a0 0 118px,#ff7c60 0 119px,#c898dc 0 120px,#b870d0 0 121px,#e4acc4 0 122px,#9064ff 0 124px,#8050ff 0 125px,#ff7c58 0 127px,#e48898 0 128px,#c0a0ff 0 129px,#ff8464 0 130px,#8058ff 0 131px,#b47cdc 0 132px,#9c70ff 0 133px,#9064ff 0 134px,#8848d4 0 135px,#c470b0 0 136px,#b870d0 0 137px,#e46c78 0 138px,#cc6ca4 0 139px,#9468ff 0 140px,#c864a0 0 141px,#ff7858 0 142px,#ff8864 0 143px,#ff6c4c 0 144px,#c864a0 0 145px,#c87cb8 0 146px,#ff9070 0 147px,#8054ff 0 148px,#a860d0 0 149px,#8454ff 0 150px,#e8a4bc 0 151px,#985cdc 0 152px,#8054ff 0 153px,#9c70ff 0 154px,#a074ff 0 155px,#8458ff 0 156px,#ff9474 0 157px,#ff7454 0 158px,#ff9074 0 159px,#d898b8 0 160px,#683cff 0 161px,#ff7858 0 162px,#dc687c 0 163px,#8c5cff 0 164px,#e47888 0 165px,#c088d0 0 166px,#784cff 0 167px,#9458dc 0 168px,#9468ff 0 169px,#e46878 0 170px,#a860d0 0 171px,#8858ff 0 172px,#8458ff 0 173px,#683cff 0 174px,#f49890 0 175px,#d0b0ff 0 176px,#b490ff 0 177px,#b474d8 0 178px,#784cff 0 179px,#dc7488 0 180px,#ff7858 0 181px,#c470b0 0 182px,#9064ff 0 183px,#986cff 0 184px,#6c40ff 0 185px,#784cff 0 187px,#bc5ca4 0 188px,#ff7c5c 0 189px,#d094d4 0 190px,#8058ff 0 191px,#7448ff 0 192px,#986cff 0 193px,#ff6848 0 194px,#e48490 0 195px,#c474b4 0 196px,#e48090 0 197px,#ff7050 0 198px,#b478dc 0 199px,#ff8c6c 0 200px,#ff8060 0 201px,#944cd0 0 202px,#8c48d0 0 203px,#d474a4 0 204px,#c4a4ff 0 205px,#a87cff 0 206px,#c09cff 0 207px,#7448ff 0 208px,#885cff 0 209px,#c464a8 0 210px,#ff9074 0 211px,#9458dc 0 212px,#784cff 0 213px,#ff6444 0 214px,#cc6ca4 0 215px,#b08cff 0 216px,#e06878 0 217px,#c464a4 0 218px,#b87cdc 0 219px,#f4a4a0 0 220px,#b860ac 0 221px,#7044ff 0 222px,#ff7050 0 223px,#ffac90 0 224px,#ffa084 0 225px,#ff7454 0 226px,#f08480 0 227px,#ff8464 0 228px,#c474b8 0 229px,#ff886c 0 230px,#e06070 0 231px,#b46cbc 0 232px,#b45cac 0 233px,#8458ff 0 234px,#bc70b8 0 235px,#e07c8c 0 236px,#8458ff 0 237px,#9854d4 0 238px,#ac7cec 0 239px,#ffa488 0 240px,#ff8c70 0 241px,#cc88c0 0 242px,#e87c88 0 243px,#b864b0 0 244px,#6c44ff 0 245px,#7448ff 0 246px,#885cff 0 247px,#ff6444 0 248px,#ff8c70 0 249px,#ff7050 0 250px,#ff9074 0 251px,#e47884 0 252px,#6c44ff 0 253px,#8054ff 0 254px,#9064ff 0 255px,#e87078 0 256px,#9064ff 0 257px,#bc74bc 0 258px,#d87c94 0 259px,#9054dc 0 260px,#8458ff 0 261px,#a074ff 0 262px,#b87cdc 0 263px,#ff8868 0 264px,#9454d8 0 265px,#6c44ff 0 266px,#885cff 0 267px,#c494dc 0 268px,#9468ff 0 269px,#7448ff 0 270px,#7c50ff 0 271px,#8458ff 0 273px,#9064ff 0 274px,#7048ff 0 275px,#8458ff 0 276px,#cc78b0 0 277px,#c46cb0 0 278px,#8858ff 0 279px,#a464d4 0 280px,#bc68b0 0 281px,#ff8c6c 0 282px,#ff6844 0 283px,#ff704c 0 284px,#ff9474 0 285px,#a86cdc 0 286px,#c87cb4 0 287px,#d078b0 0 288px,#e47884 0 289px,#ff8060 0 290px,#8c60ff 0 291px,#a468e0 0 292px,#ff987c 0 293px,#ff9474 0 294px,#8050ff 0 295px,#b894ff 0 296px,#e4a0bc 0 297px,#c05ca0 0 298px,#9c74ff 0 299px,#d4a4e0 0 300px,#9064ff 0 301px,#6c44ff 0 302px,#d86c84 0 303px,#ff805c 0 304px,#ff7c5c 0 305px,#9060ff 0 306px,#e46878 0 307px,#b858a4 0 308px,#d080b8 0 309px,#d068a0 0 310px,#ff7c5c 0 311px,#ffa890 0 312px,#ff9478 0 313px,#ff7454 0 314px,#c05c9c 0 315px,#8458ff 0 316px,#744cff 0 317px,#9c6cec 0 318px,#bc5ca4 0 319px,#dc6c80 0 320px,#7044ff 0 321px,#885cff 0 322px,#e08090 0 323px,#9050d8 0 324px,#ff6c4c 0 325px,#ff6440 0 326px,#e06c80 0 327px,#8458ff 0 328px,#ff8060 0 329px,#9858d8 0 330px,#8054ff 0 331px,#9468ff 0 332px,#ac64d0 0 333px,#dc546c 0 334px,#7448ff 0 335px,#8c5cff 0 336px,#a064dc 0 337px,#e48898 0 338px,#9060ff 0 339px,#ff6444 0 340px,#ff8868 0 341px,#b464b4 0 342px,#cc7cb0 0 343px,#6c44ff 0 344px,#c890dc 0 345px,#8050ff 0 346px,#cc6ca4 0 347px,#9c60e0 0 348px,#ff9070 0 349px,#e06878 0 350px,#ff7050 0 351px,#dc6078 0 352px,#dc88a0 0 353px,#bc74c0 0 354px,#ffac98 0 355px,#b484d8 0 356px,#7448ff 0 357px,#8054ff 0 358px,#8458ff 0 359px,#7448ff 0 360px,#885cff 0 361px,#c880c0 0 362px,#7448ff 0 363px,#a45cd4 0 364px,#9064ff 0 365px,#7c50ff 0 366px,#9c74ff 0 367px,#ff7c5c 0 368px,#9454d8 0 369px,#9c5cd8 0 370px,#8c60ff 0 371px,#dc7488 0 372px,#9468ff 0 373px,#744cff 0 374px,#ff7c5c 0 375px,#b884d8 0 376px,#ff6848 0 377px,#c46cac 0 378px,#9064ff 0 379px,#e490a0 0 380px,#986cff 0 381px,#c070b4 0 382px,#a060dc 0 383px,#a864d4 0 384px,#ff8868 0 385px,#d4a4e8 0 386px,#e08ca8 0 387px,#cc70a8 0 388px,#885cff 0 389px,#8054ff 0 390px,#a460d8 0 391px,#8458ff 0 392px,#e0788c 0 393px,#9c5cd8 0 394px,#e07484 0 395px,#8054ff 0 396px,#683cff 0 397px,#dc8ca8 0 398px,#9060e8 0 399px,#6c40ff 0 400px,#e48494 0 401px,#b468d0 0 402px,#ff6040 0 403px,#d4b8ff 0 404px,#a880ff 0 405px,#cc7cb8 0 406px,#cc84bc 0 407px,#8c60ff 0 408px,#885cff 0 409px,#ff8c6c 0 410px,#c4a4ff 0 411px,#b48cff 0 412px,#b08cff 0 413px,#885cff 0 414px,#784cff 0 415px,#7044ff 0 416px,#dc7890 0 417px,#b864b0 0 418px,#cc7cb8 0 419px,#ff8868 0 420px,#ff9c7c 0 421px,#985ce0 0 422px,#ff6844 0 423px,#ff7c58 0 424px,#bc60ac 0 425px,#ff8868 0 426px,#ff9478 0 427px,#ff8464 0 428px,#c868a4 0 429px,#784cff 0 431px,#a45cd0 0 432px,#885cff 0 433px,#bc98ff 0 434px,#e06070 0 435px,#944cd0 0 436px,#a86cdc 0 437px,#a870dc 0 438px,#9060ff 0 439px,#c064a4 0 440px,#8054ff 0 441px,#9c70ff 0 442px,#7c50ff 0 443px,#8458ff 0 444px,#c474b4 0 445px,#ff7c5c 0 446px,#ff6440 0 447px,#ff7c5c 0 448px,#d86880 0 449px,#e0788c 0 450px,#985cdc 0 451px,#8054ff 0 452px,#9064ff 0 453px,#6038ff 0 454px,#b864b4 0 455px,#ff6c4c 0 456px,#8c5cff 0 457px,#9064ff 0 458px,#e48c9c 0 459px,#e4889c 0 460px,#ff9878 0 461px,#986cff 0 462px,#8054ff 0 463px,#b068d0 0 464px,#ff7858 0 465px,#ff7450 0 466px,#7448ff 0 467px,#8c60ff 0 468px,#9064ff 0 469px,#a074ff 0 470px,#8458ff 0 471px,#9468ff 0 473px,#cc80bc 0 474px,#e48898 0 475px,#986cff 0 476px,#ac64d0 0 477px,#a85cd0 0 478px,#9858d8 0 479px,#8c48d0 0 480px,#cc6ca4 0 481px,#8c60ff 0 482px,#6c40ff 0 483px,#ff6040 0 484px,#ff6848 0 485px,#ff7858 0 486px,#cc70a8 0 487px,#885cff 0 488px,#8054ff 0 489px,#cc74ac 0 490px,#ff8868 0 491px,#b86cb8 0 492px,#6840ff 0 493px,#784cff 0 494px,#9064ff 0 495px,#8054ff 0 496px,#e46c78 0 497px,#ff7858 0 498px,#d85870 0 499px,#7c50ff 0 500px,#8c50dc 0 501px,#e49cb8 0 502px,#f0908c 0 503px,#a060d8 0 504px,#c070b4 0 505px,#c470b4 0 506px,#8454ff 0 507px,#8050ff 0 508px,#a078ff 0 510px,#e0accc 0 511px,#ff8c70 0 512px,#d88cb8 0 513px,#986cff 0 514px,#ff7c5c 0 515px,#ff6848 0 516px,#ff7854 0 517px,#c868a4 0 518px,#944cd0 0 519px,#9c70ff 0 520px,#6c40ff 0 521px,#ff9478 0 522px,#bc60ac 0 523px,#b06cd4 0 524px,#e07080 0 525px,#e0687c 0 526px,#c05ca0 0 527px,#a860d0 0 528px,#9468ff 0 529px,#7c50ff 0 530px,#9448d0 0 531px,#e4606c 0 532px,#b484ec 0 533px,#ffc4b0 0 534px,#ff7450 0 535px,#a864d8 0 536px,#ff7c5c 0 537px,#6c44ff 0 538px,#cc7cb0 0 539px,#ff7858 0)}
</style></head><body>
<div class="hm" style="left:0">
<i id="a0"></i>
<i id="a1"></i>
<i id="a2"></i>
<i id="a3"></i>
<i id="a4"></i>
<i id="a5"></i>
</div>
<div class="hm" style="left:0">
<i id="b0"></i>
<i id="b1"></i>
<i id="b2"></i>
<i id="b3"></i>
<i id="b4"></i>
<i id="b5"></i>
</div>
<div class="hm" style="left:0">
<i id="c0"></i>
<i id="c1"></i>
<i id="c2"></i>
<i id="c3"></i>
</div>
<svg width="1973" height="1403" viewBox="0 0 1973 1403">
<rect x="59.0" y="376.5" width="249.3" height="541.2" fill="none" stroke="#3a3a3a" stroke-width="1.25"/>
<rect x="315.8" y="376.5" width="249.6" height="541.2" fill="none" stroke="#3a3a3a" stroke-width="1.25"/>
<rect x="572.5" y="376.5" width="166.6" height="541.2" fill="none" stroke="#3a3a3a" stroke-width="1.25"/>
<text x="8.2" y="360.9" font-size="40.3" font-weight="bold" textLength="14.6" lengthAdjust="spacingAndGlyphs">f</text>
<text x="123.5" y="363.3" font-size="20.61" textLength="125.3" lengthAdjust="spacingAndGlyphs" stroke="#000" stroke-width="0.37">Diff.frequency</text>
<text x="407.2" y="365.6" font-size="20.63" textLength="82.7" lengthAdjust="spacingAndGlyphs" stroke="#000" stroke-width="0.37">Edit sites</text>
<text x="582.0" y="364.2" font-size="20.82" textLength="155.6" lengthAdjust="spacingAndGlyphs" stroke="#000" stroke-width="0.37">Gene expression</text>
<line x1="71.8" y1="926.2" x2="171.7" y2="926.2" stroke="#000" stroke-width="1.9"/>
<line x1="196.4" y1="927.0" x2="296.6" y2="927.0" stroke="#000" stroke-width="1.9"/>
<line x1="323.6" y1="925.7" x2="423.8" y2="925.7" stroke="#000" stroke-width="1.9"/>
<line x1="451.3" y1="925.7" x2="551.2" y2="925.7" stroke="#000" stroke-width="1.9"/>
<text x="99.3" y="949.5" font-size="19.50" textLength="35.2" lengthAdjust="spacingAndGlyphs" stroke="#000" stroke-width="0.35">LSK</text>
<text x="229.3" y="948.7" font-size="19.50" textLength="36.1" lengthAdjust="spacingAndGlyphs" stroke="#000" stroke-width="0.35">LSC</text>
<text x="357.0" y="948.7" font-size="19.50" textLength="35.2" lengthAdjust="spacingAndGlyphs" stroke="#000" stroke-width="0.35">LSK</text>
<text x="485.3" y="947.2" font-size="19.50" textLength="36.1" lengthAdjust="spacingAndGlyphs" stroke="#000" stroke-width="0.35">LSC</text>
<text x="590.0" y="1002.6" font-size="20.50" textLength="75.0" lengthAdjust="spacingAndGlyphs" transform="rotate(-90 591.0 1002.6)" stroke="#000" stroke-width="0.37">LSK-MIG</text>
<text x="637.4" y="1000.0" font-size="20.50" textLength="77.4" lengthAdjust="spacingAndGlyphs" transform="rotate(-90 638.4 1000.0)" stroke="#000" stroke-width="0.37">LSC-MIG</text>
<text x="676.3" y="1001.3" font-size="20.50" textLength="76.8" lengthAdjust="spacingAndGlyphs" transform="rotate(-90 677.2 1001.3)" stroke="#000" stroke-width="0.37">LSK-ADA</text>
<text x="721.3" y="1000.5" font-size="20.50" textLength="77.3" lengthAdjust="spacingAndGlyphs" transform="rotate(-90 722.2 1000.5)" stroke="#000" stroke-width="0.37">LSC-ADA</text>
<text x="747.3" y="449.7" font-size="20.61" textLength="125.3" lengthAdjust="spacingAndGlyphs" stroke="#000" stroke-width="0.37">Diff.frequency</text>
<text x="744.7" y="604.2" font-size="20.67" textLength="205.5" lengthAdjust="spacingAndGlyphs" stroke="#000" stroke-width="0.37">Log2 (No. of edit sites)</text>
<text x="742.9" y="749.1" font-size="20.50" textLength="285.2" lengthAdjust="spacingAndGlyphs" stroke="#000" stroke-width="0.37"><tspan font-style="italic">Z</tspan>-transformed VST read counts</text>
<defs><linearGradient id="g1" x1="0" y1="0" x2="0" y2="1"><stop offset="0" stop-color="#ff0000"/><stop offset="0.09" stop-color="#ff1208"/><stop offset="0.2" stop-color="#ff5b3a"/><stop offset="0.37" stop-color="#ff9e81"/><stop offset="0.5" stop-color="#ffd9cb"/><stop offset="0.6" stop-color="#ffffff"/><stop offset="0.62" stop-color="#e3d0ff"/><stop offset="0.655" stop-color="#0000ff"/><stop offset="1" stop-color="#0000ff"/></linearGradient><linearGradient id="g2" x1="0" y1="0" x2="0" y2="1"><stop offset="0" stop-color="#ff0000"/><stop offset="0.1" stop-color="#ff0000"/><stop offset="0.25" stop-color="#ff5b3a"/><stop offset="0.4" stop-color="#ff9e81"/><stop offset="0.6" stop-color="#f0e8ea"/><stop offset="0.7" stop-color="#c4a2ff"/><stop offset="0.85" stop-color="#7145ff"/><stop offset="0.95" stop-color="#0000ff"/><stop offset="1" stop-color="#0000ff"/></linearGradient><linearGradient id="g3" x1="0" y1="0" x2="0" y2="1"><stop offset="0" stop-color="#ff0000"/><stop offset="0.08" stop-color="#ff0000"/><stop offset="0.2" stop-color="#ff3e22"/><stop offset="0.35" stop-color="#ff8969"/><stop offset="0.5" stop-color="#f4ecee"/><stop offset="0.65" stop-color="#b38bff"/><stop offset="0.8" stop-color="#7145ff"/><stop offset="0.92" stop-color="#0000ff"/><stop offset="1" stop-color="#0000ff"/></linearGradient></defs>
<rect x="758.1" y="467.4" width="29.9" height="105.8" rx="1.5" fill="url(#g1)"/>
<line x1="758.1" y1="476.0" x2="763.9" y2="476.0" stroke="#fff" stroke-width="1.1" opacity="0.8"/>
<line x1="782.2" y1="476.0" x2="788.0" y2="476.0" stroke="#fff" stroke-width="1.1" opacity="0.8"/>
<line x1="758.1" y1="505.5" x2="763.9" y2="505.5" stroke="#fff" stroke-width="1.1" opacity="0.8"/>
<line x1="782.2" y1="505.5" x2="788.0" y2="505.5" stroke="#fff" stroke-width="1.1" opacity="0.8"/>
<line x1="758.1" y1="563.0" x2="763.9" y2="563.0" stroke="#fff" stroke-width="1.1" opacity="0.8"/>
<line x1="782.2" y1="563.0" x2="788.0" y2="563.0" stroke="#fff" stroke-width="1.1" opacity="0.8"/>
<text x="791.7" y="485.6" font-size="20.70" textLength="13.6" lengthAdjust="spacingAndGlyphs" fill="#3a3a3a" stroke="#3a3a3a" stroke-width="0.37">1</text>
<text x="791.6" y="513.3" font-size="20.70" textLength="31.8" lengthAdjust="spacingAndGlyphs" fill="#3a3a3a" stroke="#3a3a3a" stroke-width="0.37">0.5</text>
<text x="791.6" y="543.2" font-size="20.70" textLength="12.3" lengthAdjust="spacingAndGlyphs" fill="#3a3a3a" stroke="#3a3a3a" stroke-width="0.37">0</text>
<text x="791.5" y="572.6" font-size="20.70" textLength="39.8" lengthAdjust="spacingAndGlyphs" fill="#3a3a3a" stroke="#3a3a3a" stroke-width="0.37">-0.5</text>
<rect x="756.7" y="617" width="30.2" height="107.6" rx="1.5" fill="url(#g2)"/>
<line x1="756.7" y1="625.0" x2="762.5" y2="625.0" stroke="#fff" stroke-width="1.1" opacity="0.8"/>
<line x1="781.1" y1="625.0" x2="786.9" y2="625.0" stroke="#fff" stroke-width="1.1" opacity="0.8"/>
<line x1="756.7" y1="655.5" x2="762.5" y2="655.5" stroke="#fff" stroke-width="1.1" opacity="0.8"/>
<line x1="781.1" y1="655.5" x2="786.9" y2="655.5" stroke="#fff" stroke-width="1.1" opacity="0.8"/>
<line x1="756.7" y1="686.5" x2="762.5" y2="686.5" stroke="#fff" stroke-width="1.1" opacity="0.8"/>
<line x1="781.1" y1="686.5" x2="786.9" y2="686.5" stroke="#fff" stroke-width="1.1" opacity="0.8"/>
<line x1="756.7" y1="716.5" x2="762.5" y2="716.5" stroke="#fff" stroke-width="1.1" opacity="0.8"/>
<line x1="781.1" y1="716.5" x2="786.9" y2="716.5" stroke="#fff" stroke-width="1.1" opacity="0.8"/>
<text x="790.4" y="634.7" font-size="20.70" textLength="12.7" lengthAdjust="spacingAndGlyphs" fill="#3a3a3a" stroke="#3a3a3a" stroke-width="0.37">6</text>
<text x="791.1" y="665.2" font-size="20.70" textLength="11.7" lengthAdjust="spacingAndGlyphs" fill="#3a3a3a" stroke="#3a3a3a" stroke-width="0.37">4</text>
<text x="790.3" y="693.7" font-size="20.70" textLength="13.0" lengthAdjust="spacingAndGlyphs" fill="#3a3a3a" stroke="#3a3a3a" stroke-width="0.37">2</text>
<text x="790.6" y="724.1" font-size="20.70" textLength="12.3" lengthAdjust="spacingAndGlyphs" fill="#3a3a3a" stroke="#3a3a3a" stroke-width="0.37">0</text>
<rect x="758.2" y="766.7" width="30.3" height="134.5" rx="1.5" fill="url(#g3)"/>
<line x1="758.2" y1="775.5" x2="764.0" y2="775.5" stroke="#fff" stroke-width="1.1" opacity="0.8"/>
<line x1="782.7" y1="775.5" x2="788.5" y2="775.5" stroke="#fff" stroke-width="1.1" opacity="0.8"/>
<line x1="758.2" y1="804.0" x2="764.0" y2="804.0" stroke="#fff" stroke-width="1.1" opacity="0.8"/>
<line x1="782.7" y1="804.0" x2="788.5" y2="804.0" stroke="#fff" stroke-width="1.1" opacity="0.8"/>
<line x1="758.2" y1="834.5" x2="764.0" y2="834.5" stroke="#fff" stroke-width="1.1" opacity="0.8"/>
<line x1="782.7" y1="834.5" x2="788.5" y2="834.5" stroke="#fff" stroke-width="1.1" opacity="0.8"/>
<line x1="758.2" y1="862.5" x2="764.0" y2="862.5" stroke="#fff" stroke-width="1.1" opacity="0.8"/>
<line x1="782.7" y1="862.5" x2="788.5" y2="862.5" stroke="#fff" stroke-width="1.1" opacity="0.8"/>
<line x1="758.2" y1="891.5" x2="764.0" y2="891.5" stroke="#fff" stroke-width="1.1" opacity="0.8"/>
<line x1="782.7" y1="891.5" x2="788.5" y2="891.5" stroke="#fff" stroke-width="1.1" opacity="0.8"/>
<text x="792.3" y="783.4" font-size="20.70" textLength="13.0" lengthAdjust="spacingAndGlyphs" fill="#3a3a3a" stroke="#3a3a3a" stroke-width="0.37">2</text>
<text x="791.7" y="813.7" font-size="20.70" textLength="13.6" lengthAdjust="spacingAndGlyphs" fill="#3a3a3a" stroke="#3a3a3a" stroke-width="0.37">1</text>
<text x="792.6" y="842.1" font-size="20.70" textLength="12.3" lengthAdjust="spacingAndGlyphs" fill="#3a3a3a" stroke="#3a3a3a" stroke-width="0.37">0</text>
<text x="792.3" y="872.4" font-size="20.70" textLength="23.9" lengthAdjust="spacingAndGlyphs" fill="#3a3a3a" stroke="#3a3a3a" stroke-width="0.37">-1</text>
<text x="792.3" y="901.2" font-size="20.70" textLength="24.0" lengthAdjust="spacingAndGlyphs" fill="#3a3a3a" stroke="#3a3a3a" stroke-width="0.37">-2</text>
<text x="7.0" y="31.0" font-size="41.5" font-weight="bold" textLength="22.4" lengthAdjust="spacingAndGlyphs">a</text>
<text x="54.2" y="63.0" font-size="16.96" textLength="224.4" lengthAdjust="spacingAndGlyphs" stroke="#000" stroke-width="0.31">MSI2 targets in LSKs vs LSCs</text>
<rect x="99.7" y="216.8" width="54.6" height="44.0" fill="#0433FF"/>
<rect x="99.7" y="214.0" width="54.6" height="2.8" fill="#FF2600"/>
<rect x="177.7" y="153.3" width="54.7" height="107.5" fill="#0433FF"/>
<rect x="177.7" y="142.3" width="54.7" height="11.0" fill="#FF2600"/>
<line x1="74.9" y1="104.6" x2="74.9" y2="261.8" stroke="#000" stroke-width="2"/>
<line x1="71.0" y1="260.8" x2="257.0" y2="260.8" stroke="#000" stroke-width="2"/>
<line x1="70.0" y1="105.7" x2="75.0" y2="105.7" stroke="#000" stroke-width="2"/>
<text x="66.5" y="110.5" font-size="13.20" text-anchor="end" stroke="#000" stroke-width="0.24">40,000</text>
<line x1="70.0" y1="144.8" x2="75.0" y2="144.8" stroke="#000" stroke-width="2"/>
<text x="66.5" y="149.6" font-size="13.20" text-anchor="end" stroke="#000" stroke-width="0.24">30,000</text>
<line x1="70.0" y1="183.4" x2="75.0" y2="183.4" stroke="#000" stroke-width="2"/>
<text x="66.5" y="188.2" font-size="13.20" text-anchor="end" stroke="#000" stroke-width="0.24">20,000</text>
<line x1="70.0" y1="222.0" x2="75.0" y2="222.0" stroke="#000" stroke-width="2"/>
<text x="66.5" y="226.8" font-size="13.20" text-anchor="end" stroke="#000" stroke-width="0.24">10,000</text>
<line x1="70.0" y1="260.8" x2="75.0" y2="260.8" stroke="#000" stroke-width="2"/>
<text x="66.5" y="265.6" font-size="13.20" text-anchor="end" stroke="#000" stroke-width="0.24">0</text>
<line x1="127.0" y1="260.8" x2="127.0" y2="265.5" stroke="#000" stroke-width="2"/>
<line x1="205.2" y1="260.8" x2="205.2" y2="265.5" stroke="#000" stroke-width="2"/>
<text x="108.3" y="281.3" font-size="15.00" textLength="36.8" lengthAdjust="spacingAndGlyphs" stroke="#000" stroke-width="0.27">LSKs</text>
<text x="186.2" y="281.3" font-size="15.00" textLength="37.8" lengthAdjust="spacingAndGlyphs" stroke="#000" stroke-width="0.27">LSCs</text>
<text x="110.7" y="208.6" font-size="14.00" textLength="33.3" lengthAdjust="spacingAndGlyphs" stroke="#000" stroke-width="0.25">2865</text>
<text x="189.1" y="133.0" font-size="14.00" textLength="33.0" lengthAdjust="spacingAndGlyphs" stroke="#000" stroke-width="0.25">4162</text>
<text x="-33.6" y="184.0" font-size="14.53" textLength="87.8" lengthAdjust="spacingAndGlyphs" transform="rotate(-90 10.5 184.0)" stroke="#000" stroke-width="0.26">No of edit site</text>
<rect x="253.0" y="101.8" width="19.0" height="12.8" fill="#0B9A5E"/>
<text x="280.6" y="112.8" font-size="15.00" stroke="#000" stroke-width="0.27">5′UTR</text>
<rect x="253.0" y="123.5" width="19.0" height="12.8" fill="#FF2600"/>
<text x="280.6" y="135.2" font-size="15.00" stroke="#000" stroke-width="0.27">CDS</text>
<rect x="253.0" y="145.0" width="19.0" height="12.8" fill="#0433FF"/>
<text x="280.6" y="156.8" font-size="15.00" stroke="#000" stroke-width="0.27">3′UTR</text>
<text x="352.7" y="31.0" font-size="40" font-weight="bold" textLength="26.5" lengthAdjust="spacingAndGlyphs">b</text>
<ellipse cx="542.1" cy="152.9" rx="95.3" ry="91.4" fill="#80B041" stroke="#6FA52F" stroke-width="1.2"/>
<ellipse cx="484.3" cy="156.6" rx="83.9" ry="76.3" fill="#FC9908" fill-opacity="0.6" stroke="#F8A02A" stroke-width="1.3"/>
<text x="388.3" y="75.6" font-size="18.33" textLength="91.6" lengthAdjust="spacingAndGlyphs" stroke="#000" stroke-width="0.33">LSK (2865)</text>
<text x="579.1" y="63.2" font-size="18.33" textLength="92.6" lengthAdjust="spacingAndGlyphs" stroke="#000" stroke-width="0.33">LSC (4162)</text>
<text x="408.5" y="163.2" font-size="19.50" textLength="30.6" lengthAdjust="spacingAndGlyphs" stroke="#000" stroke-width="0.35">359</text>
<text x="481.4" y="159.3" font-size="19.50" textLength="41.2" lengthAdjust="spacingAndGlyphs" stroke="#000" stroke-width="0.35">2506</text>
<text x="572.8" y="156.8" font-size="19.50" textLength="40.1" lengthAdjust="spacingAndGlyphs" stroke="#000" stroke-width="0.35">1656</text>
<text x="707.1" y="31.0" font-size="41.5" font-weight="bold" textLength="24.2" lengthAdjust="spacingAndGlyphs">c</text>
<text x="752.2" y="41.5" font-size="17.81" textLength="293.2" lengthAdjust="spacingAndGlyphs" stroke="#000" stroke-width="0.32">Differential editing of shared edit sites</text>
<rect x="781.8" y="72.9" width="265.0" height="168.9" fill="#fff" stroke="#d9d9d9" stroke-width="1"/>
<line x1="781.8" y1="72.5" x2="781.8" y2="242.3" stroke="#8a8a8a" stroke-width="1.2"/>
<line x1="781.2" y1="241.8" x2="1047.0" y2="241.8" stroke="#8a8a8a" stroke-width="1.4"/>
<rect x="835.8" y="232.9" width="6.3" height="1.0" fill="#B9C0DC"/>
<rect x="836.1" y="232.9" width="5.4" height="1.0" fill="#9DA6CC"/>
<rect x="841.9" y="232.9" width="6.3" height="1.0" fill="#B9C0DC"/>
<rect x="842.1" y="232.9" width="5.4" height="1.0" fill="#9DA6CC"/>
<rect x="847.9" y="232.9" width="6.3" height="1.0" fill="#B9C0DC"/>
<rect x="848.1" y="232.9" width="5.4" height="1.0" fill="#9DA6CC"/>
<rect x="853.9" y="231.2" width="6.3" height="2.7" fill="#B9C0DC"/>
<rect x="854.2" y="231.2" width="5.4" height="2.7" fill="#9DA6CC"/>
<rect x="860.0" y="229.8" width="6.3" height="4.1" fill="#B9C0DC"/>
<rect x="860.2" y="229.8" width="5.4" height="4.1" fill="#9DA6CC"/>
<rect x="866.0" y="228.3" width="6.3" height="5.6" fill="#B9C0DC"/>
<rect x="866.2" y="228.3" width="5.4" height="5.6" fill="#9DA6CC"/>
<rect x="872.0" y="224.3" width="6.3" height="9.6" fill="#B9C0DC"/>
<rect x="872.3" y="224.3" width="5.4" height="9.6" fill="#9DA6CC"/>
<rect x="878.1" y="218.7" width="6.3" height="15.2" fill="#B9C0DC"/>
<rect x="878.3" y="218.7" width="5.4" height="15.2" fill="#9DA6CC"/>
<rect x="884.1" y="208.7" width="6.3" height="25.2" fill="#B9C0DC"/>
<rect x="884.3" y="208.7" width="5.4" height="25.2" fill="#9DA6CC"/>
<rect x="890.1" y="190.2" width="6.3" height="43.7" fill="#B9C0DC"/>
<rect x="890.4" y="190.2" width="5.4" height="43.7" fill="#9DA6CC"/>
<rect x="896.2" y="167.3" width="6.3" height="66.6" fill="#B9C0DC"/>
<rect x="896.4" y="167.3" width="5.4" height="66.6" fill="#9DA6CC"/>
<rect x="902.2" y="147.0" width="6.3" height="86.9" fill="#B9C0DC"/>
<rect x="902.4" y="147.0" width="5.4" height="86.9" fill="#9DA6CC"/>
<rect x="908.2" y="137.3" width="6.3" height="96.6" fill="#B9C0DC"/>
<rect x="908.5" y="137.3" width="5.4" height="96.6" fill="#9DA6CC"/>
<rect x="914.2" y="114.4" width="6.3" height="119.5" fill="#B9C0DC"/>
<rect x="914.5" y="114.4" width="5.4" height="119.5" fill="#9DA6CC"/>
<rect x="920.3" y="94.1" width="6.3" height="139.8" fill="#B9C0DC"/>
<rect x="920.5" y="94.1" width="5.4" height="139.8" fill="#9DA6CC"/>
<rect x="926.3" y="91.9" width="6.3" height="142.0" fill="#B9C0DC"/>
<rect x="926.6" y="91.9" width="5.4" height="142.0" fill="#9DA6CC"/>
<rect x="932.3" y="80.6" width="6.3" height="153.3" fill="#B9C0DC"/>
<rect x="932.6" y="80.6" width="5.4" height="153.3" fill="#9DA6CC"/>
<rect x="938.4" y="85.0" width="6.3" height="148.9" fill="#B9C0DC"/>
<rect x="938.6" y="85.0" width="5.4" height="148.9" fill="#9DA6CC"/>
<rect x="944.4" y="102.0" width="6.3" height="131.9" fill="#B9C0DC"/>
<rect x="944.7" y="102.0" width="5.4" height="131.9" fill="#9DA6CC"/>
<rect x="950.4" y="106.7" width="6.3" height="127.2" fill="#B9C0DC"/>
<rect x="950.7" y="106.7" width="5.4" height="127.2" fill="#9DA6CC"/>
<rect x="956.5" y="130.4" width="6.3" height="103.5" fill="#B9C0DC"/>
<rect x="956.7" y="130.4" width="5.4" height="103.5" fill="#9DA6CC"/>
<rect x="962.5" y="154.4" width="6.3" height="79.5" fill="#B9C0DC"/>
<rect x="962.8" y="154.4" width="5.4" height="79.5" fill="#9DA6CC"/>
<rect x="968.5" y="180.2" width="6.3" height="53.7" fill="#B9C0DC"/>
<rect x="968.8" y="180.2" width="5.4" height="53.7" fill="#9DA6CC"/>
<rect x="974.6" y="192.6" width="6.3" height="41.3" fill="#B9C0DC"/>
<rect x="974.8" y="192.6" width="5.4" height="41.3" fill="#9DA6CC"/>
<rect x="980.6" y="211.1" width="6.3" height="22.8" fill="#B9C0DC"/>
<rect x="980.9" y="211.1" width="5.4" height="22.8" fill="#9DA6CC"/>
<rect x="986.6" y="218.2" width="6.3" height="15.7" fill="#B9C0DC"/>
<rect x="986.9" y="218.2" width="5.4" height="15.7" fill="#9DA6CC"/>
<rect x="992.7" y="224.5" width="6.3" height="9.4" fill="#B9C0DC"/>
<rect x="992.9" y="224.5" width="5.4" height="9.4" fill="#9DA6CC"/>
<rect x="998.7" y="230.2" width="6.3" height="3.7" fill="#B9C0DC"/>
<rect x="999.0" y="230.2" width="5.4" height="3.7" fill="#9DA6CC"/>
<rect x="1004.7" y="231.2" width="6.3" height="2.7" fill="#B9C0DC"/>
<rect x="1005.0" y="231.2" width="5.4" height="2.7" fill="#9DA6CC"/>
<rect x="1010.8" y="233.4" width="6.3" height="0.5" fill="#B9C0DC"/>
<rect x="1011.0" y="233.4" width="5.4" height="0.5" fill="#9DA6CC"/>
<line x1="888.3" y1="74.0" x2="888.3" y2="233.9" stroke="#000" stroke-width="1.6" stroke-dasharray="3.4 0.6"/>
<text x="776.0" y="108.3" font-size="13.20" text-anchor="end" stroke="#000" stroke-width="0.24">750</text>
<text x="776.0" y="152.2" font-size="13.20" text-anchor="end" stroke="#000" stroke-width="0.24">500</text>
<text x="776.0" y="195.3" font-size="13.20" text-anchor="end" stroke="#000" stroke-width="0.24">250</text>
<text x="776.0" y="238.7" font-size="13.20" text-anchor="end" stroke="#000" stroke-width="0.24">0</text>
<text x="784.7" y="255.9" font-size="13.20" text-anchor="middle" stroke="#000" stroke-width="0.24">−2</text>
<text x="837.8" y="255.9" font-size="13.20" text-anchor="middle" stroke="#000" stroke-width="0.24">−1</text>
<text x="892.0" y="255.9" font-size="13.20" text-anchor="middle" stroke="#000" stroke-width="0.24">0</text>
<text x="945.6" y="255.9" font-size="13.20" text-anchor="middle" stroke="#000" stroke-width="0.24">1</text>
<text x="999.3" y="255.9" font-size="13.20" text-anchor="middle" stroke="#000" stroke-width="0.24">2</text>
<text x="823.6" y="278.7" font-size="15.34" textLength="179.1" lengthAdjust="spacingAndGlyphs" stroke="#000" stroke-width="0.28">Log2fc Diff.freq (LSC/LSK)</text>
<text x="719.2" y="168.8" font-size="15.50" textLength="41.9" lengthAdjust="spacingAndGlyphs" transform="rotate(-90 740.5 168.8)" stroke="#000" stroke-width="0.28">Count</text>
<text x="1083.0" y="31.0" font-size="40" font-weight="bold" textLength="26.5" lengthAdjust="spacingAndGlyphs">d</text>
<text x="1136.9" y="41.5" font-size="17.86" textLength="252.8" lengthAdjust="spacingAndGlyphs" stroke="#000" stroke-width="0.32">Differential expression of targets</text>
<line x1="1143.5" y1="87.6" x2="1420.0" y2="87.6" stroke="#ededed" stroke-width="1"/>
<line x1="1143.5" y1="103.5" x2="1420.0" y2="103.5" stroke="#ededed" stroke-width="1"/>
<line x1="1143.5" y1="118.8" x2="1420.0" y2="118.8" stroke="#ededed" stroke-width="1"/>
<line x1="1143.5" y1="134.8" x2="1420.0" y2="134.8" stroke="#ededed" stroke-width="1"/>
<line x1="1143.5" y1="150.1" x2="1420.0" y2="150.1" stroke="#ededed" stroke-width="1"/>
<line x1="1143.5" y1="181.7" x2="1420.0" y2="181.7" stroke="#ededed" stroke-width="1"/>
<line x1="1143.5" y1="197.4" x2="1420.0" y2="197.4" stroke="#ededed" stroke-width="1"/>
<line x1="1143.5" y1="213.4" x2="1420.0" y2="213.4" stroke="#ededed" stroke-width="1"/>
<line x1="1143.5" y1="229.1" x2="1420.0" y2="229.1" stroke="#ededed" stroke-width="1"/>
<line x1="1143.5" y1="245.2" x2="1420.0" y2="245.2" stroke="#ededed" stroke-width="1"/>
<line x1="1193.5" y1="74.0" x2="1193.5" y2="258.0" stroke="#ececec" stroke-width="1"/>
<line x1="1280.5" y1="74.0" x2="1280.5" y2="258.0" stroke="#ececec" stroke-width="1"/>
<line x1="1367.7" y1="74.0" x2="1367.7" y2="258.0" stroke="#ececec" stroke-width="1"/>
<line x1="1141.8" y1="166.2" x2="1420.4" y2="166.2" stroke="#000" stroke-width="4.2"/>
<line x1="1193.5" y1="136.7" x2="1193.5" y2="187.2" stroke="#333" stroke-width="1.3" stroke-dasharray="2 0.6"/>
<line x1="1280.5" y1="81.8" x2="1280.5" y2="185.7" stroke="#2e3a2e" stroke-width="1.4" stroke-dasharray="2 0.6"/>
<line x1="1367.7" y1="197.4" x2="1367.7" y2="250.4" stroke="#33415f" stroke-width="1.4" stroke-dasharray="2 0.6"/>
<path d="M1193.7 144.1 L1194.6 150.4 L1196.6 152.7 L1200.1 154.8 L1205.3 156.6 L1210.0 158.2 L1215.5 159.8 L1220.2 161.3 L1224.4 162.9 L1230.2 165.3 L1232.7 167.6 L1230.2 170.0 L1223.6 172.3 L1217.0 173.9 L1210.0 175.5 L1203.7 177.0 L1199.0 178.3 L1194.9 179.5 L1193.7 183.3 L1193.3 183.3 L1192.1 179.5 L1188.0 178.3 L1183.3 177.0 L1177.0 175.5 L1170.0 173.9 L1163.4 172.3 L1156.8 170.0 L1154.3 167.6 L1156.8 165.3 L1162.6 162.9 L1166.8 161.3 L1171.5 159.8 L1177.0 158.2 L1181.7 156.6 L1186.9 154.8 L1190.4 152.7 L1192.4 150.4 L1193.3 144.1Z" fill="#F8766D" stroke="#6b6b6b" stroke-width="0.3"/>
<path d="M1280.7 125.3 L1281.3 134.7 L1282.4 140.2 L1282.7 144.1 L1284.7 148.8 L1287.6 152.7 L1293.0 156.6 L1300.1 159.8 L1305.6 162.1 L1308.7 164.5 L1305.6 166.8 L1299.3 169.2 L1293.8 171.5 L1288.3 173.9 L1284.4 176.2 L1281.8 178.6 L1280.7 182.5 L1280.3 182.5 L1279.2 178.6 L1276.6 176.2 L1272.7 173.9 L1267.2 171.5 L1261.7 169.2 L1255.4 166.8 L1252.3 164.5 L1255.4 162.1 L1260.9 159.8 L1268.0 156.6 L1273.4 152.7 L1276.3 148.8 L1278.3 144.1 L1278.6 140.2 L1279.7 134.7 L1280.3 125.3Z" fill="#00BA38" stroke="#6b6b6b" stroke-width="0.3"/>
<path d="M1368.0 159.3 L1370.1 161.3 L1373.7 163.7 L1379.5 166.0 L1387.3 168.4 L1394.4 170.4 L1397.0 171.8 L1393.6 173.4 L1388.1 175.5 L1383.1 177.8 L1378.7 180.2 L1375.9 182.5 L1373.7 184.9 L1371.6 187.2 L1370.1 190.0 L1370.5 192.7 L1371.5 195.1 L1371.9 197.4 L1371.5 199.8 L1370.5 202.1 L1369.6 205.3 L1369.0 210.0 L1368.5 214.7 L1368.2 222.5 L1368.0 230.3 L1367.4 230.3 L1367.2 222.5 L1366.9 214.7 L1366.4 210.0 L1365.8 205.3 L1364.9 202.1 L1363.9 199.8 L1363.5 197.4 L1363.9 195.1 L1364.9 192.7 L1365.3 190.0 L1363.8 187.2 L1361.7 184.9 L1359.5 182.5 L1356.7 180.2 L1352.3 177.8 L1347.3 175.5 L1341.8 173.4 L1338.4 171.8 L1341.0 170.4 L1348.1 168.4 L1355.9 166.0 L1361.7 163.7 L1365.3 161.3 L1367.4 159.3Z" fill="#619CFF" stroke="#6b6b6b" stroke-width="0.3"/>
<rect x="1184.9" y="164.2" width="17.7" height="6.3" fill="#fff" stroke="#6b6b6b" stroke-width="0.7"/>
<line x1="1184.9" y1="167.3" x2="1202.6" y2="167.3" stroke="#555" stroke-width="1.1"/>
<rect x="1271.9" y="158.5" width="17.3" height="9.1" fill="#fff" stroke="#6b6b6b" stroke-width="0.7"/>
<line x1="1271.9" y1="162.9" x2="1289.2" y2="162.9" stroke="#555" stroke-width="1.1"/>
<rect x="1359.0" y="171.1" width="17.6" height="11.4" fill="#fff" stroke="#6b6b6b" stroke-width="0.7"/>
<line x1="1359.0" y1="175.0" x2="1376.5" y2="175.0" stroke="#555" stroke-width="1.1"/>
<line x1="1141.8" y1="73.5" x2="1141.8" y2="258.8" stroke="#333" stroke-width="1.5"/>
<line x1="1141.0" y1="258.1" x2="1420.4" y2="258.1" stroke="#333" stroke-width="1.5"/>
<path d="M1267.7 74 V64.1 H1353.9 V74" fill="none" stroke="#000" stroke-width="1.6"/>
<text x="1298.0" y="69.5" font-size="17.00" textLength="26.2" lengthAdjust="spacingAndGlyphs" stroke="#000" stroke-width="0.31">****</text>
<text x="1135.4" y="108.3" font-size="13.50" text-anchor="end" stroke="#000" stroke-width="0.24">10</text>
<text x="1135.4" y="139.6" font-size="13.50" text-anchor="end" stroke="#000" stroke-width="0.24">5</text>
<text x="1135.4" y="171.0" font-size="13.50" text-anchor="end" stroke="#000" stroke-width="0.24">0</text>
<text x="1135.4" y="202.2" font-size="13.50" text-anchor="end" stroke="#000" stroke-width="0.24">−5</text>
<text x="1135.4" y="233.9" font-size="13.50" text-anchor="end" stroke="#000" stroke-width="0.24">−10</text>
<text x="1138.3" y="279.9" font-size="19.00" textLength="58.3" lengthAdjust="spacingAndGlyphs" stroke="#000" stroke-width="0.34">Shared</text>
<text x="1212.0" y="281.3" font-size="18.16" textLength="93.8" lengthAdjust="spacingAndGlyphs" stroke="#000" stroke-width="0.33">LSC unique</text>
<text x="1314.8" y="281.3" font-size="18.19" textLength="93.0" lengthAdjust="spacingAndGlyphs" stroke="#000" stroke-width="0.33">LSK unique</text>
<text x="1039.4" y="166.4" font-size="15.47" textLength="119.0" lengthAdjust="spacingAndGlyphs" transform="rotate(-90 1099.0 166.4)" stroke="#000" stroke-width="0.28">Log2fc(LSC/LSK)</text>
<text x="1451.5" y="31.0" font-size="41.5" font-weight="bold" textLength="24.9" lengthAdjust="spacingAndGlyphs">e</text>
<text x="1524.9" y="34.9" font-size="17.98" textLength="303.3" lengthAdjust="spacingAndGlyphs" stroke="#000" stroke-width="0.32">Percentage of GE independent targets</text>
<rect x="1580.9" y="78.1" width="55.8" height="181.2" fill="#EE7270"/>
<rect x="1661.1" y="126.9" width="55.8" height="132.4" fill="#00AD00"/>
<rect x="1741.2" y="194.9" width="55.8" height="64.4" fill="#9099FF"/>
<line x1="1555.7" y1="66.2" x2="1555.7" y2="260.3" stroke="#000" stroke-width="2"/>
<line x1="1551.0" y1="259.3" x2="1822.6" y2="259.3" stroke="#000" stroke-width="2"/>
<line x1="1551.0" y1="67.1" x2="1556.0" y2="67.1" stroke="#000" stroke-width="2"/>
<text x="1548.7" y="71.9" font-size="13.50" text-anchor="end" stroke="#000" stroke-width="0.24">100</text>
<line x1="1551.0" y1="105.7" x2="1556.0" y2="105.7" stroke="#000" stroke-width="2"/>
<text x="1548.7" y="110.5" font-size="13.50" text-anchor="end" stroke="#000" stroke-width="0.24">80</text>
<line x1="1551.0" y1="144.3" x2="1556.0" y2="144.3" stroke="#000" stroke-width="2"/>
<text x="1548.7" y="149.1" font-size="13.50" text-anchor="end" stroke="#000" stroke-width="0.24">60</text>
<line x1="1551.0" y1="182.7" x2="1556.0" y2="182.7" stroke="#000" stroke-width="2"/>
<text x="1548.7" y="187.5" font-size="13.50" text-anchor="end" stroke="#000" stroke-width="0.24">40</text>
<line x1="1551.0" y1="221.3" x2="1556.0" y2="221.3" stroke="#000" stroke-width="2"/>
<text x="1548.7" y="226.1" font-size="13.50" text-anchor="end" stroke="#000" stroke-width="0.24">20</text>
<line x1="1551.0" y1="259.3" x2="1556.0" y2="259.3" stroke="#000" stroke-width="2"/>
<text x="1548.7" y="264.1" font-size="13.50" text-anchor="end" stroke="#000" stroke-width="0.24">0</text>
<line x1="1608.8" y1="259.3" x2="1608.8" y2="264.0" stroke="#000" stroke-width="2"/>
<line x1="1689.0" y1="259.3" x2="1689.0" y2="264.0" stroke="#000" stroke-width="2"/>
<line x1="1769.2" y1="259.3" x2="1769.2" y2="264.0" stroke="#000" stroke-width="2"/>
<text x="1564.9" y="285.2" font-size="19.00" textLength="58.0" lengthAdjust="spacingAndGlyphs" stroke="#000" stroke-width="0.34">Shared</text>
<text x="1641.9" y="285.2" font-size="18.24" textLength="94.2" lengthAdjust="spacingAndGlyphs" stroke="#000" stroke-width="0.33">LSC unique</text>
<text x="1749.6" y="287.0" font-size="18.15" textLength="92.8" lengthAdjust="spacingAndGlyphs" stroke="#000" stroke-width="0.33">LSK unique</text>
<text x="1482.9" y="162.0" font-size="17.05" textLength="71.2" lengthAdjust="spacingAndGlyphs" transform="rotate(-90 1518.5 162.0)" stroke="#000" stroke-width="0.31">% targets</text>
<text x="1585.6" y="167.0" font-size="11.00" textLength="22.4" lengthAdjust="spacingAndGlyphs" stroke="#000" stroke-width="0.20">2361</text>
<text x="1609.0" y="180.3" font-size="11.00" textLength="22.7" lengthAdjust="spacingAndGlyphs" stroke="#000" stroke-width="0.20">2506</text>
<line x1="1602.4" y1="176.3" x2="1616.4" y2="162.3" stroke="#000" stroke-width="1.5"/>
<text x="1666.0" y="195.2" font-size="11.00" textLength="22.4" lengthAdjust="spacingAndGlyphs" stroke="#000" stroke-width="0.20">1139</text>
<text x="1690.1" y="204.2" font-size="11.00" textLength="22.8" lengthAdjust="spacingAndGlyphs" stroke="#000" stroke-width="0.20">1656</text>
<line x1="1682.3" y1="203.3" x2="1696.2" y2="189.6" stroke="#000" stroke-width="1.5"/>
<text x="1751.1" y="227.4" font-size="11.00" textLength="16.8" lengthAdjust="spacingAndGlyphs" stroke="#000" stroke-width="0.20">121</text>
<text x="1770.7" y="237.6" font-size="11.00" textLength="17.0" lengthAdjust="spacingAndGlyphs" stroke="#000" stroke-width="0.20">359</text>
<line x1="1761.9" y1="235.8" x2="1775.8" y2="221.9" stroke="#000" stroke-width="1.5"/>
<text x="112.2" y="1077.3" font-size="41.5" font-weight="bold" textLength="26.6" lengthAdjust="spacingAndGlyphs">g</text>
<text x="174.0" y="1081.8" font-size="17.94" textLength="246.4" lengthAdjust="spacingAndGlyphs" stroke="#000" stroke-width="0.32">Number of significant pathways</text>
<text x="269.4" y="1118.5" font-size="18.05" textLength="103.6" lengthAdjust="spacingAndGlyphs" stroke="#000" stroke-width="0.32">(FDR &lt; 0.05)</text>
<rect x="236.8" y="1297.7" width="79.2" height="19.9" fill="#0433FF"/>
<rect x="351.7" y="1156.8" width="79.4" height="160.8" fill="#FF7E79"/>
<line x1="200.1" y1="1137.7" x2="200.1" y2="1319.0" stroke="#000" stroke-width="3"/>
<line x1="195.0" y1="1317.6" x2="468.6" y2="1317.6" stroke="#000" stroke-width="2.6"/>
<line x1="194.5" y1="1139.0" x2="200.0" y2="1139.0" stroke="#000" stroke-width="2.2"/>
<text x="192.2" y="1143.8" font-size="13.50" text-anchor="end" font-weight="bold">1000</text>
<line x1="194.5" y1="1174.9" x2="200.0" y2="1174.9" stroke="#000" stroke-width="2.2"/>
<text x="192.2" y="1179.7" font-size="13.50" text-anchor="end" font-weight="bold">800</text>
<line x1="194.5" y1="1210.8" x2="200.0" y2="1210.8" stroke="#000" stroke-width="2.2"/>
<text x="192.2" y="1215.6" font-size="13.50" text-anchor="end" font-weight="bold">600</text>
<line x1="194.5" y1="1246.6" x2="200.0" y2="1246.6" stroke="#000" stroke-width="2.2"/>
<text x="192.2" y="1251.4" font-size="13.50" text-anchor="end" font-weight="bold">400</text>
<line x1="194.5" y1="1282.0" x2="200.0" y2="1282.0" stroke="#000" stroke-width="2.2"/>
<text x="192.2" y="1286.8" font-size="13.50" text-anchor="end" font-weight="bold">200</text>
<line x1="194.5" y1="1317.6" x2="200.0" y2="1317.6" stroke="#000" stroke-width="2.2"/>
<text x="192.2" y="1322.4" font-size="13.50" text-anchor="end" font-weight="bold">0</text>
<line x1="276.4" y1="1317.6" x2="276.4" y2="1323.0" stroke="#000" stroke-width="2.4"/>
<line x1="391.3" y1="1317.6" x2="391.3" y2="1323.0" stroke="#000" stroke-width="2.4"/>
<text x="230.5" y="1341.0" font-size="17.85" textLength="91.2" lengthAdjust="spacingAndGlyphs" stroke="#000" stroke-width="0.32">LSK unique</text>
<text x="344.9" y="1341.0" font-size="17.86" textLength="92.2" lengthAdjust="spacingAndGlyphs" stroke="#000" stroke-width="0.32">LSC unique</text>
<text x="1068.8" y="415.7" font-size="40" font-weight="bold" textLength="25.9" lengthAdjust="spacingAndGlyphs">h</text>
<text x="1164.9" y="418.8" font-size="18.08" textLength="245.3" lengthAdjust="spacingAndGlyphs" stroke="#000" stroke-width="0.33">Top RNAseq Gene&amp;Drug Sign.</text>
<text x="1201.9" y="438.3" font-size="17.93" textLength="169.4" lengthAdjust="spacingAndGlyphs" stroke="#000" stroke-width="0.32">in LSK unique targets</text>
<rect x="1287.5" y="491.1" width="166.3" height="25.2" fill="#0433FF"/>
<line x1="1282.0" y1="503.7" x2="1287.5" y2="503.7" stroke="#000" stroke-width="2"/>
<text x="1276.4" y="509.5" font-size="17.90" text-anchor="end" letter-spacing="-0.11" stroke="#000" stroke-width="0.32">SIRT1 activator_LSKs</text>
<rect x="1287.5" y="525.6" width="132.1" height="25.2" fill="#0433FF"/>
<line x1="1282.0" y1="538.2" x2="1287.5" y2="538.2" stroke="#000" stroke-width="2"/>
<text x="1276.4" y="544.0" font-size="17.90" text-anchor="end" letter-spacing="-0.11" stroke="#000" stroke-width="0.32">MSI2 O/E_NHD13 MDS</text>
<rect x="1287.5" y="560.1" width="102.8" height="25.2" fill="#0433FF"/>
<line x1="1282.0" y1="572.7" x2="1287.5" y2="572.7" stroke="#000" stroke-width="2"/>
<text x="1276.4" y="578.5" font-size="17.90" text-anchor="end" letter-spacing="-0.11" stroke="#000" stroke-width="0.32">FOXP3 low_Treg cells</text>
<rect x="1287.5" y="594.6" width="100.8" height="25.2" fill="#0433FF"/>
<line x1="1282.0" y1="607.2" x2="1287.5" y2="607.2" stroke="#000" stroke-width="2"/>
<text x="1276.4" y="613.0" font-size="17.90" text-anchor="end" letter-spacing="-0.11" stroke="#000" stroke-width="0.32">LPS treated Microglia</text>
<rect x="1287.5" y="629.1" width="81.3" height="25.2" fill="#0433FF"/>
<line x1="1282.0" y1="641.7" x2="1287.5" y2="641.7" stroke="#000" stroke-width="2"/>
<text x="1276.4" y="647.5" font-size="17.90" text-anchor="end" letter-spacing="-0.11" stroke="#000" stroke-width="0.32">CTCFL O/E_ESCs</text>
<rect x="1287.5" y="663.6" width="81.3" height="25.2" fill="#0433FF"/>
<line x1="1282.0" y1="676.2" x2="1287.5" y2="676.2" stroke="#000" stroke-width="2"/>
<text x="1276.4" y="682.0" font-size="17.90" text-anchor="end" letter-spacing="-0.11" stroke="#000" stroke-width="0.32">Miconazole treated ESCs</text>
<rect x="1287.5" y="698.1" width="76.4" height="25.2" fill="#0433FF"/>
<line x1="1282.0" y1="710.7" x2="1287.5" y2="710.7" stroke="#000" stroke-width="2"/>
<text x="1276.4" y="716.5" font-size="17.90" text-anchor="end" letter-spacing="-0.11" stroke="#000" stroke-width="0.32">TREX1 K/O_B cells</text>
<rect x="1287.5" y="732.6" width="75.6" height="25.2" fill="#0433FF"/>
<line x1="1282.0" y1="745.2" x2="1287.5" y2="745.2" stroke="#000" stroke-width="2"/>
<text x="1276.4" y="751.0" font-size="17.90" text-anchor="end" letter-spacing="-0.11" stroke="#000" stroke-width="0.32">MEF2C/D KO_pro B-cells</text>
<rect x="1287.5" y="767.1" width="75.6" height="25.2" fill="#0433FF"/>
<line x1="1282.0" y1="779.7" x2="1287.5" y2="779.7" stroke="#000" stroke-width="2"/>
<text x="1276.4" y="785.5" font-size="17.90" text-anchor="end" letter-spacing="-0.11" stroke="#000" stroke-width="0.32">RNPK1 K/D_A673 cell line</text>
<rect x="1287.5" y="801.6" width="70.3" height="25.2" fill="#0433FF"/>
<line x1="1282.0" y1="814.2" x2="1287.5" y2="814.2" stroke="#000" stroke-width="2"/>
<text x="1276.4" y="820.0" font-size="17.90" text-anchor="end" letter-spacing="-0.11" stroke="#000" stroke-width="0.32">BRPF1 K/O_LSKs</text>
<line x1="1287.5" y1="480.6" x2="1287.5" y2="838.4" stroke="#000" stroke-width="2"/>
<line x1="1286.5" y1="837.4" x2="1460.7" y2="837.4" stroke="#000" stroke-width="2"/>
<line x1="1287.5" y1="837.4" x2="1287.5" y2="842.9" stroke="#000" stroke-width="2"/>
<text x="1287.5" y="858.3" font-size="14.00" text-anchor="middle" stroke="#000" stroke-width="0.25">0</text>
<line x1="1322.1" y1="837.4" x2="1322.1" y2="842.9" stroke="#000" stroke-width="2"/>
<text x="1322.1" y="858.3" font-size="14.00" text-anchor="middle" stroke="#000" stroke-width="0.25">10</text>
<line x1="1356.4" y1="837.4" x2="1356.4" y2="842.9" stroke="#000" stroke-width="2"/>
<text x="1356.4" y="858.3" font-size="14.00" text-anchor="middle" stroke="#000" stroke-width="0.25">20</text>
<line x1="1390.8" y1="837.4" x2="1390.8" y2="842.9" stroke="#000" stroke-width="2"/>
<text x="1390.8" y="858.3" font-size="14.00" text-anchor="middle" stroke="#000" stroke-width="0.25">30</text>
<line x1="1425.3" y1="837.4" x2="1425.3" y2="842.9" stroke="#000" stroke-width="2"/>
<text x="1425.3" y="858.3" font-size="14.00" text-anchor="middle" stroke="#000" stroke-width="0.25">40</text>
<line x1="1459.9" y1="837.4" x2="1459.9" y2="842.9" stroke="#000" stroke-width="2"/>
<text x="1459.9" y="858.3" font-size="14.00" text-anchor="middle" stroke="#000" stroke-width="0.25">50</text>
<text x="1309.9" y="891.5" font-size="17.61" textLength="126.7" lengthAdjust="spacingAndGlyphs" stroke="#000" stroke-width="0.32">Combined score</text>
<text x="1325.2" y="918.7" font-size="18.16" textLength="104.2" lengthAdjust="spacingAndGlyphs" stroke="#000" stroke-width="0.33">(FDR &lt; 0.05)</text>
<text x="1522.1" y="415.7" font-size="40.3" font-weight="bold" textLength="13.4" lengthAdjust="spacingAndGlyphs">i</text>
<text x="1674.8" y="418.0" font-size="18.14" textLength="246.2" lengthAdjust="spacingAndGlyphs" stroke="#000" stroke-width="0.33">Top RNAseq Gene&amp;Drug Sign.</text>
<text x="1711.8" y="437.5" font-size="17.96" textLength="170.7" lengthAdjust="spacingAndGlyphs" stroke="#000" stroke-width="0.32">in LSC unique targets</text>
<rect x="1795.4" y="491.5" width="158.9" height="24.4" fill="#FF7E79"/>
<line x1="1791.2" y1="503.7" x2="1795.4" y2="503.7" stroke="#000" stroke-width="2"/>
<text x="1784.3" y="509.5" font-size="17.30" text-anchor="end" letter-spacing="-0.11" stroke="#000" stroke-width="0.31">DOT1L/MLL1 depletion_leukemia</text>
<rect x="1795.4" y="524.8" width="142.2" height="24.4" fill="#FF7E79"/>
<line x1="1791.2" y1="537.0" x2="1795.4" y2="537.0" stroke="#000" stroke-width="2"/>
<text x="1784.3" y="542.8" font-size="17.30" text-anchor="end" letter-spacing="-0.11" stroke="#000" stroke-width="0.31">JMJD1C loss_MLL-AF9 leukemia</text>
<rect x="1795.4" y="558.0" width="134.5" height="24.4" fill="#FF7E79"/>
<line x1="1791.2" y1="570.2" x2="1795.4" y2="570.2" stroke="#000" stroke-width="2"/>
<text x="1784.3" y="576.0" font-size="17.30" text-anchor="end" letter-spacing="-0.11" stroke="#000" stroke-width="0.31">MSI2 KO_LSCs</text>
<rect x="1795.4" y="591.3" width="69.5" height="24.4" fill="#FF7E79"/>
<line x1="1791.2" y1="603.5" x2="1795.4" y2="603.5" stroke="#000" stroke-width="2"/>
<text x="1784.3" y="609.3" font-size="17.30" text-anchor="end" letter-spacing="-0.11" stroke="#000" stroke-width="0.31">YY1 KO_pro-B cells</text>
<rect x="1795.4" y="624.6" width="66.2" height="24.4" fill="#FF7E79"/>
<line x1="1791.2" y1="636.8" x2="1795.4" y2="636.8" stroke="#000" stroke-width="2"/>
<text x="1784.3" y="642.6" font-size="17.30" text-anchor="end" letter-spacing="-0.11" stroke="#000" stroke-width="0.31">IFNg_IRF8/1 mutant macrophages</text>
<rect x="1795.4" y="657.9" width="58.5" height="24.4" fill="#FF7E79"/>
<line x1="1791.2" y1="670.1" x2="1795.4" y2="670.1" stroke="#000" stroke-width="2"/>
<text x="1784.3" y="675.9" font-size="17.30" text-anchor="end" letter-spacing="-0.11" stroke="#000" stroke-width="0.31">ZFP36 K/O_macrophages</text>
<rect x="1795.4" y="691.1" width="48.8" height="24.4" fill="#FF7E79"/>
<line x1="1791.2" y1="703.3" x2="1795.4" y2="703.3" stroke="#000" stroke-width="2"/>
<text x="1784.3" y="709.1" font-size="17.30" text-anchor="end" letter-spacing="-0.11" stroke="#000" stroke-width="0.31">MEIS2 KD_AML-ETO9a leukemia</text>
<rect x="1795.4" y="724.4" width="46.3" height="24.4" fill="#FF7E79"/>
<line x1="1791.2" y1="736.6" x2="1795.4" y2="736.6" stroke="#000" stroke-width="2"/>
<text x="1784.3" y="742.4" font-size="17.30" text-anchor="end" letter-spacing="-0.11" stroke="#000" stroke-width="0.31">JMJD1C KO_Meis1/Hoxa9_LSCs</text>
<rect x="1795.4" y="757.7" width="41.9" height="24.4" fill="#FF7E79"/>
<line x1="1791.2" y1="769.9" x2="1795.4" y2="769.9" stroke="#000" stroke-width="2"/>
<text x="1784.3" y="775.7" font-size="17.30" text-anchor="end" letter-spacing="-0.11" stroke="#000" stroke-width="0.31">HDAC inhibition_Multiple myeloma</text>
<rect x="1795.4" y="790.9" width="44.3" height="24.4" fill="#FF7E79"/>
<line x1="1791.2" y1="803.1" x2="1795.4" y2="803.1" stroke="#000" stroke-width="2"/>
<text x="1784.3" y="808.9" font-size="17.30" text-anchor="end" letter-spacing="-0.11" stroke="#000" stroke-width="0.31">PRMT4 K/D_human HSPCs</text>
<line x1="1795.4" y1="480.6" x2="1795.4" y2="827.0" stroke="#000" stroke-width="2"/>
<line x1="1794.4" y1="826.0" x2="1962.4" y2="826.0" stroke="#000" stroke-width="2"/>
<line x1="1795.4" y1="826.0" x2="1795.4" y2="830.2" stroke="#000" stroke-width="2"/>
<text x="1795.4" y="847.6" font-size="14.00" text-anchor="middle" stroke="#000" stroke-width="0.25">0</text>
<line x1="1836.9" y1="826.0" x2="1836.9" y2="830.2" stroke="#000" stroke-width="2"/>
<text x="1836.9" y="847.6" font-size="14.00" text-anchor="middle" stroke="#000" stroke-width="0.25">50</text>
<line x1="1878.3" y1="826.0" x2="1878.3" y2="830.2" stroke="#000" stroke-width="2"/>
<text x="1878.3" y="847.6" font-size="14.00" text-anchor="middle" stroke="#000" stroke-width="0.25">100</text>
<line x1="1919.8" y1="826.0" x2="1919.8" y2="830.2" stroke="#000" stroke-width="2"/>
<text x="1919.8" y="847.6" font-size="14.00" text-anchor="middle" stroke="#000" stroke-width="0.25">150</text>
<line x1="1961.2" y1="826.0" x2="1961.2" y2="830.2" stroke="#000" stroke-width="2"/>
<text x="1961.2" y="847.6" font-size="14.00" text-anchor="middle" stroke="#000" stroke-width="0.25">200</text>
<text x="1817.0" y="876.0" font-size="17.04" textLength="122.6" lengthAdjust="spacingAndGlyphs" stroke="#000" stroke-width="0.31">Combined score</text>
<text x="1830.3" y="904.4" font-size="18.16" textLength="104.2" lengthAdjust="spacingAndGlyphs" stroke="#000" stroke-width="0.33">(FDR &lt; 0.05)</text>
<text x="577.0" y="1077.8" font-size="40.5" font-weight="bold" textLength="11.3" lengthAdjust="spacingAndGlyphs">j</text>
<text x="652.2" y="1082.4" font-size="17.91" textLength="343.4" lengthAdjust="spacingAndGlyphs" stroke="#000" stroke-width="0.32">GE independent signature of shared targets</text>
<rect x="824.9" y="1103.6" width="177.0" height="17.3" fill="#7F7F7F"/>
<line x1="820.4" y1="1112.2" x2="824.9" y2="1112.2" stroke="#000" stroke-width="2"/>
<text x="815.1" y="1117.5" font-size="16.55" text-anchor="end" letter-spacing="-0.11" stroke="#000" stroke-width="0.30">Tet1 KO HSPCs</text>
<rect x="824.9" y="1127.1" width="149.1" height="17.3" fill="#7F7F7F"/>
<line x1="820.4" y1="1135.8" x2="824.9" y2="1135.8" stroke="#000" stroke-width="2"/>
<text x="815.1" y="1141.0" font-size="16.55" text-anchor="end" letter-spacing="-0.11" stroke="#000" stroke-width="0.30">MSI2 pertubation_HSCs</text>
<rect x="824.9" y="1150.6" width="134.9" height="17.3" fill="#7F7F7F"/>
<line x1="820.4" y1="1159.2" x2="824.9" y2="1159.2" stroke="#000" stroke-width="2"/>
<text x="815.1" y="1164.5" font-size="16.55" text-anchor="end" letter-spacing="-0.11" stroke="#000" stroke-width="0.30">MDS MEP</text>
<rect x="824.9" y="1174.1" width="119.0" height="17.3" fill="#7F7F7F"/>
<line x1="820.4" y1="1182.8" x2="824.9" y2="1182.8" stroke="#000" stroke-width="2"/>
<text x="815.1" y="1188.0" font-size="16.55" text-anchor="end" letter-spacing="-0.11" stroke="#000" stroke-width="0.30">JMJD1C KO LSKs</text>
<rect x="824.9" y="1197.6" width="106.7" height="17.3" fill="#7F7F7F"/>
<line x1="820.4" y1="1206.2" x2="824.9" y2="1206.2" stroke="#000" stroke-width="2"/>
<text x="815.1" y="1211.5" font-size="16.55" text-anchor="end" letter-spacing="-0.11" stroke="#000" stroke-width="0.30">MSI2 O/E MDS LSKs</text>
<rect x="824.9" y="1221.1" width="89.4" height="17.3" fill="#7F7F7F"/>
<line x1="820.4" y1="1229.8" x2="824.9" y2="1229.8" stroke="#000" stroke-width="2"/>
<text x="815.1" y="1235.0" font-size="16.55" text-anchor="end" letter-spacing="-0.11" stroke="#000" stroke-width="0.30">IPTKB KO_ HSCs</text>
<rect x="824.9" y="1244.6" width="84.7" height="17.3" fill="#7F7F7F"/>
<line x1="820.4" y1="1253.2" x2="824.9" y2="1253.2" stroke="#000" stroke-width="2"/>
<text x="815.1" y="1258.5" font-size="16.55" text-anchor="end" letter-spacing="-0.11" stroke="#000" stroke-width="0.30">DOT1/MLL1L KO MN1 leukemia</text>
<rect x="824.9" y="1268.1" width="52.6" height="17.3" fill="#7F7F7F"/>
<line x1="820.4" y1="1276.8" x2="824.9" y2="1276.8" stroke="#000" stroke-width="2"/>
<text x="815.1" y="1282.0" font-size="16.55" text-anchor="end" letter-spacing="-0.11" stroke="#000" stroke-width="0.30">SIRT1 activation LSKs</text>
<rect x="824.9" y="1291.6" width="50.4" height="17.3" fill="#7F7F7F"/>
<line x1="820.4" y1="1300.2" x2="824.9" y2="1300.2" stroke="#000" stroke-width="2"/>
<text x="815.1" y="1305.5" font-size="16.55" text-anchor="end" letter-spacing="-0.11" stroke="#000" stroke-width="0.30">MSI2 KO_ LSCs</text>
<rect x="824.9" y="1315.1" width="29.2" height="17.3" fill="#7F7F7F"/>
<line x1="820.4" y1="1323.8" x2="824.9" y2="1323.8" stroke="#000" stroke-width="2"/>
<text x="815.1" y="1329.0" font-size="16.55" text-anchor="end" letter-spacing="-0.11" stroke="#000" stroke-width="0.30">JMJD1C KO_Mesi1/Hoxa9 LSCs</text>
<line x1="824.9" y1="1096.3" x2="824.9" y2="1339.9" stroke="#000" stroke-width="2"/>
<line x1="823.9" y1="1338.9" x2="1021.7" y2="1338.9" stroke="#000" stroke-width="2"/>
<line x1="824.9" y1="1338.9" x2="824.9" y2="1343.4" stroke="#000" stroke-width="2"/>
<text x="824.9" y="1356.7" font-size="12.50" text-anchor="middle" stroke="#000" stroke-width="0.22">0</text>
<line x1="863.9" y1="1338.9" x2="863.9" y2="1343.4" stroke="#000" stroke-width="2"/>
<text x="863.9" y="1356.7" font-size="12.50" text-anchor="middle" stroke="#000" stroke-width="0.22">100</text>
<line x1="902.9" y1="1338.9" x2="902.9" y2="1343.4" stroke="#000" stroke-width="2"/>
<text x="902.9" y="1356.7" font-size="12.50" text-anchor="middle" stroke="#000" stroke-width="0.22">200</text>
<line x1="941.9" y1="1338.9" x2="941.9" y2="1343.4" stroke="#000" stroke-width="2"/>
<text x="941.9" y="1356.7" font-size="12.50" text-anchor="middle" stroke="#000" stroke-width="0.22">300</text>
<line x1="981.2" y1="1338.9" x2="981.2" y2="1343.4" stroke="#000" stroke-width="2"/>
<text x="981.2" y="1356.7" font-size="12.50" text-anchor="middle" stroke="#000" stroke-width="0.22">400</text>
<line x1="1020.5" y1="1338.9" x2="1020.5" y2="1343.4" stroke="#000" stroke-width="2"/>
<text x="1020.5" y="1356.7" font-size="12.50" text-anchor="middle" stroke="#000" stroke-width="0.22">500</text>
<text x="875.2" y="1377.6" font-size="14.37" textLength="103.4" lengthAdjust="spacingAndGlyphs" stroke="#000" stroke-width="0.26">Combined score</text>
<text x="886.3" y="1399.4" font-size="13.17" textLength="75.6" lengthAdjust="spacingAndGlyphs" stroke="#000" stroke-width="0.24">(FDR &lt; 0.05)</text>
<text x="1137.5" y="1076.8" font-size="40" font-weight="bold" textLength="24.0" lengthAdjust="spacingAndGlyphs">k</text>
<text x="1210.2" y="1080.0" font-size="17.96" textLength="502.3" lengthAdjust="spacingAndGlyphs" stroke="#000" stroke-width="0.32">GE independent signature of LSC unique vs LSK unique targets</text>
<rect x="1481.0" y="1129.1" width="238.0" height="14.6" fill="#FF7E79"/>
<rect x="1481.0" y="1170.7" width="157.5" height="14.6" fill="#FF7E79"/>
<rect x="1481.0" y="1211.9" width="146.9" height="14.6" fill="#FF7E79"/>
<rect x="1481.0" y="1253.5" width="126.5" height="14.6" fill="#FF7E79"/>
<rect x="1481.0" y="1295.0" width="48.2" height="14.6" fill="#FF7E79"/>
<rect x="1479.3" y="1114.5" width="1.7" height="14.8" fill="#0433FF"/>
<rect x="1481.0" y="1155.2" width="11.9" height="14.8" fill="#0433FF"/>
<rect x="1479.3" y="1197.0" width="1.7" height="14.8" fill="#0433FF"/>
<rect x="1481.0" y="1237.5" width="13.2" height="14.8" fill="#0433FF"/>
<line x1="1459.7" y1="1109.6" x2="1459.7" y2="1313.0" stroke="#000" stroke-width="2.2"/>
<line x1="1481.0" y1="1109.6" x2="1481.0" y2="1312.0" stroke="#000" stroke-width="2"/>
<line x1="1458.6" y1="1311.9" x2="1740.7" y2="1311.9" stroke="#000" stroke-width="2.2"/>
<line x1="1455.0" y1="1128.2" x2="1459.7" y2="1128.2" stroke="#000" stroke-width="2"/>
<text x="1447.3" y="1135.4" font-size="21.00" text-anchor="end" letter-spacing="-0.135" stroke="#000" stroke-width="0.38">MSI2 K/O_LSCs</text>
<line x1="1455.0" y1="1169.8" x2="1459.7" y2="1169.8" stroke="#000" stroke-width="2"/>
<text x="1447.3" y="1177.0" font-size="21.00" text-anchor="end" letter-spacing="-0.135" stroke="#000" stroke-width="0.38">MSI2 pertubation_HSCs</text>
<line x1="1455.0" y1="1211.4" x2="1459.7" y2="1211.4" stroke="#000" stroke-width="2"/>
<text x="1447.3" y="1218.6" font-size="21.00" text-anchor="end" letter-spacing="-0.135" stroke="#000" stroke-width="0.38">JMJD1C K/O_Meis1/Hoxa9 LSCs</text>
<line x1="1455.0" y1="1252.6" x2="1459.7" y2="1252.6" stroke="#000" stroke-width="2"/>
<text x="1447.3" y="1259.8" font-size="21.00" text-anchor="end" letter-spacing="-0.135" stroke="#000" stroke-width="0.38">MLL1 K/O MN1 leukemia</text>
<line x1="1455.0" y1="1294.2" x2="1459.7" y2="1294.2" stroke="#000" stroke-width="2"/>
<text x="1447.3" y="1301.4" font-size="21.00" text-anchor="end" letter-spacing="-0.135" stroke="#000" stroke-width="0.38">JMJD1C K/O_MLL-AF9 LSCs</text>
<line x1="1481.0" y1="1311.9" x2="1481.0" y2="1317.5" stroke="#000" stroke-width="2"/>
<text x="1481.0" y="1336.6" font-size="18.00" text-anchor="middle" stroke="#000" stroke-width="0.32">0</text>
<line x1="1567.3" y1="1311.9" x2="1567.3" y2="1317.5" stroke="#000" stroke-width="2"/>
<text x="1567.3" y="1336.6" font-size="18.00" text-anchor="middle" stroke="#000" stroke-width="0.32">20</text>
<line x1="1653.5" y1="1311.9" x2="1653.5" y2="1317.5" stroke="#000" stroke-width="2"/>
<text x="1653.5" y="1336.6" font-size="18.00" text-anchor="middle" stroke="#000" stroke-width="0.32">40</text>
<line x1="1739.8" y1="1311.9" x2="1739.8" y2="1317.5" stroke="#000" stroke-width="2"/>
<text x="1739.8" y="1336.6" font-size="18.00" text-anchor="middle" stroke="#000" stroke-width="0.32">60</text>
<text x="1543.1" y="1362.7" font-size="18.03" textLength="129.7" lengthAdjust="spacingAndGlyphs" stroke="#000" stroke-width="0.32">Combined score</text>
<text x="1491.8" y="1126.5" font-size="17.50" textLength="19.2" lengthAdjust="spacingAndGlyphs" stroke="#000" stroke-width="0.32">ns</text>
<text x="1508.6" y="1166.3" font-size="17.50" textLength="19.2" lengthAdjust="spacingAndGlyphs" stroke="#000" stroke-width="0.32">ns</text>
<text x="1498.4" y="1204.8" font-size="17.50" textLength="19.2" lengthAdjust="spacingAndGlyphs" stroke="#000" stroke-width="0.32">ns</text>
<text x="1506.8" y="1249.5" font-size="17.50" textLength="19.2" lengthAdjust="spacingAndGlyphs" stroke="#000" stroke-width="0.32">ns</text>
<text x="1494.0" y="1287.5" font-size="17.50" textLength="19.2" lengthAdjust="spacingAndGlyphs" stroke="#000" stroke-width="0.32">ns</text>
<text x="1727.4" y="1146.8" font-size="17.00" text-anchor="middle" font-weight="bold">*</text>
<text x="1647.8" y="1186.2" font-size="17.00" text-anchor="middle" font-weight="bold">*</text>
<text x="1635.8" y="1228.7" font-size="17.00" text-anchor="middle" font-weight="bold">*</text>
<text x="1614.2" y="1270.7" font-size="17.00" text-anchor="middle" font-weight="bold">*</text>
<text x="1545.6" y="1308.8" font-size="17.00" text-anchor="middle" font-weight="bold">*</text>
<rect x="1701.8" y="1202.6" width="24.7" height="15.4" fill="#FF7E79"/>
<rect x="1701.8" y="1228.7" width="24.7" height="15.5" fill="#0433FF"/>
<text x="1734.7" y="1215.0" font-size="15.48" textLength="79.9" lengthAdjust="spacingAndGlyphs" stroke="#000" stroke-width="0.28">LSC unique</text>
<text x="1734.7" y="1241.0" font-size="15.45" textLength="78.9" lengthAdjust="spacingAndGlyphs" stroke="#000" stroke-width="0.28">LSK unique</text>
</svg>
</body></html>
